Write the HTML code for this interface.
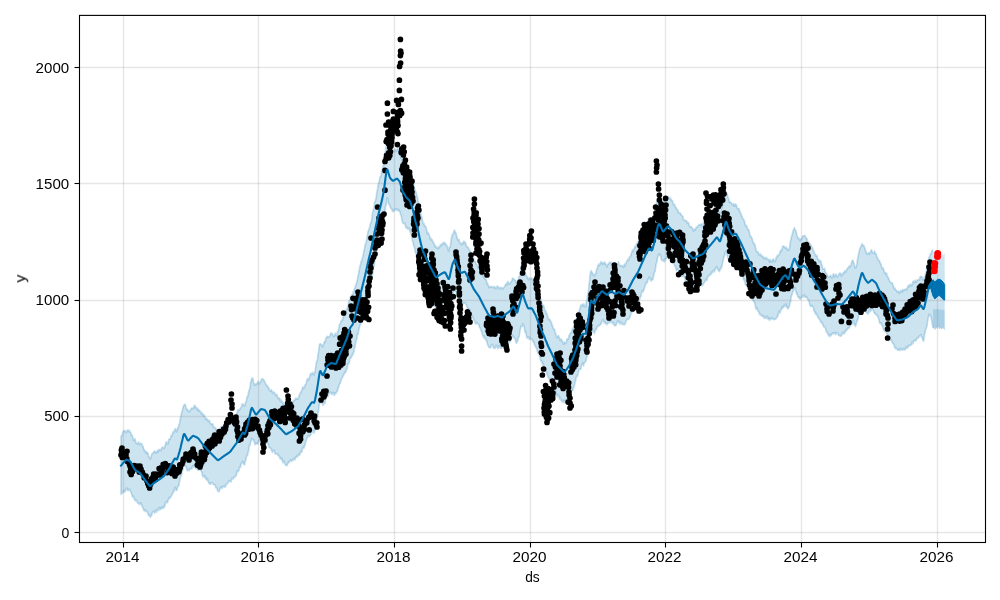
<!DOCTYPE html>
<html><head><meta charset="utf-8"><title>Forecast plot</title>
<style>html,body{margin:0;padding:0;background:#fff;}body{width:1000px;height:600px;overflow:hidden;font-family:"Liberation Sans",sans-serif;}svg{display:block;}</style></head>
<body>
<svg width="1000" height="600" viewBox="0 0 1000 600">
<rect width="1000" height="600" fill="#fff"/>
<clipPath id="c"><rect x="79.5" y="15.4" width="906.0" height="527.1"/></clipPath>
<g clip-path="url(#c)">
<path d="M121.0,436.0 L121.5,436.5 L122.0,435.7 L122.5,433.4 L123.0,431.9 L123.5,431.0 L124.0,431.5 L124.5,430.4 L125.0,431.3 L125.5,431.2 L126.0,432.5 L126.5,432.7 L127.0,430.6 L127.5,430.3 L128.0,429.9 L128.5,431.3 L129.0,431.7 L129.5,430.4 L130.0,432.2 L130.5,432.2 L131.0,433.3 L131.5,435.5 L132.0,435.1 L132.5,436.4 L133.0,438.1 L133.5,440.3 L134.0,439.8 L134.5,439.2 L135.0,438.8 L135.5,441.3 L136.0,442.9 L136.5,443.1 L137.0,443.0 L137.5,444.0 L138.0,443.4 L138.5,441.9 L139.0,443.3 L139.5,444.8 L140.0,444.2 L140.5,443.1 L141.0,443.6 L141.5,443.8 L142.0,444.5 L142.5,446.1 L143.0,446.1 L143.5,448.1 L144.0,450.3 L144.5,449.9 L145.0,450.3 L145.5,452.9 L146.0,451.7 L146.5,451.8 L147.0,453.3 L147.5,452.4 L148.0,453.6 L148.5,456.5 L149.0,456.6 L149.5,457.6 L150.0,458.8 L150.5,459.0 L151.0,457.1 L151.5,455.0 L152.0,453.7 L152.5,453.4 L153.0,453.5 L153.5,452.1 L154.0,451.6 L154.5,451.0 L155.0,452.5 L155.5,451.8 L156.0,451.7 L156.5,453.1 L157.0,452.2 L157.5,450.4 L158.0,450.2 L158.5,451.6 L159.0,449.3 L159.5,449.8 L160.0,449.9 L160.5,449.7 L161.0,450.5 L161.5,448.6 L162.0,447.3 L162.5,447.7 L163.0,447.0 L163.5,448.1 L164.0,448.4 L164.5,448.1 L165.0,445.5 L165.5,444.3 L166.0,442.3 L166.5,441.8 L167.0,443.6 L167.5,443.9 L168.0,443.8 L168.5,440.8 L169.0,439.0 L169.5,439.1 L170.0,439.3 L170.5,438.3 L171.0,435.4 L171.5,436.4 L172.0,435.8 L172.5,433.1 L173.0,431.9 L173.5,433.0 L174.0,431.1 L174.5,430.8 L175.0,428.6 L175.5,430.5 L176.0,429.2 L176.5,431.8 L177.0,430.3 L177.5,428.1 L178.0,428.7 L178.5,426.6 L179.0,424.4 L179.5,423.8 L180.0,420.5 L180.5,417.8 L181.0,415.5 L181.5,412.8 L182.0,411.2 L182.5,410.1 L183.0,407.8 L183.5,405.9 L184.0,405.0 L184.5,404.8 L185.0,404.2 L185.5,405.1 L186.0,407.9 L186.5,408.4 L187.0,409.9 L187.5,409.6 L188.0,410.0 L188.5,411.7 L189.0,411.2 L189.5,411.9 L190.0,410.9 L190.5,409.8 L191.0,408.8 L191.5,408.2 L192.0,408.3 L192.5,408.9 L193.0,407.9 L193.5,408.5 L194.0,406.5 L194.5,405.6 L195.0,405.3 L195.5,407.8 L196.0,406.9 L196.5,408.3 L197.0,409.8 L197.5,408.4 L198.0,408.6 L198.5,411.1 L199.0,409.8 L199.5,410.8 L200.0,410.6 L200.5,412.6 L201.0,413.3 L201.5,412.2 L202.0,414.1 L202.5,413.4 L203.0,415.9 L203.5,415.1 L204.0,414.8 L204.5,415.8 L205.0,417.0 L205.5,419.2 L206.0,418.2 L206.5,419.5 L207.0,418.7 L207.5,420.7 L208.0,419.8 L208.5,421.6 L209.0,420.8 L209.5,420.7 L210.0,422.3 L210.5,423.6 L211.0,423.5 L211.5,424.6 L212.0,423.9 L212.5,423.7 L213.0,424.8 L213.5,427.1 L214.0,427.5 L214.5,427.4 L215.0,427.3 L215.5,429.2 L216.0,428.5 L216.5,431.0 L217.0,432.0 L217.5,431.6 L218.0,431.1 L218.5,431.6 L219.0,430.4 L219.5,430.9 L220.0,429.9 L220.5,428.0 L221.0,427.0 L221.5,427.0 L222.0,426.2 L222.5,428.4 L223.0,427.1 L223.5,426.4 L224.0,425.4 L224.5,425.1 L225.0,427.3 L225.5,425.5 L226.0,424.8 L226.5,423.3 L227.0,424.0 L227.5,423.2 L228.0,422.0 L228.5,421.5 L229.0,421.0 L229.5,421.5 L230.0,422.3 L230.5,422.9 L231.0,422.6 L231.5,421.0 L232.0,421.9 L232.5,421.1 L233.0,418.0 L233.5,419.1 L234.0,418.7 L234.5,416.1 L235.0,415.8 L235.5,416.3 L236.0,415.4 L236.5,415.0 L237.0,412.9 L237.5,411.2 L238.0,409.9 L238.5,410.4 L239.0,410.3 L239.5,409.3 L240.0,409.4 L240.5,408.0 L241.0,407.4 L241.5,406.8 L242.0,403.9 L242.5,404.3 L243.0,404.6 L243.5,404.4 L244.0,405.0 L244.5,406.1 L245.0,405.5 L245.5,402.3 L246.0,401.9 L246.5,400.3 L247.0,396.9 L247.5,396.6 L248.0,395.4 L248.5,393.0 L249.0,390.3 L249.5,389.3 L250.0,387.8 L250.5,382.6 L251.0,381.6 L251.5,379.5 L252.0,378.0 L252.5,378.2 L253.0,378.7 L253.5,382.2 L254.0,383.8 L254.5,385.2 L255.0,384.1 L255.5,385.0 L256.0,383.8 L256.5,384.5 L257.0,383.2 L257.5,382.8 L258.0,381.3 L258.5,383.1 L259.0,383.9 L259.5,383.8 L260.0,381.7 L260.5,382.5 L261.0,380.6 L261.5,379.5 L262.0,378.6 L262.5,378.9 L263.0,379.0 L263.5,380.0 L264.0,380.0 L264.5,381.9 L265.0,382.1 L265.5,383.8 L266.0,384.4 L266.5,385.2 L267.0,386.1 L267.5,385.5 L268.0,387.8 L268.5,387.9 L269.0,387.8 L269.5,390.5 L270.0,391.0 L270.5,391.1 L271.0,390.0 L271.5,389.9 L272.0,391.0 L272.5,393.2 L273.0,392.8 L273.5,392.0 L274.0,392.4 L274.5,392.4 L275.0,393.8 L275.5,395.3 L276.0,395.0 L276.5,395.1 L277.0,394.3 L277.5,397.3 L278.0,397.4 L278.5,398.9 L279.0,397.9 L279.5,398.1 L280.0,400.4 L280.5,401.4 L281.0,399.3 L281.5,401.6 L282.0,401.9 L282.5,401.6 L283.0,403.3 L283.5,404.8 L284.0,402.9 L284.5,403.7 L285.0,405.8 L285.5,406.0 L286.0,405.5 L286.5,403.7 L287.0,403.3 L287.5,404.4 L288.0,402.9 L288.5,403.8 L289.0,402.3 L289.5,402.9 L290.0,402.5 L290.5,402.9 L291.0,401.9 L291.5,403.6 L292.0,403.8 L292.5,401.6 L293.0,402.8 L293.5,400.9 L294.0,400.5 L294.5,399.8 L295.0,400.1 L295.5,398.6 L296.0,398.1 L296.5,398.8 L297.0,399.3 L297.5,398.3 L298.0,399.1 L298.5,398.5 L299.0,395.7 L299.5,394.3 L300.0,393.9 L300.5,392.3 L301.0,392.7 L301.5,390.6 L302.0,389.4 L302.5,388.1 L303.0,386.7 L303.5,388.3 L304.0,387.9 L304.5,387.9 L305.0,384.8 L305.5,384.7 L306.0,383.9 L306.5,382.0 L307.0,379.9 L307.5,378.7 L308.0,380.1 L308.5,380.3 L309.0,377.9 L309.5,378.0 L310.0,375.0 L310.5,374.4 L311.0,373.1 L311.5,374.5 L312.0,373.3 L312.5,374.1 L313.0,372.2 L313.5,374.5 L314.0,374.9 L314.5,372.8 L315.0,372.6 L315.5,368.4 L316.0,365.3 L316.5,361.5 L317.0,361.2 L317.5,359.4 L318.0,354.2 L318.5,352.5 L319.0,348.0 L319.5,344.2 L320.0,343.9 L320.5,343.7 L321.0,344.8 L321.5,345.2 L322.0,344.9 L322.5,346.9 L323.0,345.6 L323.5,344.6 L324.0,342.4 L324.5,341.7 L325.0,342.6 L325.5,340.2 L326.0,337.9 L326.5,338.2 L327.0,336.4 L327.5,336.6 L328.0,337.1 L328.5,336.8 L329.0,337.1 L329.5,336.1 L330.0,336.0 L330.5,334.1 L331.0,332.8 L331.5,333.8 L332.0,333.7 L332.5,334.1 L333.0,335.4 L333.5,336.6 L334.0,335.5 L334.5,336.2 L335.0,333.9 L335.5,333.2 L336.0,335.4 L336.5,335.6 L337.0,334.6 L337.5,331.4 L338.0,331.6 L338.5,329.8 L339.0,327.0 L339.5,324.8 L340.0,323.6 L340.5,323.7 L341.0,321.0 L341.5,321.5 L342.0,319.8 L342.5,320.1 L343.0,317.1 L343.5,316.2 L344.0,316.1 L344.5,313.7 L345.0,312.9 L345.5,311.5 L346.0,310.2 L346.5,309.2 L347.0,309.6 L347.5,307.2 L348.0,306.4 L348.5,302.6 L349.0,301.5 L349.5,300.0 L350.0,298.9 L350.5,296.5 L351.0,297.3 L351.5,295.4 L352.0,295.2 L352.5,293.9 L353.0,293.9 L353.5,291.4 L354.0,291.3 L354.5,288.1 L355.0,288.1 L355.5,285.4 L356.0,284.6 L356.5,283.1 L357.0,281.1 L357.5,278.9 L358.0,275.5 L358.5,274.4 L359.0,270.7 L359.5,268.9 L360.0,265.7 L360.5,265.2 L361.0,261.5 L361.5,261.2 L362.0,260.2 L362.5,257.9 L363.0,255.8 L363.5,253.1 L364.0,250.8 L364.5,248.7 L365.0,245.2 L365.5,243.9 L366.0,243.0 L366.5,240.3 L367.0,238.0 L367.5,234.5 L368.0,231.5 L368.5,230.4 L369.0,229.2 L369.5,227.8 L370.0,225.4 L370.5,223.2 L371.0,222.5 L371.5,220.4 L372.0,217.7 L372.5,213.2 L373.0,210.8 L373.5,209.8 L374.0,207.6 L374.5,202.7 L375.0,201.6 L375.5,200.3 L376.0,198.3 L376.5,195.1 L377.0,191.4 L377.5,189.5 L378.0,185.8 L378.5,183.3 L379.0,182.8 L379.5,179.8 L380.0,177.1 L380.5,176.6 L381.0,176.1 L381.5,173.8 L382.0,169.8 L382.5,168.5 L383.0,167.0 L383.5,165.6 L384.0,161.0 L384.5,157.0 L385.0,153.8 L385.5,150.7 L386.0,146.8 L386.5,143.1 L387.0,140.4 L387.5,139.0 L388.0,142.0 L388.5,143.9 L389.0,144.4 L389.5,147.3 L390.0,146.9 L390.5,147.4 L391.0,148.1 L391.5,150.0 L392.0,151.2 L392.5,150.3 L393.0,150.3 L393.5,149.7 L394.0,151.7 L394.5,150.9 L395.0,149.0 L395.5,149.8 L396.0,150.3 L396.5,151.3 L397.0,149.6 L397.5,148.4 L398.0,149.6 L398.5,149.2 L399.0,149.3 L399.5,152.8 L400.0,152.6 L400.5,154.6 L401.0,157.9 L401.5,158.8 L402.0,159.0 L402.5,162.1 L403.0,161.2 L403.5,163.7 L404.0,165.4 L404.5,164.8 L405.0,165.1 L405.5,166.0 L406.0,168.1 L406.5,169.3 L407.0,169.5 L407.5,170.7 L408.0,169.8 L408.5,172.0 L409.0,173.0 L409.5,171.6 L410.0,173.2 L410.5,174.7 L411.0,176.8 L411.5,176.4 L412.0,178.4 L412.5,180.3 L413.0,181.6 L413.5,184.3 L414.0,186.1 L414.5,188.8 L415.0,189.9 L415.5,190.9 L416.0,192.3 L416.5,193.8 L417.0,196.1 L417.5,197.0 L418.0,200.9 L418.5,204.0 L419.0,204.7 L419.5,207.5 L420.0,211.5 L420.5,211.8 L421.0,215.9 L421.5,216.1 L422.0,217.3 L422.5,221.1 L423.0,222.8 L423.5,224.0 L424.0,223.4 L424.5,226.0 L425.0,226.3 L425.5,226.0 L426.0,227.4 L426.5,228.8 L427.0,232.1 L427.5,233.7 L428.0,232.2 L428.5,233.4 L429.0,234.2 L429.5,235.8 L430.0,238.1 L430.5,239.6 L431.0,238.0 L431.5,240.4 L432.0,239.4 L432.5,241.2 L433.0,241.5 L433.5,242.7 L434.0,243.4 L434.5,244.4 L435.0,246.8 L435.5,246.3 L436.0,246.2 L436.5,248.0 L437.0,248.2 L437.5,247.3 L438.0,248.4 L438.5,248.7 L439.0,246.3 L439.5,247.4 L440.0,245.9 L440.5,244.5 L441.0,244.8 L441.5,245.5 L442.0,244.3 L442.5,243.0 L443.0,244.0 L443.5,242.6 L444.0,243.9 L444.5,242.2 L445.0,244.2 L445.5,243.3 L446.0,245.4 L446.5,245.0 L447.0,245.7 L447.5,247.5 L448.0,248.2 L448.5,251.2 L449.0,249.1 L449.5,246.9 L450.0,247.2 L450.5,245.1 L451.0,241.1 L451.5,237.7 L452.0,235.9 L452.5,234.3 L453.0,234.1 L453.5,233.5 L454.0,231.0 L454.5,230.2 L455.0,231.9 L455.5,232.2 L456.0,233.1 L456.5,235.3 L457.0,237.3 L457.5,239.3 L458.0,240.1 L458.5,239.8 L459.0,239.3 L459.5,241.8 L460.0,242.9 L460.5,243.2 L461.0,244.1 L461.5,244.6 L462.0,242.9 L462.5,244.1 L463.0,243.5 L463.5,241.7 L464.0,241.1 L464.5,243.5 L465.0,241.9 L465.5,243.3 L466.0,244.5 L466.5,246.6 L467.0,246.7 L467.5,246.6 L468.0,247.8 L468.5,247.9 L469.0,249.3 L469.5,250.2 L470.0,250.3 L470.5,252.2 L471.0,253.4 L471.5,254.1 L472.0,257.4 L472.5,256.9 L473.0,257.9 L473.5,258.0 L474.0,260.8 L474.5,261.3 L475.0,261.0 L475.5,261.7 L476.0,264.0 L476.5,264.2 L477.0,265.0 L477.5,266.6 L478.0,267.9 L478.5,267.2 L479.0,267.5 L479.5,266.8 L480.0,268.0 L480.5,269.1 L481.0,270.6 L481.5,272.7 L482.0,275.0 L482.5,273.7 L483.0,276.5 L483.5,275.7 L484.0,277.6 L484.5,276.8 L485.0,279.1 L485.5,278.8 L486.0,279.6 L486.5,280.8 L487.0,283.8 L487.5,283.1 L488.0,284.8 L488.5,286.3 L489.0,287.6 L489.5,286.3 L490.0,286.8 L490.5,286.8 L491.0,287.2 L491.5,286.4 L492.0,287.0 L492.5,287.3 L493.0,287.6 L493.5,287.9 L494.0,286.3 L494.5,287.0 L495.0,287.9 L495.5,287.3 L496.0,288.9 L496.5,288.5 L497.0,286.1 L497.5,287.2 L498.0,286.6 L498.5,287.0 L499.0,288.7 L499.5,288.9 L500.0,287.8 L500.5,287.6 L501.0,288.1 L501.5,287.4 L502.0,287.7 L502.5,288.9 L503.0,289.2 L503.5,287.9 L504.0,287.1 L504.5,287.0 L505.0,285.6 L505.5,284.6 L506.0,285.1 L506.5,283.1 L507.0,284.9 L507.5,282.6 L508.0,281.3 L508.5,283.5 L509.0,283.5 L509.5,284.1 L510.0,283.1 L510.5,282.5 L511.0,281.8 L511.5,281.0 L512.0,280.6 L512.5,278.1 L513.0,278.6 L513.5,278.5 L514.0,279.5 L514.5,279.9 L515.0,279.9 L515.5,280.5 L516.0,282.5 L516.5,282.0 L517.0,281.4 L517.5,282.7 L518.0,282.2 L518.5,277.8 L519.0,276.7 L519.5,276.5 L520.0,273.5 L520.5,271.9 L521.0,268.7 L521.5,265.7 L522.0,263.9 L522.5,262.9 L523.0,263.2 L523.5,266.7 L524.0,269.3 L524.5,269.1 L525.0,272.0 L525.5,274.1 L526.0,275.3 L526.5,275.9 L527.0,276.2 L527.5,278.6 L528.0,277.5 L528.5,279.8 L529.0,278.9 L529.5,278.1 L530.0,278.8 L530.5,278.7 L531.0,278.9 L531.5,277.9 L532.0,278.6 L532.5,280.3 L533.0,280.9 L533.5,283.6 L534.0,284.0 L534.5,283.0 L535.0,285.3 L535.5,285.6 L536.0,288.5 L536.5,289.4 L537.0,289.9 L537.5,290.8 L538.0,292.7 L538.5,295.0 L539.0,294.1 L539.5,295.8 L540.0,298.6 L540.5,297.9 L541.0,300.8 L541.5,301.8 L542.0,303.9 L542.5,304.9 L543.0,304.8 L543.5,306.1 L544.0,306.1 L544.5,309.3 L545.0,310.3 L545.5,311.0 L546.0,311.3 L546.5,313.9 L547.0,313.4 L547.5,316.2 L548.0,317.4 L548.5,319.5 L549.0,319.6 L549.5,319.2 L550.0,319.6 L550.5,320.9 L551.0,322.2 L551.5,322.4 L552.0,326.0 L552.5,325.2 L553.0,327.8 L553.5,328.9 L554.0,329.7 L554.5,329.1 L555.0,332.2 L555.5,333.2 L556.0,335.0 L556.5,336.9 L557.0,337.8 L557.5,336.6 L558.0,336.0 L558.5,335.6 L559.0,337.4 L559.5,338.1 L560.0,340.2 L560.5,340.4 L561.0,339.1 L561.5,339.3 L562.0,340.9 L562.5,342.0 L563.0,342.1 L563.5,344.1 L564.0,342.7 L564.5,342.0 L565.0,343.5 L565.5,343.4 L566.0,342.9 L566.5,341.7 L567.0,338.8 L567.5,339.5 L568.0,339.2 L568.5,338.4 L569.0,335.9 L569.5,334.7 L570.0,334.4 L570.5,332.8 L571.0,333.1 L571.5,332.8 L572.0,329.8 L572.5,328.5 L573.0,329.4 L573.5,326.7 L574.0,324.4 L574.5,325.2 L575.0,323.5 L575.5,323.2 L576.0,321.7 L576.5,318.8 L577.0,318.4 L577.5,315.5 L578.0,313.8 L578.5,311.8 L579.0,312.4 L579.5,309.5 L580.0,308.2 L580.5,306.4 L581.0,305.0 L581.5,306.0 L582.0,305.4 L582.5,304.2 L583.0,304.0 L583.5,306.2 L584.0,304.0 L584.5,305.8 L585.0,305.9 L585.5,306.8 L586.0,305.7 L586.5,301.4 L587.0,299.8 L587.5,295.3 L588.0,293.8 L588.5,290.0 L589.0,284.7 L589.5,281.7 L590.0,275.5 L590.5,273.0 L591.0,270.6 L591.5,271.8 L592.0,273.5 L592.5,272.5 L593.0,274.3 L593.5,275.4 L594.0,276.0 L594.5,275.8 L595.0,273.8 L595.5,273.8 L596.0,273.1 L596.5,269.9 L597.0,268.5 L597.5,267.3 L598.0,265.1 L598.5,265.3 L599.0,264.0 L599.5,265.4 L600.0,264.0 L600.5,263.3 L601.0,261.5 L601.5,263.4 L602.0,262.7 L602.5,262.7 L603.0,264.5 L603.5,262.9 L604.0,262.6 L604.5,262.0 L605.0,264.2 L605.5,263.1 L606.0,264.7 L606.5,266.1 L607.0,267.2 L607.5,264.6 L608.0,264.6 L608.5,263.6 L609.0,263.3 L609.5,263.5 L610.0,261.8 L610.5,262.8 L611.0,263.5 L611.5,262.6 L612.0,264.0 L612.5,263.3 L613.0,264.5 L613.5,263.5 L614.0,263.8 L614.5,265.5 L615.0,266.2 L615.5,263.9 L616.0,265.7 L616.5,263.9 L617.0,264.3 L617.5,264.0 L618.0,263.4 L618.5,261.6 L619.0,264.0 L619.5,265.2 L620.0,265.5 L620.5,266.1 L621.0,265.7 L621.5,265.8 L622.0,265.5 L622.5,265.8 L623.0,265.8 L623.5,267.4 L624.0,265.8 L624.5,264.1 L625.0,265.7 L625.5,263.8 L626.0,263.5 L626.5,261.6 L627.0,261.0 L627.5,260.3 L628.0,258.9 L628.5,260.3 L629.0,259.4 L629.5,257.1 L630.0,256.5 L630.5,256.2 L631.0,254.4 L631.5,252.8 L632.0,252.1 L632.5,249.9 L633.0,251.4 L633.5,250.5 L634.0,248.8 L634.5,247.6 L635.0,246.2 L635.5,247.5 L636.0,245.0 L636.5,244.6 L637.0,242.9 L637.5,244.6 L638.0,242.1 L638.5,241.0 L639.0,240.8 L639.5,240.7 L640.0,239.8 L640.5,238.8 L641.0,237.9 L641.5,237.3 L642.0,236.2 L642.5,234.8 L643.0,232.6 L643.5,231.3 L644.0,230.7 L644.5,229.3 L645.0,227.5 L645.5,227.0 L646.0,225.1 L646.5,223.6 L647.0,223.8 L647.5,222.4 L648.0,220.1 L648.5,218.4 L649.0,219.0 L649.5,220.7 L650.0,221.7 L650.5,222.8 L651.0,221.8 L651.5,220.2 L652.0,220.9 L652.5,221.4 L653.0,219.0 L653.5,216.9 L654.0,215.5 L654.5,212.7 L655.0,210.2 L655.5,208.8 L656.0,204.8 L656.5,202.6 L657.0,200.9 L657.5,200.0 L658.0,197.2 L658.5,197.5 L659.0,196.1 L659.5,194.4 L660.0,197.0 L660.5,197.5 L661.0,199.7 L661.5,201.1 L662.0,202.7 L662.5,201.6 L663.0,202.3 L663.5,201.3 L664.0,201.8 L664.5,200.7 L665.0,200.8 L665.5,199.8 L666.0,198.7 L666.5,196.8 L667.0,198.5 L667.5,198.3 L668.0,197.7 L668.5,196.8 L669.0,197.8 L669.5,198.7 L670.0,197.8 L670.5,199.8 L671.0,198.8 L671.5,200.0 L672.0,201.3 L672.5,200.6 L673.0,203.3 L673.5,204.9 L674.0,204.3 L674.5,204.3 L675.0,206.5 L675.5,207.6 L676.0,207.1 L676.5,209.0 L677.0,209.6 L677.5,209.5 L678.0,212.0 L678.5,211.3 L679.0,213.0 L679.5,213.3 L680.0,213.4 L680.5,213.1 L681.0,215.0 L681.5,214.9 L682.0,215.9 L682.5,216.0 L683.0,216.9 L683.5,219.8 L684.0,220.1 L684.5,220.6 L685.0,220.8 L685.5,220.2 L686.0,220.9 L686.5,221.0 L687.0,221.4 L687.5,223.3 L688.0,222.8 L688.5,222.6 L689.0,225.3 L689.5,225.5 L690.0,227.2 L690.5,226.7 L691.0,226.9 L691.5,226.7 L692.0,227.9 L692.5,228.6 L693.0,229.8 L693.5,230.9 L694.0,229.3 L694.5,229.3 L695.0,230.0 L695.5,229.0 L696.0,227.6 L696.5,227.2 L697.0,227.5 L697.5,226.9 L698.0,225.7 L698.5,225.6 L699.0,224.7 L699.5,225.1 L700.0,224.9 L700.5,224.8 L701.0,224.0 L701.5,224.0 L702.0,226.1 L702.5,226.8 L703.0,224.3 L703.5,222.6 L704.0,223.5 L704.5,222.8 L705.0,223.1 L705.5,223.4 L706.0,222.5 L706.5,220.0 L707.0,220.6 L707.5,218.2 L708.0,217.2 L708.5,216.9 L709.0,215.6 L709.5,216.7 L710.0,217.5 L710.5,217.1 L711.0,215.7 L711.5,214.4 L712.0,215.2 L712.5,213.3 L713.0,214.1 L713.5,211.3 L714.0,210.0 L714.5,209.3 L715.0,210.5 L715.5,210.6 L716.0,210.4 L716.5,208.4 L717.0,209.9 L717.5,210.9 L718.0,211.4 L718.5,211.7 L719.0,210.4 L719.5,211.5 L720.0,213.3 L720.5,212.7 L721.0,211.0 L721.5,207.8 L722.0,207.8 L722.5,205.5 L723.0,201.8 L723.5,200.3 L724.0,198.2 L724.5,197.6 L725.0,194.6 L725.5,193.2 L726.0,194.1 L726.5,193.1 L727.0,193.5 L727.5,195.2 L728.0,197.5 L728.5,198.2 L729.0,200.5 L729.5,202.6 L730.0,201.7 L730.5,202.6 L731.0,202.4 L731.5,203.3 L732.0,204.6 L732.5,204.8 L733.0,204.7 L733.5,203.6 L734.0,206.1 L734.5,204.1 L735.0,206.1 L735.5,204.0 L736.0,204.4 L736.5,205.4 L737.0,207.8 L737.5,208.4 L738.0,209.3 L738.5,208.8 L739.0,208.4 L739.5,211.4 L740.0,211.1 L740.5,213.9 L741.0,213.4 L741.5,216.1 L742.0,216.2 L742.5,218.5 L743.0,218.6 L743.5,219.3 L744.0,219.7 L744.5,221.6 L745.0,224.0 L745.5,225.9 L746.0,226.0 L746.5,225.5 L747.0,227.3 L747.5,229.1 L748.0,229.7 L748.5,229.3 L749.0,231.0 L749.5,233.3 L750.0,235.4 L750.5,236.8 L751.0,236.4 L751.5,237.6 L752.0,238.3 L752.5,240.3 L753.0,242.7 L753.5,242.4 L754.0,243.8 L754.5,243.9 L755.0,244.9 L755.5,248.1 L756.0,249.7 L756.5,251.2 L757.0,251.9 L757.5,252.3 L758.0,251.7 L758.5,254.2 L759.0,254.8 L759.5,254.6 L760.0,253.7 L760.5,255.7 L761.0,254.7 L761.5,255.5 L762.0,256.1 L762.5,257.1 L763.0,256.2 L763.5,258.7 L764.0,257.3 L764.5,257.4 L765.0,258.4 L765.5,258.8 L766.0,258.2 L766.5,257.5 L767.0,258.9 L767.5,259.0 L768.0,259.2 L768.5,259.7 L769.0,260.7 L769.5,262.0 L770.0,259.6 L770.5,259.6 L771.0,261.6 L771.5,261.9 L772.0,262.1 L772.5,260.5 L773.0,259.0 L773.5,259.1 L774.0,260.6 L774.5,261.6 L775.0,261.4 L775.5,261.1 L776.0,258.1 L776.5,256.9 L777.0,257.1 L777.5,255.0 L778.0,255.7 L778.5,255.6 L779.0,254.7 L779.5,253.8 L780.0,251.4 L780.5,251.9 L781.0,250.0 L781.5,251.0 L782.0,248.5 L782.5,247.0 L783.0,246.3 L783.5,246.1 L784.0,246.1 L784.5,247.6 L785.0,247.5 L785.5,248.4 L786.0,247.1 L786.5,247.7 L787.0,249.4 L787.5,248.6 L788.0,250.3 L788.5,250.1 L789.0,250.1 L789.5,248.6 L790.0,243.8 L790.5,240.9 L791.0,239.5 L791.5,236.5 L792.0,235.2 L792.5,233.6 L793.0,230.8 L793.5,229.8 L794.0,229.2 L794.5,227.6 L795.0,229.7 L795.5,230.3 L796.0,231.1 L796.5,233.1 L797.0,236.1 L797.5,236.7 L798.0,238.4 L798.5,238.7 L799.0,238.1 L799.5,239.5 L800.0,240.7 L800.5,238.9 L801.0,239.3 L801.5,239.0 L802.0,238.4 L802.5,236.3 L803.0,236.0 L803.5,236.3 L804.0,235.7 L804.5,236.1 L805.0,235.6 L805.5,237.1 L806.0,238.5 L806.5,238.1 L807.0,238.7 L807.5,240.7 L808.0,242.7 L808.5,244.0 L809.0,242.3 L809.5,243.8 L810.0,244.1 L810.5,245.1 L811.0,244.7 L811.5,247.9 L812.0,247.6 L812.5,247.7 L813.0,250.0 L813.5,250.5 L814.0,251.8 L814.5,253.0 L815.0,254.3 L815.5,254.8 L816.0,256.2 L816.5,255.7 L817.0,255.4 L817.5,258.0 L818.0,259.8 L818.5,259.1 L819.0,260.4 L819.5,261.6 L820.0,260.5 L820.5,260.5 L821.0,261.9 L821.5,264.0 L822.0,264.9 L822.5,267.4 L823.0,269.2 L823.5,269.2 L824.0,268.7 L824.5,268.4 L825.0,270.8 L825.5,272.4 L826.0,272.7 L826.5,273.4 L827.0,274.3 L827.5,275.6 L828.0,276.4 L828.5,277.1 L829.0,277.4 L829.5,276.6 L830.0,276.5 L830.5,275.3 L831.0,275.9 L831.5,277.1 L832.0,278.2 L832.5,277.9 L833.0,275.1 L833.5,273.9 L834.0,275.0 L834.5,276.7 L835.0,274.7 L835.5,275.7 L836.0,274.1 L836.5,275.6 L837.0,276.9 L837.5,276.4 L838.0,276.7 L838.5,275.3 L839.0,273.9 L839.5,273.2 L840.0,274.0 L840.5,273.2 L841.0,274.1 L841.5,276.3 L842.0,274.7 L842.5,273.8 L843.0,272.9 L843.5,274.0 L844.0,272.6 L844.5,271.4 L845.0,270.4 L845.5,272.0 L846.0,272.0 L846.5,270.1 L847.0,269.6 L847.5,267.9 L848.0,268.3 L848.5,268.0 L849.0,266.3 L849.5,265.7 L850.0,266.8 L850.5,266.9 L851.0,264.7 L851.5,262.7 L852.0,261.1 L852.5,260.5 L853.0,260.2 L853.5,262.6 L854.0,263.3 L854.5,265.4 L855.0,267.8 L855.5,266.9 L856.0,267.5 L856.5,266.0 L857.0,263.2 L857.5,259.3 L858.0,257.3 L858.5,254.4 L859.0,252.1 L859.5,250.1 L860.0,248.2 L860.5,247.6 L861.0,245.7 L861.5,245.8 L862.0,243.5 L862.5,245.2 L863.0,245.0 L863.5,245.6 L864.0,245.7 L864.5,247.6 L865.0,248.8 L865.5,250.9 L866.0,251.6 L866.5,252.8 L867.0,254.3 L867.5,253.7 L868.0,253.5 L868.5,253.1 L869.0,252.7 L869.5,254.2 L870.0,253.3 L870.5,251.5 L871.0,250.9 L871.5,249.7 L872.0,251.5 L872.5,252.7 L873.0,252.9 L873.5,253.0 L874.0,252.2 L874.5,251.0 L875.0,253.6 L875.5,254.1 L876.0,253.6 L876.5,255.6 L877.0,257.2 L877.5,257.9 L878.0,259.3 L878.5,260.4 L879.0,260.2 L879.5,260.8 L880.0,262.4 L880.5,263.7 L881.0,263.8 L881.5,266.7 L882.0,267.1 L882.5,268.8 L883.0,267.9 L883.5,268.9 L884.0,271.1 L884.5,272.8 L885.0,272.3 L885.5,274.1 L886.0,273.1 L886.5,273.0 L887.0,275.8 L887.5,276.3 L888.0,276.9 L888.5,278.6 L889.0,279.2 L889.5,280.8 L890.0,281.8 L890.5,282.2 L891.0,282.3 L891.5,282.9 L892.0,283.0 L892.5,283.1 L893.0,285.7 L893.5,286.0 L894.0,288.2 L894.5,288.9 L895.0,288.1 L895.5,290.1 L896.0,289.9 L896.5,290.5 L897.0,291.8 L897.5,291.3 L898.0,292.3 L898.5,291.2 L899.0,292.6 L899.5,293.3 L900.0,291.5 L900.5,290.5 L901.0,291.5 L901.5,291.1 L902.0,292.1 L902.5,289.5 L903.0,289.6 L903.5,290.9 L904.0,290.1 L904.5,289.5 L905.0,289.3 L905.5,289.7 L906.0,288.8 L906.5,289.2 L907.0,289.6 L907.5,287.4 L908.0,286.1 L908.5,285.3 L909.0,286.9 L909.5,284.9 L910.0,286.0 L910.5,284.0 L911.0,284.0 L911.5,285.8 L912.0,285.8 L912.5,283.8 L913.0,281.5 L913.5,281.2 L914.0,281.1 L914.5,282.7 L915.0,282.1 L915.5,280.1 L916.0,281.8 L916.5,282.4 L917.0,280.3 L917.5,280.3 L918.0,279.7 L918.5,279.6 L919.0,279.8 L919.5,279.9 L920.0,276.7 L920.5,276.5 L921.0,276.7 L921.5,276.3 L922.0,276.9 L922.5,279.5 L923.0,279.9 L923.5,279.9 L924.0,277.6 L924.5,277.0 L925.0,276.3 L925.5,273.9 L926.0,272.7 L926.5,270.5 L927.0,267.8 L927.5,263.9 L928.0,262.8 L928.5,261.3 L929.0,257.0 L929.5,256.9 L930.0,255.4 L930.5,253.8 L931.0,254.2 L931.5,251.9 L932.0,250.5 L932.5,250.4 L933.0,251.3 L933.0,328.0 L932.5,325.3 L932.0,322.6 L931.5,319.9 L931.0,317.2 L930.5,315.3 L930.0,315.1 L929.5,315.7 L929.0,314.4 L928.5,316.6 L928.0,319.1 L927.5,322.2 L927.0,325.8 L926.5,327.4 L926.0,329.2 L925.5,330.1 L925.0,332.2 L924.5,335.0 L924.0,338.9 L923.5,341.1 L923.0,340.7 L922.5,338.6 L922.0,337.9 L921.5,336.6 L921.0,334.6 L920.5,335.0 L920.0,335.5 L919.5,336.6 L919.0,336.3 L918.5,337.6 L918.0,338.3 L917.5,338.1 L917.0,337.8 L916.5,339.4 L916.0,340.9 L915.5,339.7 L915.0,340.4 L914.5,340.9 L914.0,340.5 L913.5,341.6 L913.0,343.6 L912.5,342.3 L912.0,342.4 L911.5,344.9 L911.0,344.6 L910.5,345.2 L910.0,345.2 L909.5,346.0 L909.0,345.8 L908.5,345.5 L908.0,347.7 L907.5,346.6 L907.0,348.2 L906.5,347.4 L906.0,346.9 L905.5,349.5 L905.0,349.6 L904.5,349.0 L904.0,350.0 L903.5,348.7 L903.0,349.3 L902.5,350.0 L902.0,350.2 L901.5,349.3 L901.0,348.8 L900.5,348.7 L900.0,350.6 L899.5,350.3 L899.0,349.0 L898.5,350.2 L898.0,349.7 L897.5,350.3 L897.0,349.0 L896.5,348.6 L896.0,347.7 L895.5,348.7 L895.0,347.6 L894.5,347.3 L894.0,344.3 L893.5,344.2 L893.0,343.5 L892.5,342.7 L892.0,342.5 L891.5,340.2 L891.0,340.4 L890.5,339.4 L890.0,339.0 L889.5,338.2 L889.0,339.1 L888.5,337.4 L888.0,337.2 L887.5,333.8 L887.0,334.1 L886.5,332.6 L886.0,331.5 L885.5,330.9 L885.0,331.8 L884.5,329.3 L884.0,330.9 L883.5,329.1 L883.0,328.1 L882.5,325.6 L882.0,325.5 L881.5,324.4 L881.0,322.8 L880.5,323.5 L880.0,323.4 L879.5,322.4 L879.0,320.1 L878.5,318.6 L878.0,317.0 L877.5,316.6 L877.0,315.0 L876.5,314.3 L876.0,314.6 L875.5,314.6 L875.0,312.9 L874.5,313.2 L874.0,312.7 L873.5,310.5 L873.0,309.2 L872.5,308.6 L872.0,310.1 L871.5,308.4 L871.0,309.8 L870.5,311.5 L870.0,311.8 L869.5,309.6 L869.0,311.1 L868.5,312.9 L868.0,314.3 L867.5,312.4 L867.0,313.2 L866.5,312.7 L866.0,310.4 L865.5,309.4 L865.0,307.1 L864.5,307.7 L864.0,305.9 L863.5,303.8 L863.0,303.8 L862.5,304.5 L862.0,304.3 L861.5,303.1 L861.0,305.3 L860.5,306.7 L860.0,310.4 L859.5,311.8 L859.0,313.2 L858.5,316.0 L858.0,319.3 L857.5,320.8 L857.0,320.3 L856.5,323.2 L856.0,324.6 L855.5,326.6 L855.0,324.1 L854.5,325.6 L854.0,323.7 L853.5,320.4 L853.0,321.2 L852.5,323.3 L852.0,324.3 L851.5,324.2 L851.0,322.8 L850.5,325.9 L850.0,324.7 L849.5,327.5 L849.0,328.2 L848.5,328.3 L848.0,327.9 L847.5,329.3 L847.0,330.0 L846.5,329.3 L846.0,331.1 L845.5,330.5 L845.0,332.8 L844.5,332.6 L844.0,333.9 L843.5,332.7 L843.0,332.1 L842.5,333.5 L842.0,333.9 L841.5,335.6 L841.0,336.2 L840.5,335.3 L840.0,336.0 L839.5,335.3 L839.0,335.5 L838.5,335.3 L838.0,333.6 L837.5,333.3 L837.0,333.4 L836.5,332.6 L836.0,332.8 L835.5,334.9 L835.0,332.7 L834.5,333.3 L834.0,333.1 L833.5,333.9 L833.0,332.9 L832.5,333.2 L832.0,334.2 L831.5,335.0 L831.0,335.6 L830.5,334.4 L830.0,336.6 L829.5,334.9 L829.0,336.2 L828.5,334.2 L828.0,334.6 L827.5,332.6 L827.0,332.3 L826.5,332.3 L826.0,330.8 L825.5,328.9 L825.0,327.1 L824.5,326.7 L824.0,326.3 L823.5,326.8 L823.0,324.2 L822.5,324.4 L822.0,322.2 L821.5,322.5 L821.0,322.5 L820.5,321.7 L820.0,320.0 L819.5,319.1 L819.0,318.7 L818.5,318.4 L818.0,316.2 L817.5,316.6 L817.0,315.1 L816.5,313.8 L816.0,314.7 L815.5,312.1 L815.0,313.4 L814.5,310.6 L814.0,311.0 L813.5,308.0 L813.0,307.3 L812.5,306.5 L812.0,305.4 L811.5,305.9 L811.0,306.2 L810.5,306.4 L810.0,305.1 L809.5,303.9 L809.0,300.7 L808.5,300.8 L808.0,299.4 L807.5,299.0 L807.0,297.5 L806.5,296.6 L806.0,297.2 L805.5,297.3 L805.0,297.2 L804.5,294.5 L804.0,295.0 L803.5,296.0 L803.0,297.5 L802.5,295.8 L802.0,296.4 L801.5,296.9 L801.0,298.1 L800.5,299.1 L800.0,298.9 L799.5,298.6 L799.0,296.7 L798.5,297.5 L798.0,296.9 L797.5,295.4 L797.0,292.8 L796.5,294.1 L796.0,291.3 L795.5,289.7 L795.0,287.9 L794.5,287.8 L794.0,289.9 L793.5,288.7 L793.0,291.8 L792.5,292.7 L792.0,294.7 L791.5,295.7 L791.0,297.7 L790.5,302.2 L790.0,302.9 L789.5,305.8 L789.0,307.0 L788.5,307.8 L788.0,308.8 L787.5,308.6 L787.0,306.0 L786.5,307.0 L786.0,304.0 L785.5,304.2 L785.0,306.4 L784.5,305.6 L784.0,305.4 L783.5,307.4 L783.0,307.5 L782.5,308.1 L782.0,306.9 L781.5,309.4 L781.0,309.8 L780.5,310.6 L780.0,313.1 L779.5,312.5 L779.0,311.3 L778.5,312.9 L778.0,316.1 L777.5,315.5 L777.0,317.6 L776.5,318.1 L776.0,318.7 L775.5,319.3 L775.0,318.9 L774.5,319.4 L774.0,319.1 L773.5,319.1 L773.0,319.5 L772.5,318.3 L772.0,317.4 L771.5,318.1 L771.0,319.2 L770.5,318.6 L770.0,320.3 L769.5,319.2 L769.0,317.9 L768.5,319.6 L768.0,318.9 L767.5,316.4 L767.0,317.0 L766.5,318.4 L766.0,318.3 L765.5,317.7 L765.0,316.7 L764.5,316.8 L764.0,318.4 L763.5,316.6 L763.0,315.4 L762.5,316.0 L762.0,316.2 L761.5,316.0 L761.0,315.5 L760.5,314.4 L760.0,313.7 L759.5,314.6 L759.0,311.9 L758.5,311.7 L758.0,310.9 L757.5,309.7 L757.0,307.9 L756.5,309.2 L756.0,309.0 L755.5,306.9 L755.0,304.0 L754.5,302.1 L754.0,301.9 L753.5,300.9 L753.0,299.5 L752.5,300.0 L752.0,297.6 L751.5,296.5 L751.0,295.9 L750.5,294.0 L750.0,293.2 L749.5,289.5 L749.0,289.2 L748.5,288.5 L748.0,289.4 L747.5,285.7 L747.0,284.8 L746.5,285.0 L746.0,285.0 L745.5,284.9 L745.0,282.7 L744.5,280.8 L744.0,278.7 L743.5,279.7 L743.0,277.4 L742.5,275.7 L742.0,275.0 L741.5,275.9 L741.0,274.9 L740.5,273.7 L740.0,271.3 L739.5,269.5 L739.0,269.5 L738.5,266.9 L738.0,267.0 L737.5,267.6 L737.0,265.0 L736.5,262.4 L736.0,263.0 L735.5,264.0 L735.0,264.5 L734.5,264.8 L734.0,264.1 L733.5,262.2 L733.0,263.2 L732.5,264.2 L732.0,263.4 L731.5,264.3 L731.0,262.1 L730.5,261.4 L730.0,261.5 L729.5,262.2 L729.0,260.2 L728.5,259.7 L728.0,258.4 L727.5,256.7 L727.0,254.4 L726.5,253.1 L726.0,251.0 L725.5,251.9 L725.0,253.4 L724.5,256.0 L724.0,256.4 L723.5,258.7 L723.0,261.2 L722.5,263.1 L722.0,265.9 L721.5,267.2 L721.0,268.8 L720.5,268.3 L720.0,270.1 L719.5,271.6 L719.0,271.2 L718.5,269.9 L718.0,269.9 L717.5,268.2 L717.0,266.8 L716.5,266.6 L716.0,269.1 L715.5,268.2 L715.0,268.8 L714.5,271.8 L714.0,271.3 L713.5,270.4 L713.0,271.7 L712.5,271.1 L712.0,273.4 L711.5,272.2 L711.0,274.6 L710.5,273.9 L710.0,275.1 L709.5,274.6 L709.0,275.7 L708.5,276.3 L708.0,276.5 L707.5,277.5 L707.0,280.3 L706.5,280.6 L706.0,279.0 L705.5,280.2 L705.0,280.9 L704.5,282.6 L704.0,282.6 L703.5,284.0 L703.0,283.8 L702.5,285.8 L702.0,285.2 L701.5,284.3 L701.0,284.8 L700.5,283.5 L700.0,283.8 L699.5,285.7 L699.0,286.2 L698.5,286.6 L698.0,286.5 L697.5,284.7 L697.0,286.2 L696.5,287.6 L696.0,287.6 L695.5,286.6 L695.0,285.6 L694.5,286.4 L694.0,287.1 L693.5,288.0 L693.0,287.0 L692.5,286.8 L692.0,287.6 L691.5,289.2 L691.0,288.0 L690.5,286.0 L690.0,284.2 L689.5,285.0 L689.0,282.4 L688.5,282.7 L688.0,283.0 L687.5,281.0 L687.0,279.9 L686.5,280.4 L686.0,280.2 L685.5,280.7 L685.0,277.9 L684.5,278.0 L684.0,276.5 L683.5,276.3 L683.0,275.5 L682.5,275.5 L682.0,276.6 L681.5,275.4 L681.0,272.9 L680.5,273.4 L680.0,274.4 L679.5,273.1 L679.0,271.1 L678.5,272.2 L678.0,270.8 L677.5,268.6 L677.0,270.3 L676.5,270.6 L676.0,269.0 L675.5,266.5 L675.0,265.9 L674.5,265.8 L674.0,262.8 L673.5,262.0 L673.0,260.9 L672.5,259.9 L672.0,261.3 L671.5,259.7 L671.0,257.1 L670.5,256.7 L670.0,257.1 L669.5,258.0 L669.0,258.9 L668.5,256.9 L668.0,256.1 L667.5,255.6 L667.0,257.4 L666.5,257.5 L666.0,259.3 L665.5,259.6 L665.0,258.8 L664.5,261.8 L664.0,260.6 L663.5,260.2 L663.0,261.2 L662.5,260.3 L662.0,260.1 L661.5,260.1 L661.0,257.3 L660.5,255.0 L660.0,255.7 L659.5,254.0 L659.0,255.1 L658.5,254.3 L658.0,256.4 L657.5,258.1 L657.0,261.4 L656.5,262.7 L656.0,265.0 L655.5,268.3 L655.0,271.5 L654.5,272.2 L654.0,273.7 L653.5,276.5 L653.0,279.3 L652.5,279.9 L652.0,279.7 L651.5,279.4 L651.0,281.1 L650.5,278.8 L650.0,279.6 L649.5,277.3 L649.0,277.1 L648.5,279.0 L648.0,279.4 L647.5,281.2 L647.0,282.9 L646.5,282.3 L646.0,283.9 L645.5,284.4 L645.0,286.2 L644.5,287.6 L644.0,289.9 L643.5,289.9 L643.0,292.0 L642.5,291.2 L642.0,290.9 L641.5,293.3 L641.0,296.2 L640.5,296.8 L640.0,298.6 L639.5,299.3 L639.0,301.1 L638.5,301.3 L638.0,301.6 L637.5,303.3 L637.0,302.9 L636.5,304.9 L636.0,304.6 L635.5,305.5 L635.0,306.0 L634.5,309.2 L634.0,309.8 L633.5,308.7 L633.0,309.0 L632.5,310.6 L632.0,312.1 L631.5,312.7 L631.0,313.2 L630.5,315.2 L630.0,316.6 L629.5,318.0 L629.0,318.6 L628.5,319.2 L628.0,319.4 L627.5,319.2 L627.0,320.1 L626.5,320.1 L626.0,321.3 L625.5,323.1 L625.0,324.0 L624.5,324.7 L624.0,324.8 L623.5,323.8 L623.0,324.0 L622.5,323.6 L622.0,324.7 L621.5,322.2 L621.0,322.0 L620.5,322.0 L620.0,324.2 L619.5,322.9 L619.0,322.4 L618.5,320.7 L618.0,321.8 L617.5,321.2 L617.0,322.8 L616.5,323.9 L616.0,325.4 L615.5,324.8 L615.0,325.9 L614.5,325.7 L614.0,324.7 L613.5,322.4 L613.0,322.7 L612.5,323.7 L612.0,321.9 L611.5,321.6 L611.0,322.3 L610.5,320.5 L610.0,322.4 L609.5,322.9 L609.0,321.1 L608.5,322.0 L608.0,323.4 L607.5,323.3 L607.0,324.8 L606.5,323.2 L606.0,324.1 L605.5,323.4 L605.0,321.8 L604.5,321.7 L604.0,322.8 L603.5,320.1 L603.0,320.2 L602.5,320.0 L602.0,321.8 L601.5,322.5 L601.0,324.2 L600.5,324.4 L600.0,324.9 L599.5,325.7 L599.0,325.5 L598.5,325.4 L598.0,326.2 L597.5,326.9 L597.0,327.1 L596.5,329.6 L596.0,328.9 L595.5,330.3 L595.0,330.6 L594.5,333.6 L594.0,332.0 L593.5,331.4 L593.0,331.8 L592.5,330.7 L592.0,331.7 L591.5,330.9 L591.0,329.1 L590.5,331.4 L590.0,333.9 L589.5,339.4 L589.0,344.6 L588.5,346.5 L588.0,350.5 L587.5,354.2 L587.0,356.8 L586.5,358.3 L586.0,361.1 L585.5,361.4 L585.0,362.4 L584.5,362.3 L584.0,364.0 L583.5,365.8 L583.0,365.0 L582.5,362.9 L582.0,364.0 L581.5,365.6 L581.0,368.6 L580.5,369.3 L580.0,369.4 L579.5,369.1 L579.0,370.1 L578.5,371.8 L578.0,374.1 L577.5,376.4 L577.0,376.2 L576.5,376.3 L576.0,378.5 L575.5,381.1 L575.0,382.5 L574.5,385.1 L574.0,387.0 L573.5,387.4 L573.0,390.0 L572.5,390.7 L572.0,390.5 L571.5,388.8 L571.0,389.4 L570.5,391.0 L570.0,392.3 L569.5,393.6 L569.0,395.7 L568.5,397.5 L568.0,397.3 L567.5,399.4 L567.0,398.4 L566.5,401.2 L566.0,400.4 L565.5,399.8 L565.0,402.5 L564.5,401.0 L564.0,400.9 L563.5,402.8 L563.0,400.1 L562.5,401.0 L562.0,401.9 L561.5,400.3 L561.0,400.3 L560.5,397.8 L560.0,397.3 L559.5,399.1 L559.0,397.3 L558.5,394.3 L558.0,394.6 L557.5,394.8 L557.0,396.7 L556.5,394.6 L556.0,392.2 L555.5,391.0 L555.0,390.9 L554.5,390.2 L554.0,386.3 L553.5,386.2 L553.0,385.0 L552.5,385.1 L552.0,383.0 L551.5,381.6 L551.0,382.2 L550.5,381.4 L550.0,380.3 L549.5,378.2 L549.0,378.6 L548.5,377.6 L548.0,377.1 L547.5,374.3 L547.0,374.6 L546.5,372.3 L546.0,371.5 L545.5,368.9 L545.0,368.9 L544.5,366.9 L544.0,367.2 L543.5,365.6 L543.0,363.2 L542.5,364.5 L542.0,362.6 L541.5,360.5 L541.0,361.3 L540.5,359.8 L540.0,358.2 L539.5,355.6 L539.0,353.5 L538.5,353.0 L538.0,353.4 L537.5,351.4 L537.0,350.1 L536.5,347.5 L536.0,347.8 L535.5,346.2 L535.0,345.9 L534.5,344.7 L534.0,342.1 L533.5,342.7 L533.0,341.4 L532.5,339.5 L532.0,339.8 L531.5,339.7 L531.0,338.9 L530.5,338.2 L530.0,337.5 L529.5,339.7 L529.0,338.6 L528.5,337.1 L528.0,338.2 L527.5,336.5 L527.0,338.2 L526.5,336.3 L526.0,333.8 L525.5,331.4 L525.0,332.2 L524.5,329.5 L524.0,326.0 L523.5,324.8 L523.0,323.8 L522.5,326.1 L522.0,326.5 L521.5,326.4 L521.0,326.2 L520.5,328.8 L520.0,330.9 L519.5,334.4 L519.0,337.1 L518.5,337.3 L518.0,339.5 L517.5,341.5 L517.0,341.6 L516.5,343.3 L516.0,342.6 L515.5,339.8 L515.0,338.7 L514.5,337.6 L514.0,337.9 L513.5,336.3 L513.0,337.2 L512.5,335.3 L512.0,336.7 L511.5,338.5 L511.0,338.9 L510.5,341.0 L510.0,341.7 L509.5,342.2 L509.0,342.7 L508.5,341.9 L508.0,341.3 L507.5,342.5 L507.0,344.0 L506.5,344.9 L506.0,345.1 L505.5,344.8 L505.0,345.0 L504.5,346.9 L504.0,346.9 L503.5,345.2 L503.0,346.1 L502.5,346.6 L502.0,347.7 L501.5,347.7 L501.0,348.3 L500.5,347.5 L500.0,348.0 L499.5,346.5 L499.0,345.3 L498.5,347.2 L498.0,348.5 L497.5,347.7 L497.0,346.6 L496.5,346.3 L496.0,345.2 L495.5,347.1 L495.0,348.3 L494.5,347.8 L494.0,348.4 L493.5,347.7 L493.0,345.8 L492.5,344.5 L492.0,344.4 L491.5,345.1 L491.0,346.3 L490.5,348.0 L490.0,347.4 L489.5,347.3 L489.0,347.4 L488.5,346.8 L488.0,345.4 L487.5,344.4 L487.0,342.5 L486.5,340.0 L486.0,340.5 L485.5,337.9 L485.0,338.0 L484.5,338.6 L484.0,335.7 L483.5,337.4 L483.0,336.2 L482.5,335.1 L482.0,333.5 L481.5,331.1 L481.0,330.8 L480.5,329.0 L480.0,327.6 L479.5,327.5 L479.0,324.9 L478.5,324.4 L478.0,323.8 L477.5,323.3 L477.0,322.4 L476.5,323.0 L476.0,324.0 L475.5,322.9 L475.0,322.7 L474.5,320.8 L474.0,320.2 L473.5,319.2 L473.0,317.1 L472.5,317.7 L472.0,315.8 L471.5,315.1 L471.0,312.9 L470.5,312.9 L470.0,311.0 L469.5,310.0 L469.0,309.0 L468.5,310.8 L468.0,309.1 L467.5,307.9 L467.0,307.3 L466.5,305.0 L466.0,304.5 L465.5,303.6 L465.0,302.5 L464.5,302.5 L464.0,303.3 L463.5,303.0 L463.0,304.0 L462.5,302.6 L462.0,303.7 L461.5,304.1 L461.0,302.2 L460.5,301.8 L460.0,300.8 L459.5,301.2 L459.0,299.7 L458.5,299.4 L458.0,298.1 L457.5,297.6 L457.0,296.2 L456.5,294.6 L456.0,291.5 L455.5,291.4 L455.0,290.0 L454.5,290.9 L454.0,291.2 L453.5,291.8 L453.0,292.9 L452.5,294.3 L452.0,294.1 L451.5,297.5 L451.0,301.2 L450.5,303.2 L450.0,306.4 L449.5,308.0 L449.0,310.4 L448.5,309.0 L448.0,306.2 L447.5,305.4 L447.0,305.0 L446.5,304.1 L446.0,304.7 L445.5,301.9 L445.0,301.6 L444.5,302.3 L444.0,302.9 L443.5,303.1 L443.0,304.3 L442.5,304.3 L442.0,303.3 L441.5,304.7 L441.0,305.0 L440.5,304.6 L440.0,305.7 L439.5,304.3 L439.0,303.6 L438.5,303.5 L438.0,304.6 L437.5,306.2 L437.0,307.1 L436.5,308.7 L436.0,308.3 L435.5,307.1 L435.0,305.7 L434.5,304.7 L434.0,305.9 L433.5,304.2 L433.0,302.3 L432.5,302.0 L432.0,300.2 L431.5,299.8 L431.0,296.1 L430.5,295.2 L430.0,294.4 L429.5,294.5 L429.0,295.1 L428.5,293.9 L428.0,291.8 L427.5,291.3 L427.0,289.8 L426.5,288.5 L426.0,288.1 L425.5,285.6 L425.0,284.7 L424.5,282.9 L424.0,282.0 L423.5,282.1 L423.0,282.4 L422.5,280.1 L422.0,276.5 L421.5,276.1 L421.0,276.5 L420.5,274.1 L420.0,271.8 L419.5,268.8 L419.0,265.6 L418.5,263.1 L418.0,259.9 L417.5,256.4 L417.0,255.9 L416.5,256.1 L416.0,252.4 L415.5,253.3 L415.0,250.2 L414.5,247.6 L414.0,246.7 L413.5,244.7 L413.0,242.5 L412.5,240.6 L412.0,238.1 L411.5,236.6 L411.0,233.3 L410.5,232.2 L410.0,232.0 L409.5,228.7 L409.0,228.0 L408.5,228.7 L408.0,229.4 L407.5,228.4 L407.0,227.7 L406.5,227.2 L406.0,228.0 L405.5,226.0 L405.0,223.1 L404.5,223.1 L404.0,223.6 L403.5,223.3 L403.0,223.4 L402.5,222.0 L402.0,220.5 L401.5,216.9 L401.0,215.1 L400.5,214.4 L400.0,212.4 L399.5,210.4 L399.0,211.3 L398.5,210.9 L398.0,209.1 L397.5,209.9 L397.0,210.4 L396.5,209.4 L396.0,208.7 L395.5,209.0 L395.0,210.0 L394.5,209.7 L394.0,211.4 L393.5,210.9 L393.0,210.1 L392.5,211.7 L392.0,209.4 L391.5,208.4 L391.0,208.8 L390.5,207.4 L390.0,206.3 L389.5,204.5 L389.0,204.1 L388.5,203.9 L388.0,200.3 L387.5,197.9 L387.0,198.4 L386.5,202.3 L386.0,205.6 L385.5,206.6 L385.0,210.2 L384.5,215.3 L384.0,220.4 L383.5,222.5 L383.0,224.5 L382.5,228.2 L382.0,232.1 L381.5,233.4 L381.0,234.2 L380.5,235.9 L380.0,238.9 L379.5,241.7 L379.0,243.8 L378.5,245.1 L378.0,245.0 L377.5,247.9 L377.0,250.5 L376.5,253.9 L376.0,253.7 L375.5,256.5 L375.0,259.0 L374.5,262.7 L374.0,266.5 L373.5,267.5 L373.0,272.6 L372.5,274.8 L372.0,276.5 L371.5,278.4 L371.0,278.1 L370.5,280.9 L370.0,282.5 L369.5,285.9 L369.0,285.8 L368.5,288.4 L368.0,291.9 L367.5,293.7 L367.0,295.3 L366.5,298.4 L366.0,302.1 L365.5,303.0 L365.0,306.3 L364.5,308.0 L364.0,310.5 L363.5,311.8 L363.0,313.0 L362.5,315.3 L362.0,316.1 L361.5,318.7 L361.0,322.6 L360.5,324.8 L360.0,324.8 L359.5,327.3 L359.0,329.3 L358.5,331.2 L358.0,334.5 L357.5,334.5 L357.0,336.9 L356.5,340.1 L356.0,341.2 L355.5,343.1 L355.0,347.4 L354.5,347.5 L354.0,351.8 L353.5,352.5 L353.0,354.8 L352.5,354.2 L352.0,355.8 L351.5,357.1 L351.0,358.1 L350.5,357.4 L350.0,358.1 L349.5,361.6 L349.0,362.8 L348.5,363.9 L348.0,363.5 L347.5,366.1 L347.0,369.5 L346.5,369.2 L346.0,371.1 L345.5,372.7 L345.0,371.9 L344.5,373.8 L344.0,373.3 L343.5,375.6 L343.0,375.6 L342.5,377.8 L342.0,377.8 L341.5,379.1 L341.0,380.7 L340.5,381.8 L340.0,383.8 L339.5,384.0 L339.0,386.0 L338.5,387.7 L338.0,388.0 L337.5,391.0 L337.0,391.1 L336.5,392.2 L336.0,393.4 L335.5,392.9 L335.0,393.8 L334.5,395.4 L334.0,394.2 L333.5,392.3 L333.0,393.8 L332.5,393.1 L332.0,394.7 L331.5,392.8 L331.0,393.8 L330.5,391.9 L330.0,392.3 L329.5,393.2 L329.0,393.5 L328.5,394.2 L328.0,396.6 L327.5,396.0 L327.0,395.9 L326.5,397.0 L326.0,398.3 L325.5,399.4 L325.0,403.3 L324.5,403.7 L324.0,403.0 L323.5,403.3 L323.0,405.4 L322.5,403.3 L322.0,403.5 L321.5,402.9 L321.0,403.1 L320.5,401.3 L320.0,400.3 L319.5,403.2 L319.0,406.4 L318.5,411.2 L318.0,412.7 L317.5,415.4 L317.0,420.5 L316.5,423.2 L316.0,424.6 L315.5,428.3 L315.0,430.2 L314.5,431.3 L314.0,433.2 L313.5,430.8 L313.0,430.3 L312.5,430.8 L312.0,432.7 L311.5,431.2 L311.0,433.7 L310.5,435.6 L310.0,434.9 L309.5,435.6 L309.0,436.8 L308.5,435.4 L308.0,436.1 L307.5,437.5 L307.0,437.9 L306.5,440.1 L306.0,441.2 L305.5,442.2 L305.0,445.7 L304.5,445.4 L304.0,448.1 L303.5,448.0 L303.0,447.3 L302.5,448.2 L302.0,451.7 L301.5,451.0 L301.0,452.9 L300.5,452.0 L300.0,452.9 L299.5,455.7 L299.0,455.1 L298.5,454.2 L298.0,455.2 L297.5,455.9 L297.0,457.4 L296.5,456.2 L296.0,457.2 L295.5,457.2 L295.0,459.8 L294.5,458.2 L294.0,459.4 L293.5,458.4 L293.0,460.5 L292.5,459.7 L292.0,460.9 L291.5,461.3 L291.0,460.5 L290.5,459.7 L290.0,461.1 L289.5,462.1 L289.0,461.4 L288.5,463.3 L288.0,462.5 L287.5,463.8 L287.0,465.8 L286.5,465.4 L286.0,464.9 L285.5,465.1 L285.0,464.1 L284.5,462.9 L284.0,461.0 L283.5,461.6 L283.0,462.7 L282.5,461.3 L282.0,458.4 L281.5,459.6 L281.0,459.2 L280.5,457.3 L280.0,458.8 L279.5,456.7 L279.0,455.6 L278.5,455.4 L278.0,455.7 L277.5,453.8 L277.0,454.0 L276.5,454.0 L276.0,454.1 L275.5,453.5 L275.0,453.7 L274.5,451.0 L274.0,450.2 L273.5,450.3 L273.0,450.9 L272.5,452.5 L272.0,450.0 L271.5,450.9 L271.0,448.3 L270.5,448.6 L270.0,447.8 L269.5,447.4 L269.0,447.4 L268.5,444.9 L268.0,443.5 L267.5,443.1 L267.0,443.8 L266.5,442.1 L266.0,440.8 L265.5,442.0 L265.0,442.4 L264.5,441.4 L264.0,440.8 L263.5,438.5 L263.0,439.5 L262.5,441.0 L262.0,439.6 L261.5,437.5 L261.0,439.0 L260.5,439.6 L260.0,439.6 L259.5,440.3 L259.0,441.8 L258.5,441.2 L258.0,443.8 L257.5,443.9 L257.0,442.9 L256.5,443.5 L256.0,444.1 L255.5,443.2 L255.0,444.8 L254.5,442.8 L254.0,440.9 L253.5,439.4 L253.0,440.1 L252.5,439.6 L252.0,439.4 L251.5,438.3 L251.0,441.5 L250.5,442.4 L250.0,445.3 L249.5,445.2 L249.0,447.8 L248.5,451.2 L248.0,453.0 L247.5,455.5 L247.0,455.4 L246.5,456.6 L246.0,459.2 L245.5,460.7 L245.0,462.4 L244.5,464.8 L244.0,464.5 L243.5,462.9 L243.0,463.5 L242.5,461.2 L242.0,462.3 L241.5,463.2 L241.0,464.2 L240.5,466.7 L240.0,467.7 L239.5,467.0 L239.0,470.2 L238.5,470.9 L238.0,471.7 L237.5,470.8 L237.0,471.5 L236.5,474.7 L236.0,475.9 L235.5,476.2 L235.0,476.6 L234.5,476.6 L234.0,478.0 L233.5,478.1 L233.0,479.0 L232.5,478.5 L232.0,478.1 L231.5,480.0 L231.0,482.0 L230.5,481.5 L230.0,481.2 L229.5,480.6 L229.0,480.7 L228.5,482.3 L228.0,482.5 L227.5,483.6 L227.0,483.9 L226.5,484.1 L226.0,485.1 L225.5,486.9 L225.0,486.1 L224.5,487.1 L224.0,485.7 L223.5,486.0 L223.0,486.3 L222.5,488.0 L222.0,488.2 L221.5,486.8 L221.0,488.5 L220.5,487.3 L220.0,489.0 L219.5,490.6 L219.0,491.6 L218.5,491.8 L218.0,490.5 L217.5,490.6 L217.0,488.5 L216.5,487.3 L216.0,487.8 L215.5,486.8 L215.0,484.7 L214.5,484.5 L214.0,484.7 L213.5,484.5 L213.0,483.9 L212.5,483.1 L212.0,482.7 L211.5,482.8 L211.0,482.9 L210.5,484.5 L210.0,482.8 L209.5,484.0 L209.0,483.2 L208.5,482.4 L208.0,481.5 L207.5,479.1 L207.0,478.3 L206.5,479.9 L206.0,479.4 L205.5,477.2 L205.0,478.1 L204.5,475.7 L204.0,477.0 L203.5,475.6 L203.0,476.9 L202.5,475.5 L202.0,472.9 L201.5,471.6 L201.0,470.9 L200.5,469.4 L200.0,469.9 L199.5,469.7 L199.0,469.8 L198.5,470.2 L198.0,469.1 L197.5,469.9 L197.0,468.8 L196.5,466.7 L196.0,468.4 L195.5,468.2 L195.0,466.7 L194.5,465.2 L194.0,465.6 L193.5,465.3 L193.0,467.4 L192.5,466.2 L192.0,468.7 L191.5,468.9 L191.0,468.2 L190.5,469.0 L190.0,468.9 L189.5,469.5 L189.0,470.7 L188.5,470.3 L188.0,470.0 L187.5,470.7 L187.0,470.0 L186.5,468.2 L186.0,467.2 L185.5,466.0 L185.0,465.3 L184.5,462.4 L184.0,462.9 L183.5,466.2 L183.0,469.4 L182.5,470.9 L182.0,471.9 L181.5,474.9 L181.0,475.5 L180.5,477.8 L180.0,479.1 L179.5,481.5 L179.0,485.2 L178.5,486.4 L178.0,486.6 L177.5,487.0 L177.0,489.9 L176.5,490.6 L176.0,490.3 L175.5,488.9 L175.0,487.1 L174.5,488.6 L174.0,491.5 L173.5,491.1 L173.0,493.2 L172.5,493.8 L172.0,494.1 L171.5,495.9 L171.0,496.4 L170.5,497.4 L170.0,497.4 L169.5,498.8 L169.0,497.6 L168.5,498.9 L168.0,500.7 L167.5,502.7 L167.0,501.6 L166.5,502.6 L166.0,501.9 L165.5,502.6 L165.0,505.4 L164.5,506.9 L164.0,507.6 L163.5,507.9 L163.0,506.4 L162.5,508.5 L162.0,508.4 L161.5,507.9 L161.0,509.2 L160.5,509.4 L160.0,507.0 L159.5,508.5 L159.0,510.4 L158.5,508.2 L158.0,509.0 L157.5,509.5 L157.0,511.4 L156.5,512.2 L156.0,510.0 L155.5,511.1 L155.0,511.4 L154.5,513.3 L154.0,511.6 L153.5,511.2 L153.0,511.6 L152.5,512.6 L152.0,513.5 L151.5,515.7 L151.0,515.7 L150.5,517.2 L150.0,516.4 L149.5,514.5 L149.0,515.8 L148.5,515.1 L148.0,513.7 L147.5,512.4 L147.0,511.5 L146.5,511.4 L146.0,510.1 L145.5,510.2 L145.0,511.5 L144.5,509.9 L144.0,510.5 L143.5,509.3 L143.0,507.5 L142.5,507.5 L142.0,505.1 L141.5,505.5 L141.0,503.2 L140.5,503.9 L140.0,503.8 L139.5,503.0 L139.0,504.6 L138.5,503.3 L138.0,503.0 L137.5,503.0 L137.0,501.1 L136.5,501.0 L136.0,500.2 L135.5,500.8 L135.0,500.4 L134.5,499.2 L134.0,498.5 L133.5,496.0 L133.0,496.3 L132.5,497.0 L132.0,495.0 L131.5,494.0 L131.0,492.0 L130.5,491.7 L130.0,490.2 L129.5,489.1 L129.0,489.0 L128.5,490.2 L128.0,490.7 L127.5,490.3 L127.0,488.0 L126.5,488.4 L126.0,488.4 L125.5,490.3 L125.0,491.9 L124.5,490.5 L124.0,492.3 L123.5,490.8 L123.0,492.6 L122.5,493.2 L122.0,493.1 L121.5,493.3 L121.0,494.4Z" fill="#0072B2" fill-opacity="0.2"/>
<path d="M933.0,328.0 L932.5,325.3 L932.0,322.6 L931.5,319.9 L931.0,317.2 L930.5,315.3 L930.0,315.1 L929.5,315.7 L929.0,314.4 L928.5,316.6 L928.0,319.1 L927.5,322.2 L927.0,325.8 L926.5,327.4 L926.0,329.2 L925.5,330.1 L925.0,332.2 L924.5,335.0 L924.0,338.9 L923.5,341.1 L923.0,340.7 L922.5,338.6 L922.0,337.9 L921.5,336.6 L921.0,334.6 L920.5,335.0 L920.0,335.5 L919.5,336.6 L919.0,336.3 L918.5,337.6 L918.0,338.3 L917.5,338.1 L917.0,337.8 L916.5,339.4 L916.0,340.9 L915.5,339.7 L915.0,340.4 L914.5,340.9 L914.0,340.5 L913.5,341.6 L913.0,343.6 L912.5,342.3 L912.0,342.4 L911.5,344.9 L911.0,344.6 L910.5,345.2 L910.0,345.2 L909.5,346.0 L909.0,345.8 L908.5,345.5 L908.0,347.7 L907.5,346.6 L907.0,348.2 L906.5,347.4 L906.0,346.9 L905.5,349.5 L905.0,349.6 L904.5,349.0 L904.0,350.0 L903.5,348.7 L903.0,349.3 L902.5,350.0 L902.0,350.2 L901.5,349.3 L901.0,348.8 L900.5,348.7 L900.0,350.6 L899.5,350.3 L899.0,349.0 L898.5,350.2 L898.0,349.7 L897.5,350.3 L897.0,349.0 L896.5,348.6 L896.0,347.7 L895.5,348.7 L895.0,347.6 L894.5,347.3 L894.0,344.3 L893.5,344.2 L893.0,343.5 L892.5,342.7 L892.0,342.5 L891.5,340.2 L891.0,340.4 L890.5,339.4 L890.0,339.0 L889.5,338.2 L889.0,339.1 L888.5,337.4 L888.0,337.2 L887.5,333.8 L887.0,334.1 L886.5,332.6 L886.0,331.5 L885.5,330.9 L885.0,331.8 L884.5,329.3 L884.0,330.9 L883.5,329.1 L883.0,328.1 L882.5,325.6 L882.0,325.5 L881.5,324.4 L881.0,322.8 L880.5,323.5 L880.0,323.4 L879.5,322.4 L879.0,320.1 L878.5,318.6 L878.0,317.0 L877.5,316.6 L877.0,315.0 L876.5,314.3 L876.0,314.6 L875.5,314.6 L875.0,312.9 L874.5,313.2 L874.0,312.7 L873.5,310.5 L873.0,309.2 L872.5,308.6 L872.0,310.1 L871.5,308.4 L871.0,309.8 L870.5,311.5 L870.0,311.8 L869.5,309.6 L869.0,311.1 L868.5,312.9 L868.0,314.3 L867.5,312.4 L867.0,313.2 L866.5,312.7 L866.0,310.4 L865.5,309.4 L865.0,307.1 L864.5,307.7 L864.0,305.9 L863.5,303.8 L863.0,303.8 L862.5,304.5 L862.0,304.3 L861.5,303.1 L861.0,305.3 L860.5,306.7 L860.0,310.4 L859.5,311.8 L859.0,313.2 L858.5,316.0 L858.0,319.3 L857.5,320.8 L857.0,320.3 L856.5,323.2 L856.0,324.6 L855.5,326.6 L855.0,324.1 L854.5,325.6 L854.0,323.7 L853.5,320.4 L853.0,321.2 L852.5,323.3 L852.0,324.3 L851.5,324.2 L851.0,322.8 L850.5,325.9 L850.0,324.7 L849.5,327.5 L849.0,328.2 L848.5,328.3 L848.0,327.9 L847.5,329.3 L847.0,330.0 L846.5,329.3 L846.0,331.1 L845.5,330.5 L845.0,332.8 L844.5,332.6 L844.0,333.9 L843.5,332.7 L843.0,332.1 L842.5,333.5 L842.0,333.9 L841.5,335.6 L841.0,336.2 L840.5,335.3 L840.0,336.0 L839.5,335.3 L839.0,335.5 L838.5,335.3 L838.0,333.6 L837.5,333.3 L837.0,333.4 L836.5,332.6 L836.0,332.8 L835.5,334.9 L835.0,332.7 L834.5,333.3 L834.0,333.1 L833.5,333.9 L833.0,332.9 L832.5,333.2 L832.0,334.2 L831.5,335.0 L831.0,335.6 L830.5,334.4 L830.0,336.6 L829.5,334.9 L829.0,336.2 L828.5,334.2 L828.0,334.6 L827.5,332.6 L827.0,332.3 L826.5,332.3 L826.0,330.8 L825.5,328.9 L825.0,327.1 L824.5,326.7 L824.0,326.3 L823.5,326.8 L823.0,324.2 L822.5,324.4 L822.0,322.2 L821.5,322.5 L821.0,322.5 L820.5,321.7 L820.0,320.0 L819.5,319.1 L819.0,318.7 L818.5,318.4 L818.0,316.2 L817.5,316.6 L817.0,315.1 L816.5,313.8 L816.0,314.7 L815.5,312.1 L815.0,313.4 L814.5,310.6 L814.0,311.0 L813.5,308.0 L813.0,307.3 L812.5,306.5 L812.0,305.4 L811.5,305.9 L811.0,306.2 L810.5,306.4 L810.0,305.1 L809.5,303.9 L809.0,300.7 L808.5,300.8 L808.0,299.4 L807.5,299.0 L807.0,297.5 L806.5,296.6 L806.0,297.2 L805.5,297.3 L805.0,297.2 L804.5,294.5 L804.0,295.0 L803.5,296.0 L803.0,297.5 L802.5,295.8 L802.0,296.4 L801.5,296.9 L801.0,298.1 L800.5,299.1 L800.0,298.9 L799.5,298.6 L799.0,296.7 L798.5,297.5 L798.0,296.9 L797.5,295.4 L797.0,292.8 L796.5,294.1 L796.0,291.3 L795.5,289.7 L795.0,287.9 L794.5,287.8 L794.0,289.9 L793.5,288.7 L793.0,291.8 L792.5,292.7 L792.0,294.7 L791.5,295.7 L791.0,297.7 L790.5,302.2 L790.0,302.9 L789.5,305.8 L789.0,307.0 L788.5,307.8 L788.0,308.8 L787.5,308.6 L787.0,306.0 L786.5,307.0 L786.0,304.0 L785.5,304.2 L785.0,306.4 L784.5,305.6 L784.0,305.4 L783.5,307.4 L783.0,307.5 L782.5,308.1 L782.0,306.9 L781.5,309.4 L781.0,309.8 L780.5,310.6 L780.0,313.1 L779.5,312.5 L779.0,311.3 L778.5,312.9 L778.0,316.1 L777.5,315.5 L777.0,317.6 L776.5,318.1 L776.0,318.7 L775.5,319.3 L775.0,318.9 L774.5,319.4 L774.0,319.1 L773.5,319.1 L773.0,319.5 L772.5,318.3 L772.0,317.4 L771.5,318.1 L771.0,319.2 L770.5,318.6 L770.0,320.3 L769.5,319.2 L769.0,317.9 L768.5,319.6 L768.0,318.9 L767.5,316.4 L767.0,317.0 L766.5,318.4 L766.0,318.3 L765.5,317.7 L765.0,316.7 L764.5,316.8 L764.0,318.4 L763.5,316.6 L763.0,315.4 L762.5,316.0 L762.0,316.2 L761.5,316.0 L761.0,315.5 L760.5,314.4 L760.0,313.7 L759.5,314.6 L759.0,311.9 L758.5,311.7 L758.0,310.9 L757.5,309.7 L757.0,307.9 L756.5,309.2 L756.0,309.0 L755.5,306.9 L755.0,304.0 L754.5,302.1 L754.0,301.9 L753.5,300.9 L753.0,299.5 L752.5,300.0 L752.0,297.6 L751.5,296.5 L751.0,295.9 L750.5,294.0 L750.0,293.2 L749.5,289.5 L749.0,289.2 L748.5,288.5 L748.0,289.4 L747.5,285.7 L747.0,284.8 L746.5,285.0 L746.0,285.0 L745.5,284.9 L745.0,282.7 L744.5,280.8 L744.0,278.7 L743.5,279.7 L743.0,277.4 L742.5,275.7 L742.0,275.0 L741.5,275.9 L741.0,274.9 L740.5,273.7 L740.0,271.3 L739.5,269.5 L739.0,269.5 L738.5,266.9 L738.0,267.0 L737.5,267.6 L737.0,265.0 L736.5,262.4 L736.0,263.0 L735.5,264.0 L735.0,264.5 L734.5,264.8 L734.0,264.1 L733.5,262.2 L733.0,263.2 L732.5,264.2 L732.0,263.4 L731.5,264.3 L731.0,262.1 L730.5,261.4 L730.0,261.5 L729.5,262.2 L729.0,260.2 L728.5,259.7 L728.0,258.4 L727.5,256.7 L727.0,254.4 L726.5,253.1 L726.0,251.0 L725.5,251.9 L725.0,253.4 L724.5,256.0 L724.0,256.4 L723.5,258.7 L723.0,261.2 L722.5,263.1 L722.0,265.9 L721.5,267.2 L721.0,268.8 L720.5,268.3 L720.0,270.1 L719.5,271.6 L719.0,271.2 L718.5,269.9 L718.0,269.9 L717.5,268.2 L717.0,266.8 L716.5,266.6 L716.0,269.1 L715.5,268.2 L715.0,268.8 L714.5,271.8 L714.0,271.3 L713.5,270.4 L713.0,271.7 L712.5,271.1 L712.0,273.4 L711.5,272.2 L711.0,274.6 L710.5,273.9 L710.0,275.1 L709.5,274.6 L709.0,275.7 L708.5,276.3 L708.0,276.5 L707.5,277.5 L707.0,280.3 L706.5,280.6 L706.0,279.0 L705.5,280.2 L705.0,280.9 L704.5,282.6 L704.0,282.6 L703.5,284.0 L703.0,283.8 L702.5,285.8 L702.0,285.2 L701.5,284.3 L701.0,284.8 L700.5,283.5 L700.0,283.8 L699.5,285.7 L699.0,286.2 L698.5,286.6 L698.0,286.5 L697.5,284.7 L697.0,286.2 L696.5,287.6 L696.0,287.6 L695.5,286.6 L695.0,285.6 L694.5,286.4 L694.0,287.1 L693.5,288.0 L693.0,287.0 L692.5,286.8 L692.0,287.6 L691.5,289.2 L691.0,288.0 L690.5,286.0 L690.0,284.2 L689.5,285.0 L689.0,282.4 L688.5,282.7 L688.0,283.0 L687.5,281.0 L687.0,279.9 L686.5,280.4 L686.0,280.2 L685.5,280.7 L685.0,277.9 L684.5,278.0 L684.0,276.5 L683.5,276.3 L683.0,275.5 L682.5,275.5 L682.0,276.6 L681.5,275.4 L681.0,272.9 L680.5,273.4 L680.0,274.4 L679.5,273.1 L679.0,271.1 L678.5,272.2 L678.0,270.8 L677.5,268.6 L677.0,270.3 L676.5,270.6 L676.0,269.0 L675.5,266.5 L675.0,265.9 L674.5,265.8 L674.0,262.8 L673.5,262.0 L673.0,260.9 L672.5,259.9 L672.0,261.3 L671.5,259.7 L671.0,257.1 L670.5,256.7 L670.0,257.1 L669.5,258.0 L669.0,258.9 L668.5,256.9 L668.0,256.1 L667.5,255.6 L667.0,257.4 L666.5,257.5 L666.0,259.3 L665.5,259.6 L665.0,258.8 L664.5,261.8 L664.0,260.6 L663.5,260.2 L663.0,261.2 L662.5,260.3 L662.0,260.1 L661.5,260.1 L661.0,257.3 L660.5,255.0 L660.0,255.7 L659.5,254.0 L659.0,255.1 L658.5,254.3 L658.0,256.4 L657.5,258.1 L657.0,261.4 L656.5,262.7 L656.0,265.0 L655.5,268.3 L655.0,271.5 L654.5,272.2 L654.0,273.7 L653.5,276.5 L653.0,279.3 L652.5,279.9 L652.0,279.7 L651.5,279.4 L651.0,281.1 L650.5,278.8 L650.0,279.6 L649.5,277.3 L649.0,277.1 L648.5,279.0 L648.0,279.4 L647.5,281.2 L647.0,282.9 L646.5,282.3 L646.0,283.9 L645.5,284.4 L645.0,286.2 L644.5,287.6 L644.0,289.9 L643.5,289.9 L643.0,292.0 L642.5,291.2 L642.0,290.9 L641.5,293.3 L641.0,296.2 L640.5,296.8 L640.0,298.6 L639.5,299.3 L639.0,301.1 L638.5,301.3 L638.0,301.6 L637.5,303.3 L637.0,302.9 L636.5,304.9 L636.0,304.6 L635.5,305.5 L635.0,306.0 L634.5,309.2 L634.0,309.8 L633.5,308.7 L633.0,309.0 L632.5,310.6 L632.0,312.1 L631.5,312.7 L631.0,313.2 L630.5,315.2 L630.0,316.6 L629.5,318.0 L629.0,318.6 L628.5,319.2 L628.0,319.4 L627.5,319.2 L627.0,320.1 L626.5,320.1 L626.0,321.3 L625.5,323.1 L625.0,324.0 L624.5,324.7 L624.0,324.8 L623.5,323.8 L623.0,324.0 L622.5,323.6 L622.0,324.7 L621.5,322.2 L621.0,322.0 L620.5,322.0 L620.0,324.2 L619.5,322.9 L619.0,322.4 L618.5,320.7 L618.0,321.8 L617.5,321.2 L617.0,322.8 L616.5,323.9 L616.0,325.4 L615.5,324.8 L615.0,325.9 L614.5,325.7 L614.0,324.7 L613.5,322.4 L613.0,322.7 L612.5,323.7 L612.0,321.9 L611.5,321.6 L611.0,322.3 L610.5,320.5 L610.0,322.4 L609.5,322.9 L609.0,321.1 L608.5,322.0 L608.0,323.4 L607.5,323.3 L607.0,324.8 L606.5,323.2 L606.0,324.1 L605.5,323.4 L605.0,321.8 L604.5,321.7 L604.0,322.8 L603.5,320.1 L603.0,320.2 L602.5,320.0 L602.0,321.8 L601.5,322.5 L601.0,324.2 L600.5,324.4 L600.0,324.9 L599.5,325.7 L599.0,325.5 L598.5,325.4 L598.0,326.2 L597.5,326.9 L597.0,327.1 L596.5,329.6 L596.0,328.9 L595.5,330.3 L595.0,330.6 L594.5,333.6 L594.0,332.0 L593.5,331.4 L593.0,331.8 L592.5,330.7 L592.0,331.7 L591.5,330.9 L591.0,329.1 L590.5,331.4 L590.0,333.9 L589.5,339.4 L589.0,344.6 L588.5,346.5 L588.0,350.5 L587.5,354.2 L587.0,356.8 L586.5,358.3 L586.0,361.1 L585.5,361.4 L585.0,362.4 L584.5,362.3 L584.0,364.0 L583.5,365.8 L583.0,365.0 L582.5,362.9 L582.0,364.0 L581.5,365.6 L581.0,368.6 L580.5,369.3 L580.0,369.4 L579.5,369.1 L579.0,370.1 L578.5,371.8 L578.0,374.1 L577.5,376.4 L577.0,376.2 L576.5,376.3 L576.0,378.5 L575.5,381.1 L575.0,382.5 L574.5,385.1 L574.0,387.0 L573.5,387.4 L573.0,390.0 L572.5,390.7 L572.0,390.5 L571.5,388.8 L571.0,389.4 L570.5,391.0 L570.0,392.3 L569.5,393.6 L569.0,395.7 L568.5,397.5 L568.0,397.3 L567.5,399.4 L567.0,398.4 L566.5,401.2 L566.0,400.4 L565.5,399.8 L565.0,402.5 L564.5,401.0 L564.0,400.9 L563.5,402.8 L563.0,400.1 L562.5,401.0 L562.0,401.9 L561.5,400.3 L561.0,400.3 L560.5,397.8 L560.0,397.3 L559.5,399.1 L559.0,397.3 L558.5,394.3 L558.0,394.6 L557.5,394.8 L557.0,396.7 L556.5,394.6 L556.0,392.2 L555.5,391.0 L555.0,390.9 L554.5,390.2 L554.0,386.3 L553.5,386.2 L553.0,385.0 L552.5,385.1 L552.0,383.0 L551.5,381.6 L551.0,382.2 L550.5,381.4 L550.0,380.3 L549.5,378.2 L549.0,378.6 L548.5,377.6 L548.0,377.1 L547.5,374.3 L547.0,374.6 L546.5,372.3 L546.0,371.5 L545.5,368.9 L545.0,368.9 L544.5,366.9 L544.0,367.2 L543.5,365.6 L543.0,363.2 L542.5,364.5 L542.0,362.6 L541.5,360.5 L541.0,361.3 L540.5,359.8 L540.0,358.2 L539.5,355.6 L539.0,353.5 L538.5,353.0 L538.0,353.4 L537.5,351.4 L537.0,350.1 L536.5,347.5 L536.0,347.8 L535.5,346.2 L535.0,345.9 L534.5,344.7 L534.0,342.1 L533.5,342.7 L533.0,341.4 L532.5,339.5 L532.0,339.8 L531.5,339.7 L531.0,338.9 L530.5,338.2 L530.0,337.5 L529.5,339.7 L529.0,338.6 L528.5,337.1 L528.0,338.2 L527.5,336.5 L527.0,338.2 L526.5,336.3 L526.0,333.8 L525.5,331.4 L525.0,332.2 L524.5,329.5 L524.0,326.0 L523.5,324.8 L523.0,323.8 L522.5,326.1 L522.0,326.5 L521.5,326.4 L521.0,326.2 L520.5,328.8 L520.0,330.9 L519.5,334.4 L519.0,337.1 L518.5,337.3 L518.0,339.5 L517.5,341.5 L517.0,341.6 L516.5,343.3 L516.0,342.6 L515.5,339.8 L515.0,338.7 L514.5,337.6 L514.0,337.9 L513.5,336.3 L513.0,337.2 L512.5,335.3 L512.0,336.7 L511.5,338.5 L511.0,338.9 L510.5,341.0 L510.0,341.7 L509.5,342.2 L509.0,342.7 L508.5,341.9 L508.0,341.3 L507.5,342.5 L507.0,344.0 L506.5,344.9 L506.0,345.1 L505.5,344.8 L505.0,345.0 L504.5,346.9 L504.0,346.9 L503.5,345.2 L503.0,346.1 L502.5,346.6 L502.0,347.7 L501.5,347.7 L501.0,348.3 L500.5,347.5 L500.0,348.0 L499.5,346.5 L499.0,345.3 L498.5,347.2 L498.0,348.5 L497.5,347.7 L497.0,346.6 L496.5,346.3 L496.0,345.2 L495.5,347.1 L495.0,348.3 L494.5,347.8 L494.0,348.4 L493.5,347.7 L493.0,345.8 L492.5,344.5 L492.0,344.4 L491.5,345.1 L491.0,346.3 L490.5,348.0 L490.0,347.4 L489.5,347.3 L489.0,347.4 L488.5,346.8 L488.0,345.4 L487.5,344.4 L487.0,342.5 L486.5,340.0 L486.0,340.5 L485.5,337.9 L485.0,338.0 L484.5,338.6 L484.0,335.7 L483.5,337.4 L483.0,336.2 L482.5,335.1 L482.0,333.5 L481.5,331.1 L481.0,330.8 L480.5,329.0 L480.0,327.6 L479.5,327.5 L479.0,324.9 L478.5,324.4 L478.0,323.8 L477.5,323.3 L477.0,322.4 L476.5,323.0 L476.0,324.0 L475.5,322.9 L475.0,322.7 L474.5,320.8 L474.0,320.2 L473.5,319.2 L473.0,317.1 L472.5,317.7 L472.0,315.8 L471.5,315.1 L471.0,312.9 L470.5,312.9 L470.0,311.0 L469.5,310.0 L469.0,309.0 L468.5,310.8 L468.0,309.1 L467.5,307.9 L467.0,307.3 L466.5,305.0 L466.0,304.5 L465.5,303.6 L465.0,302.5 L464.5,302.5 L464.0,303.3 L463.5,303.0 L463.0,304.0 L462.5,302.6 L462.0,303.7 L461.5,304.1 L461.0,302.2 L460.5,301.8 L460.0,300.8 L459.5,301.2 L459.0,299.7 L458.5,299.4 L458.0,298.1 L457.5,297.6 L457.0,296.2 L456.5,294.6 L456.0,291.5 L455.5,291.4 L455.0,290.0 L454.5,290.9 L454.0,291.2 L453.5,291.8 L453.0,292.9 L452.5,294.3 L452.0,294.1 L451.5,297.5 L451.0,301.2 L450.5,303.2 L450.0,306.4 L449.5,308.0 L449.0,310.4 L448.5,309.0 L448.0,306.2 L447.5,305.4 L447.0,305.0 L446.5,304.1 L446.0,304.7 L445.5,301.9 L445.0,301.6 L444.5,302.3 L444.0,302.9 L443.5,303.1 L443.0,304.3 L442.5,304.3 L442.0,303.3 L441.5,304.7 L441.0,305.0 L440.5,304.6 L440.0,305.7 L439.5,304.3 L439.0,303.6 L438.5,303.5 L438.0,304.6 L437.5,306.2 L437.0,307.1 L436.5,308.7 L436.0,308.3 L435.5,307.1 L435.0,305.7 L434.5,304.7 L434.0,305.9 L433.5,304.2 L433.0,302.3 L432.5,302.0 L432.0,300.2 L431.5,299.8 L431.0,296.1 L430.5,295.2 L430.0,294.4 L429.5,294.5 L429.0,295.1 L428.5,293.9 L428.0,291.8 L427.5,291.3 L427.0,289.8 L426.5,288.5 L426.0,288.1 L425.5,285.6 L425.0,284.7 L424.5,282.9 L424.0,282.0 L423.5,282.1 L423.0,282.4 L422.5,280.1 L422.0,276.5 L421.5,276.1 L421.0,276.5 L420.5,274.1 L420.0,271.8 L419.5,268.8 L419.0,265.6 L418.5,263.1 L418.0,259.9 L417.5,256.4 L417.0,255.9 L416.5,256.1 L416.0,252.4 L415.5,253.3 L415.0,250.2 L414.5,247.6 L414.0,246.7 L413.5,244.7 L413.0,242.5 L412.5,240.6 L412.0,238.1 L411.5,236.6 L411.0,233.3 L410.5,232.2 L410.0,232.0 L409.5,228.7 L409.0,228.0 L408.5,228.7 L408.0,229.4 L407.5,228.4 L407.0,227.7 L406.5,227.2 L406.0,228.0 L405.5,226.0 L405.0,223.1 L404.5,223.1 L404.0,223.6 L403.5,223.3 L403.0,223.4 L402.5,222.0 L402.0,220.5 L401.5,216.9 L401.0,215.1 L400.5,214.4 L400.0,212.4 L399.5,210.4 L399.0,211.3 L398.5,210.9 L398.0,209.1 L397.5,209.9 L397.0,210.4 L396.5,209.4 L396.0,208.7 L395.5,209.0 L395.0,210.0 L394.5,209.7 L394.0,211.4 L393.5,210.9 L393.0,210.1 L392.5,211.7 L392.0,209.4 L391.5,208.4 L391.0,208.8 L390.5,207.4 L390.0,206.3 L389.5,204.5 L389.0,204.1 L388.5,203.9 L388.0,200.3 L387.5,197.9 L387.0,198.4 L386.5,202.3 L386.0,205.6 L385.5,206.6 L385.0,210.2 L384.5,215.3 L384.0,220.4 L383.5,222.5 L383.0,224.5 L382.5,228.2 L382.0,232.1 L381.5,233.4 L381.0,234.2 L380.5,235.9 L380.0,238.9 L379.5,241.7 L379.0,243.8 L378.5,245.1 L378.0,245.0 L377.5,247.9 L377.0,250.5 L376.5,253.9 L376.0,253.7 L375.5,256.5 L375.0,259.0 L374.5,262.7 L374.0,266.5 L373.5,267.5 L373.0,272.6 L372.5,274.8 L372.0,276.5 L371.5,278.4 L371.0,278.1 L370.5,280.9 L370.0,282.5 L369.5,285.9 L369.0,285.8 L368.5,288.4 L368.0,291.9 L367.5,293.7 L367.0,295.3 L366.5,298.4 L366.0,302.1 L365.5,303.0 L365.0,306.3 L364.5,308.0 L364.0,310.5 L363.5,311.8 L363.0,313.0 L362.5,315.3 L362.0,316.1 L361.5,318.7 L361.0,322.6 L360.5,324.8 L360.0,324.8 L359.5,327.3 L359.0,329.3 L358.5,331.2 L358.0,334.5 L357.5,334.5 L357.0,336.9 L356.5,340.1 L356.0,341.2 L355.5,343.1 L355.0,347.4 L354.5,347.5 L354.0,351.8 L353.5,352.5 L353.0,354.8 L352.5,354.2 L352.0,355.8 L351.5,357.1 L351.0,358.1 L350.5,357.4 L350.0,358.1 L349.5,361.6 L349.0,362.8 L348.5,363.9 L348.0,363.5 L347.5,366.1 L347.0,369.5 L346.5,369.2 L346.0,371.1 L345.5,372.7 L345.0,371.9 L344.5,373.8 L344.0,373.3 L343.5,375.6 L343.0,375.6 L342.5,377.8 L342.0,377.8 L341.5,379.1 L341.0,380.7 L340.5,381.8 L340.0,383.8 L339.5,384.0 L339.0,386.0 L338.5,387.7 L338.0,388.0 L337.5,391.0 L337.0,391.1 L336.5,392.2 L336.0,393.4 L335.5,392.9 L335.0,393.8 L334.5,395.4 L334.0,394.2 L333.5,392.3 L333.0,393.8 L332.5,393.1 L332.0,394.7 L331.5,392.8 L331.0,393.8 L330.5,391.9 L330.0,392.3 L329.5,393.2 L329.0,393.5 L328.5,394.2 L328.0,396.6 L327.5,396.0 L327.0,395.9 L326.5,397.0 L326.0,398.3 L325.5,399.4 L325.0,403.3 L324.5,403.7 L324.0,403.0 L323.5,403.3 L323.0,405.4 L322.5,403.3 L322.0,403.5 L321.5,402.9 L321.0,403.1 L320.5,401.3 L320.0,400.3 L319.5,403.2 L319.0,406.4 L318.5,411.2 L318.0,412.7 L317.5,415.4 L317.0,420.5 L316.5,423.2 L316.0,424.6 L315.5,428.3 L315.0,430.2 L314.5,431.3 L314.0,433.2 L313.5,430.8 L313.0,430.3 L312.5,430.8 L312.0,432.7 L311.5,431.2 L311.0,433.7 L310.5,435.6 L310.0,434.9 L309.5,435.6 L309.0,436.8 L308.5,435.4 L308.0,436.1 L307.5,437.5 L307.0,437.9 L306.5,440.1 L306.0,441.2 L305.5,442.2 L305.0,445.7 L304.5,445.4 L304.0,448.1 L303.5,448.0 L303.0,447.3 L302.5,448.2 L302.0,451.7 L301.5,451.0 L301.0,452.9 L300.5,452.0 L300.0,452.9 L299.5,455.7 L299.0,455.1 L298.5,454.2 L298.0,455.2 L297.5,455.9 L297.0,457.4 L296.5,456.2 L296.0,457.2 L295.5,457.2 L295.0,459.8 L294.5,458.2 L294.0,459.4 L293.5,458.4 L293.0,460.5 L292.5,459.7 L292.0,460.9 L291.5,461.3 L291.0,460.5 L290.5,459.7 L290.0,461.1 L289.5,462.1 L289.0,461.4 L288.5,463.3 L288.0,462.5 L287.5,463.8 L287.0,465.8 L286.5,465.4 L286.0,464.9 L285.5,465.1 L285.0,464.1 L284.5,462.9 L284.0,461.0 L283.5,461.6 L283.0,462.7 L282.5,461.3 L282.0,458.4 L281.5,459.6 L281.0,459.2 L280.5,457.3 L280.0,458.8 L279.5,456.7 L279.0,455.6 L278.5,455.4 L278.0,455.7 L277.5,453.8 L277.0,454.0 L276.5,454.0 L276.0,454.1 L275.5,453.5 L275.0,453.7 L274.5,451.0 L274.0,450.2 L273.5,450.3 L273.0,450.9 L272.5,452.5 L272.0,450.0 L271.5,450.9 L271.0,448.3 L270.5,448.6 L270.0,447.8 L269.5,447.4 L269.0,447.4 L268.5,444.9 L268.0,443.5 L267.5,443.1 L267.0,443.8 L266.5,442.1 L266.0,440.8 L265.5,442.0 L265.0,442.4 L264.5,441.4 L264.0,440.8 L263.5,438.5 L263.0,439.5 L262.5,441.0 L262.0,439.6 L261.5,437.5 L261.0,439.0 L260.5,439.6 L260.0,439.6 L259.5,440.3 L259.0,441.8 L258.5,441.2 L258.0,443.8 L257.5,443.9 L257.0,442.9 L256.5,443.5 L256.0,444.1 L255.5,443.2 L255.0,444.8 L254.5,442.8 L254.0,440.9 L253.5,439.4 L253.0,440.1 L252.5,439.6 L252.0,439.4 L251.5,438.3 L251.0,441.5 L250.5,442.4 L250.0,445.3 L249.5,445.2 L249.0,447.8 L248.5,451.2 L248.0,453.0 L247.5,455.5 L247.0,455.4 L246.5,456.6 L246.0,459.2 L245.5,460.7 L245.0,462.4 L244.5,464.8 L244.0,464.5 L243.5,462.9 L243.0,463.5 L242.5,461.2 L242.0,462.3 L241.5,463.2 L241.0,464.2 L240.5,466.7 L240.0,467.7 L239.5,467.0 L239.0,470.2 L238.5,470.9 L238.0,471.7 L237.5,470.8 L237.0,471.5 L236.5,474.7 L236.0,475.9 L235.5,476.2 L235.0,476.6 L234.5,476.6 L234.0,478.0 L233.5,478.1 L233.0,479.0 L232.5,478.5 L232.0,478.1 L231.5,480.0 L231.0,482.0 L230.5,481.5 L230.0,481.2 L229.5,480.6 L229.0,480.7 L228.5,482.3 L228.0,482.5 L227.5,483.6 L227.0,483.9 L226.5,484.1 L226.0,485.1 L225.5,486.9 L225.0,486.1 L224.5,487.1 L224.0,485.7 L223.5,486.0 L223.0,486.3 L222.5,488.0 L222.0,488.2 L221.5,486.8 L221.0,488.5 L220.5,487.3 L220.0,489.0 L219.5,490.6 L219.0,491.6 L218.5,491.8 L218.0,490.5 L217.5,490.6 L217.0,488.5 L216.5,487.3 L216.0,487.8 L215.5,486.8 L215.0,484.7 L214.5,484.5 L214.0,484.7 L213.5,484.5 L213.0,483.9 L212.5,483.1 L212.0,482.7 L211.5,482.8 L211.0,482.9 L210.5,484.5 L210.0,482.8 L209.5,484.0 L209.0,483.2 L208.5,482.4 L208.0,481.5 L207.5,479.1 L207.0,478.3 L206.5,479.9 L206.0,479.4 L205.5,477.2 L205.0,478.1 L204.5,475.7 L204.0,477.0 L203.5,475.6 L203.0,476.9 L202.5,475.5 L202.0,472.9 L201.5,471.6 L201.0,470.9 L200.5,469.4 L200.0,469.9 L199.5,469.7 L199.0,469.8 L198.5,470.2 L198.0,469.1 L197.5,469.9 L197.0,468.8 L196.5,466.7 L196.0,468.4 L195.5,468.2 L195.0,466.7 L194.5,465.2 L194.0,465.6 L193.5,465.3 L193.0,467.4 L192.5,466.2 L192.0,468.7 L191.5,468.9 L191.0,468.2 L190.5,469.0 L190.0,468.9 L189.5,469.5 L189.0,470.7 L188.5,470.3 L188.0,470.0 L187.5,470.7 L187.0,470.0 L186.5,468.2 L186.0,467.2 L185.5,466.0 L185.0,465.3 L184.5,462.4 L184.0,462.9 L183.5,466.2 L183.0,469.4 L182.5,470.9 L182.0,471.9 L181.5,474.9 L181.0,475.5 L180.5,477.8 L180.0,479.1 L179.5,481.5 L179.0,485.2 L178.5,486.4 L178.0,486.6 L177.5,487.0 L177.0,489.9 L176.5,490.6 L176.0,490.3 L175.5,488.9 L175.0,487.1 L174.5,488.6 L174.0,491.5 L173.5,491.1 L173.0,493.2 L172.5,493.8 L172.0,494.1 L171.5,495.9 L171.0,496.4 L170.5,497.4 L170.0,497.4 L169.5,498.8 L169.0,497.6 L168.5,498.9 L168.0,500.7 L167.5,502.7 L167.0,501.6 L166.5,502.6 L166.0,501.9 L165.5,502.6 L165.0,505.4 L164.5,506.9 L164.0,507.6 L163.5,507.9 L163.0,506.4 L162.5,508.5 L162.0,508.4 L161.5,507.9 L161.0,509.2 L160.5,509.4 L160.0,507.0 L159.5,508.5 L159.0,510.4 L158.5,508.2 L158.0,509.0 L157.5,509.5 L157.0,511.4 L156.5,512.2 L156.0,510.0 L155.5,511.1 L155.0,511.4 L154.5,513.3 L154.0,511.6 L153.5,511.2 L153.0,511.6 L152.5,512.6 L152.0,513.5 L151.5,515.7 L151.0,515.7 L150.5,517.2 L150.0,516.4 L149.5,514.5 L149.0,515.8 L148.5,515.1 L148.0,513.7 L147.5,512.4 L147.0,511.5 L146.5,511.4 L146.0,510.1 L145.5,510.2 L145.0,511.5 L144.5,509.9 L144.0,510.5 L143.5,509.3 L143.0,507.5 L142.5,507.5 L142.0,505.1 L141.5,505.5 L141.0,503.2 L140.5,503.9 L140.0,503.8 L139.5,503.0 L139.0,504.6 L138.5,503.3 L138.0,503.0 L137.5,503.0 L137.0,501.1 L136.5,501.0 L136.0,500.2 L135.5,500.8 L135.0,500.4 L134.5,499.2 L134.0,498.5 L133.5,496.0 L133.0,496.3 L132.5,497.0 L132.0,495.0 L131.5,494.0 L131.0,492.0 L130.5,491.7 L130.0,490.2 L129.5,489.1 L129.0,489.0 L128.5,490.2 L128.0,490.7 L127.5,490.3 L127.0,488.0 L126.5,488.4 L126.0,488.4 L125.5,490.3 L125.0,491.9 L124.5,490.5 L124.0,492.3 L123.5,490.8 L123.0,492.6 L122.5,493.2 L122.0,493.1 L121.5,493.3 L121.0,494.4 L121.0,436.0 L121.5,436.5 L122.0,435.7 L122.5,433.4 L123.0,431.9 L123.5,431.0 L124.0,431.5 L124.5,430.4 L125.0,431.3 L125.5,431.2 L126.0,432.5 L126.5,432.7 L127.0,430.6 L127.5,430.3 L128.0,429.9 L128.5,431.3 L129.0,431.7 L129.5,430.4 L130.0,432.2 L130.5,432.2 L131.0,433.3 L131.5,435.5 L132.0,435.1 L132.5,436.4 L133.0,438.1 L133.5,440.3 L134.0,439.8 L134.5,439.2 L135.0,438.8 L135.5,441.3 L136.0,442.9 L136.5,443.1 L137.0,443.0 L137.5,444.0 L138.0,443.4 L138.5,441.9 L139.0,443.3 L139.5,444.8 L140.0,444.2 L140.5,443.1 L141.0,443.6 L141.5,443.8 L142.0,444.5 L142.5,446.1 L143.0,446.1 L143.5,448.1 L144.0,450.3 L144.5,449.9 L145.0,450.3 L145.5,452.9 L146.0,451.7 L146.5,451.8 L147.0,453.3 L147.5,452.4 L148.0,453.6 L148.5,456.5 L149.0,456.6 L149.5,457.6 L150.0,458.8 L150.5,459.0 L151.0,457.1 L151.5,455.0 L152.0,453.7 L152.5,453.4 L153.0,453.5 L153.5,452.1 L154.0,451.6 L154.5,451.0 L155.0,452.5 L155.5,451.8 L156.0,451.7 L156.5,453.1 L157.0,452.2 L157.5,450.4 L158.0,450.2 L158.5,451.6 L159.0,449.3 L159.5,449.8 L160.0,449.9 L160.5,449.7 L161.0,450.5 L161.5,448.6 L162.0,447.3 L162.5,447.7 L163.0,447.0 L163.5,448.1 L164.0,448.4 L164.5,448.1 L165.0,445.5 L165.5,444.3 L166.0,442.3 L166.5,441.8 L167.0,443.6 L167.5,443.9 L168.0,443.8 L168.5,440.8 L169.0,439.0 L169.5,439.1 L170.0,439.3 L170.5,438.3 L171.0,435.4 L171.5,436.4 L172.0,435.8 L172.5,433.1 L173.0,431.9 L173.5,433.0 L174.0,431.1 L174.5,430.8 L175.0,428.6 L175.5,430.5 L176.0,429.2 L176.5,431.8 L177.0,430.3 L177.5,428.1 L178.0,428.7 L178.5,426.6 L179.0,424.4 L179.5,423.8 L180.0,420.5 L180.5,417.8 L181.0,415.5 L181.5,412.8 L182.0,411.2 L182.5,410.1 L183.0,407.8 L183.5,405.9 L184.0,405.0 L184.5,404.8 L185.0,404.2 L185.5,405.1 L186.0,407.9 L186.5,408.4 L187.0,409.9 L187.5,409.6 L188.0,410.0 L188.5,411.7 L189.0,411.2 L189.5,411.9 L190.0,410.9 L190.5,409.8 L191.0,408.8 L191.5,408.2 L192.0,408.3 L192.5,408.9 L193.0,407.9 L193.5,408.5 L194.0,406.5 L194.5,405.6 L195.0,405.3 L195.5,407.8 L196.0,406.9 L196.5,408.3 L197.0,409.8 L197.5,408.4 L198.0,408.6 L198.5,411.1 L199.0,409.8 L199.5,410.8 L200.0,410.6 L200.5,412.6 L201.0,413.3 L201.5,412.2 L202.0,414.1 L202.5,413.4 L203.0,415.9 L203.5,415.1 L204.0,414.8 L204.5,415.8 L205.0,417.0 L205.5,419.2 L206.0,418.2 L206.5,419.5 L207.0,418.7 L207.5,420.7 L208.0,419.8 L208.5,421.6 L209.0,420.8 L209.5,420.7 L210.0,422.3 L210.5,423.6 L211.0,423.5 L211.5,424.6 L212.0,423.9 L212.5,423.7 L213.0,424.8 L213.5,427.1 L214.0,427.5 L214.5,427.4 L215.0,427.3 L215.5,429.2 L216.0,428.5 L216.5,431.0 L217.0,432.0 L217.5,431.6 L218.0,431.1 L218.5,431.6 L219.0,430.4 L219.5,430.9 L220.0,429.9 L220.5,428.0 L221.0,427.0 L221.5,427.0 L222.0,426.2 L222.5,428.4 L223.0,427.1 L223.5,426.4 L224.0,425.4 L224.5,425.1 L225.0,427.3 L225.5,425.5 L226.0,424.8 L226.5,423.3 L227.0,424.0 L227.5,423.2 L228.0,422.0 L228.5,421.5 L229.0,421.0 L229.5,421.5 L230.0,422.3 L230.5,422.9 L231.0,422.6 L231.5,421.0 L232.0,421.9 L232.5,421.1 L233.0,418.0 L233.5,419.1 L234.0,418.7 L234.5,416.1 L235.0,415.8 L235.5,416.3 L236.0,415.4 L236.5,415.0 L237.0,412.9 L237.5,411.2 L238.0,409.9 L238.5,410.4 L239.0,410.3 L239.5,409.3 L240.0,409.4 L240.5,408.0 L241.0,407.4 L241.5,406.8 L242.0,403.9 L242.5,404.3 L243.0,404.6 L243.5,404.4 L244.0,405.0 L244.5,406.1 L245.0,405.5 L245.5,402.3 L246.0,401.9 L246.5,400.3 L247.0,396.9 L247.5,396.6 L248.0,395.4 L248.5,393.0 L249.0,390.3 L249.5,389.3 L250.0,387.8 L250.5,382.6 L251.0,381.6 L251.5,379.5 L252.0,378.0 L252.5,378.2 L253.0,378.7 L253.5,382.2 L254.0,383.8 L254.5,385.2 L255.0,384.1 L255.5,385.0 L256.0,383.8 L256.5,384.5 L257.0,383.2 L257.5,382.8 L258.0,381.3 L258.5,383.1 L259.0,383.9 L259.5,383.8 L260.0,381.7 L260.5,382.5 L261.0,380.6 L261.5,379.5 L262.0,378.6 L262.5,378.9 L263.0,379.0 L263.5,380.0 L264.0,380.0 L264.5,381.9 L265.0,382.1 L265.5,383.8 L266.0,384.4 L266.5,385.2 L267.0,386.1 L267.5,385.5 L268.0,387.8 L268.5,387.9 L269.0,387.8 L269.5,390.5 L270.0,391.0 L270.5,391.1 L271.0,390.0 L271.5,389.9 L272.0,391.0 L272.5,393.2 L273.0,392.8 L273.5,392.0 L274.0,392.4 L274.5,392.4 L275.0,393.8 L275.5,395.3 L276.0,395.0 L276.5,395.1 L277.0,394.3 L277.5,397.3 L278.0,397.4 L278.5,398.9 L279.0,397.9 L279.5,398.1 L280.0,400.4 L280.5,401.4 L281.0,399.3 L281.5,401.6 L282.0,401.9 L282.5,401.6 L283.0,403.3 L283.5,404.8 L284.0,402.9 L284.5,403.7 L285.0,405.8 L285.5,406.0 L286.0,405.5 L286.5,403.7 L287.0,403.3 L287.5,404.4 L288.0,402.9 L288.5,403.8 L289.0,402.3 L289.5,402.9 L290.0,402.5 L290.5,402.9 L291.0,401.9 L291.5,403.6 L292.0,403.8 L292.5,401.6 L293.0,402.8 L293.5,400.9 L294.0,400.5 L294.5,399.8 L295.0,400.1 L295.5,398.6 L296.0,398.1 L296.5,398.8 L297.0,399.3 L297.5,398.3 L298.0,399.1 L298.5,398.5 L299.0,395.7 L299.5,394.3 L300.0,393.9 L300.5,392.3 L301.0,392.7 L301.5,390.6 L302.0,389.4 L302.5,388.1 L303.0,386.7 L303.5,388.3 L304.0,387.9 L304.5,387.9 L305.0,384.8 L305.5,384.7 L306.0,383.9 L306.5,382.0 L307.0,379.9 L307.5,378.7 L308.0,380.1 L308.5,380.3 L309.0,377.9 L309.5,378.0 L310.0,375.0 L310.5,374.4 L311.0,373.1 L311.5,374.5 L312.0,373.3 L312.5,374.1 L313.0,372.2 L313.5,374.5 L314.0,374.9 L314.5,372.8 L315.0,372.6 L315.5,368.4 L316.0,365.3 L316.5,361.5 L317.0,361.2 L317.5,359.4 L318.0,354.2 L318.5,352.5 L319.0,348.0 L319.5,344.2 L320.0,343.9 L320.5,343.7 L321.0,344.8 L321.5,345.2 L322.0,344.9 L322.5,346.9 L323.0,345.6 L323.5,344.6 L324.0,342.4 L324.5,341.7 L325.0,342.6 L325.5,340.2 L326.0,337.9 L326.5,338.2 L327.0,336.4 L327.5,336.6 L328.0,337.1 L328.5,336.8 L329.0,337.1 L329.5,336.1 L330.0,336.0 L330.5,334.1 L331.0,332.8 L331.5,333.8 L332.0,333.7 L332.5,334.1 L333.0,335.4 L333.5,336.6 L334.0,335.5 L334.5,336.2 L335.0,333.9 L335.5,333.2 L336.0,335.4 L336.5,335.6 L337.0,334.6 L337.5,331.4 L338.0,331.6 L338.5,329.8 L339.0,327.0 L339.5,324.8 L340.0,323.6 L340.5,323.7 L341.0,321.0 L341.5,321.5 L342.0,319.8 L342.5,320.1 L343.0,317.1 L343.5,316.2 L344.0,316.1 L344.5,313.7 L345.0,312.9 L345.5,311.5 L346.0,310.2 L346.5,309.2 L347.0,309.6 L347.5,307.2 L348.0,306.4 L348.5,302.6 L349.0,301.5 L349.5,300.0 L350.0,298.9 L350.5,296.5 L351.0,297.3 L351.5,295.4 L352.0,295.2 L352.5,293.9 L353.0,293.9 L353.5,291.4 L354.0,291.3 L354.5,288.1 L355.0,288.1 L355.5,285.4 L356.0,284.6 L356.5,283.1 L357.0,281.1 L357.5,278.9 L358.0,275.5 L358.5,274.4 L359.0,270.7 L359.5,268.9 L360.0,265.7 L360.5,265.2 L361.0,261.5 L361.5,261.2 L362.0,260.2 L362.5,257.9 L363.0,255.8 L363.5,253.1 L364.0,250.8 L364.5,248.7 L365.0,245.2 L365.5,243.9 L366.0,243.0 L366.5,240.3 L367.0,238.0 L367.5,234.5 L368.0,231.5 L368.5,230.4 L369.0,229.2 L369.5,227.8 L370.0,225.4 L370.5,223.2 L371.0,222.5 L371.5,220.4 L372.0,217.7 L372.5,213.2 L373.0,210.8 L373.5,209.8 L374.0,207.6 L374.5,202.7 L375.0,201.6 L375.5,200.3 L376.0,198.3 L376.5,195.1 L377.0,191.4 L377.5,189.5 L378.0,185.8 L378.5,183.3 L379.0,182.8 L379.5,179.8 L380.0,177.1 L380.5,176.6 L381.0,176.1 L381.5,173.8 L382.0,169.8 L382.5,168.5 L383.0,167.0 L383.5,165.6 L384.0,161.0 L384.5,157.0 L385.0,153.8 L385.5,150.7 L386.0,146.8 L386.5,143.1 L387.0,140.4 L387.5,139.0 L388.0,142.0 L388.5,143.9 L389.0,144.4 L389.5,147.3 L390.0,146.9 L390.5,147.4 L391.0,148.1 L391.5,150.0 L392.0,151.2 L392.5,150.3 L393.0,150.3 L393.5,149.7 L394.0,151.7 L394.5,150.9 L395.0,149.0 L395.5,149.8 L396.0,150.3 L396.5,151.3 L397.0,149.6 L397.5,148.4 L398.0,149.6 L398.5,149.2 L399.0,149.3 L399.5,152.8 L400.0,152.6 L400.5,154.6 L401.0,157.9 L401.5,158.8 L402.0,159.0 L402.5,162.1 L403.0,161.2 L403.5,163.7 L404.0,165.4 L404.5,164.8 L405.0,165.1 L405.5,166.0 L406.0,168.1 L406.5,169.3 L407.0,169.5 L407.5,170.7 L408.0,169.8 L408.5,172.0 L409.0,173.0 L409.5,171.6 L410.0,173.2 L410.5,174.7 L411.0,176.8 L411.5,176.4 L412.0,178.4 L412.5,180.3 L413.0,181.6 L413.5,184.3 L414.0,186.1 L414.5,188.8 L415.0,189.9 L415.5,190.9 L416.0,192.3 L416.5,193.8 L417.0,196.1 L417.5,197.0 L418.0,200.9 L418.5,204.0 L419.0,204.7 L419.5,207.5 L420.0,211.5 L420.5,211.8 L421.0,215.9 L421.5,216.1 L422.0,217.3 L422.5,221.1 L423.0,222.8 L423.5,224.0 L424.0,223.4 L424.5,226.0 L425.0,226.3 L425.5,226.0 L426.0,227.4 L426.5,228.8 L427.0,232.1 L427.5,233.7 L428.0,232.2 L428.5,233.4 L429.0,234.2 L429.5,235.8 L430.0,238.1 L430.5,239.6 L431.0,238.0 L431.5,240.4 L432.0,239.4 L432.5,241.2 L433.0,241.5 L433.5,242.7 L434.0,243.4 L434.5,244.4 L435.0,246.8 L435.5,246.3 L436.0,246.2 L436.5,248.0 L437.0,248.2 L437.5,247.3 L438.0,248.4 L438.5,248.7 L439.0,246.3 L439.5,247.4 L440.0,245.9 L440.5,244.5 L441.0,244.8 L441.5,245.5 L442.0,244.3 L442.5,243.0 L443.0,244.0 L443.5,242.6 L444.0,243.9 L444.5,242.2 L445.0,244.2 L445.5,243.3 L446.0,245.4 L446.5,245.0 L447.0,245.7 L447.5,247.5 L448.0,248.2 L448.5,251.2 L449.0,249.1 L449.5,246.9 L450.0,247.2 L450.5,245.1 L451.0,241.1 L451.5,237.7 L452.0,235.9 L452.5,234.3 L453.0,234.1 L453.5,233.5 L454.0,231.0 L454.5,230.2 L455.0,231.9 L455.5,232.2 L456.0,233.1 L456.5,235.3 L457.0,237.3 L457.5,239.3 L458.0,240.1 L458.5,239.8 L459.0,239.3 L459.5,241.8 L460.0,242.9 L460.5,243.2 L461.0,244.1 L461.5,244.6 L462.0,242.9 L462.5,244.1 L463.0,243.5 L463.5,241.7 L464.0,241.1 L464.5,243.5 L465.0,241.9 L465.5,243.3 L466.0,244.5 L466.5,246.6 L467.0,246.7 L467.5,246.6 L468.0,247.8 L468.5,247.9 L469.0,249.3 L469.5,250.2 L470.0,250.3 L470.5,252.2 L471.0,253.4 L471.5,254.1 L472.0,257.4 L472.5,256.9 L473.0,257.9 L473.5,258.0 L474.0,260.8 L474.5,261.3 L475.0,261.0 L475.5,261.7 L476.0,264.0 L476.5,264.2 L477.0,265.0 L477.5,266.6 L478.0,267.9 L478.5,267.2 L479.0,267.5 L479.5,266.8 L480.0,268.0 L480.5,269.1 L481.0,270.6 L481.5,272.7 L482.0,275.0 L482.5,273.7 L483.0,276.5 L483.5,275.7 L484.0,277.6 L484.5,276.8 L485.0,279.1 L485.5,278.8 L486.0,279.6 L486.5,280.8 L487.0,283.8 L487.5,283.1 L488.0,284.8 L488.5,286.3 L489.0,287.6 L489.5,286.3 L490.0,286.8 L490.5,286.8 L491.0,287.2 L491.5,286.4 L492.0,287.0 L492.5,287.3 L493.0,287.6 L493.5,287.9 L494.0,286.3 L494.5,287.0 L495.0,287.9 L495.5,287.3 L496.0,288.9 L496.5,288.5 L497.0,286.1 L497.5,287.2 L498.0,286.6 L498.5,287.0 L499.0,288.7 L499.5,288.9 L500.0,287.8 L500.5,287.6 L501.0,288.1 L501.5,287.4 L502.0,287.7 L502.5,288.9 L503.0,289.2 L503.5,287.9 L504.0,287.1 L504.5,287.0 L505.0,285.6 L505.5,284.6 L506.0,285.1 L506.5,283.1 L507.0,284.9 L507.5,282.6 L508.0,281.3 L508.5,283.5 L509.0,283.5 L509.5,284.1 L510.0,283.1 L510.5,282.5 L511.0,281.8 L511.5,281.0 L512.0,280.6 L512.5,278.1 L513.0,278.6 L513.5,278.5 L514.0,279.5 L514.5,279.9 L515.0,279.9 L515.5,280.5 L516.0,282.5 L516.5,282.0 L517.0,281.4 L517.5,282.7 L518.0,282.2 L518.5,277.8 L519.0,276.7 L519.5,276.5 L520.0,273.5 L520.5,271.9 L521.0,268.7 L521.5,265.7 L522.0,263.9 L522.5,262.9 L523.0,263.2 L523.5,266.7 L524.0,269.3 L524.5,269.1 L525.0,272.0 L525.5,274.1 L526.0,275.3 L526.5,275.9 L527.0,276.2 L527.5,278.6 L528.0,277.5 L528.5,279.8 L529.0,278.9 L529.5,278.1 L530.0,278.8 L530.5,278.7 L531.0,278.9 L531.5,277.9 L532.0,278.6 L532.5,280.3 L533.0,280.9 L533.5,283.6 L534.0,284.0 L534.5,283.0 L535.0,285.3 L535.5,285.6 L536.0,288.5 L536.5,289.4 L537.0,289.9 L537.5,290.8 L538.0,292.7 L538.5,295.0 L539.0,294.1 L539.5,295.8 L540.0,298.6 L540.5,297.9 L541.0,300.8 L541.5,301.8 L542.0,303.9 L542.5,304.9 L543.0,304.8 L543.5,306.1 L544.0,306.1 L544.5,309.3 L545.0,310.3 L545.5,311.0 L546.0,311.3 L546.5,313.9 L547.0,313.4 L547.5,316.2 L548.0,317.4 L548.5,319.5 L549.0,319.6 L549.5,319.2 L550.0,319.6 L550.5,320.9 L551.0,322.2 L551.5,322.4 L552.0,326.0 L552.5,325.2 L553.0,327.8 L553.5,328.9 L554.0,329.7 L554.5,329.1 L555.0,332.2 L555.5,333.2 L556.0,335.0 L556.5,336.9 L557.0,337.8 L557.5,336.6 L558.0,336.0 L558.5,335.6 L559.0,337.4 L559.5,338.1 L560.0,340.2 L560.5,340.4 L561.0,339.1 L561.5,339.3 L562.0,340.9 L562.5,342.0 L563.0,342.1 L563.5,344.1 L564.0,342.7 L564.5,342.0 L565.0,343.5 L565.5,343.4 L566.0,342.9 L566.5,341.7 L567.0,338.8 L567.5,339.5 L568.0,339.2 L568.5,338.4 L569.0,335.9 L569.5,334.7 L570.0,334.4 L570.5,332.8 L571.0,333.1 L571.5,332.8 L572.0,329.8 L572.5,328.5 L573.0,329.4 L573.5,326.7 L574.0,324.4 L574.5,325.2 L575.0,323.5 L575.5,323.2 L576.0,321.7 L576.5,318.8 L577.0,318.4 L577.5,315.5 L578.0,313.8 L578.5,311.8 L579.0,312.4 L579.5,309.5 L580.0,308.2 L580.5,306.4 L581.0,305.0 L581.5,306.0 L582.0,305.4 L582.5,304.2 L583.0,304.0 L583.5,306.2 L584.0,304.0 L584.5,305.8 L585.0,305.9 L585.5,306.8 L586.0,305.7 L586.5,301.4 L587.0,299.8 L587.5,295.3 L588.0,293.8 L588.5,290.0 L589.0,284.7 L589.5,281.7 L590.0,275.5 L590.5,273.0 L591.0,270.6 L591.5,271.8 L592.0,273.5 L592.5,272.5 L593.0,274.3 L593.5,275.4 L594.0,276.0 L594.5,275.8 L595.0,273.8 L595.5,273.8 L596.0,273.1 L596.5,269.9 L597.0,268.5 L597.5,267.3 L598.0,265.1 L598.5,265.3 L599.0,264.0 L599.5,265.4 L600.0,264.0 L600.5,263.3 L601.0,261.5 L601.5,263.4 L602.0,262.7 L602.5,262.7 L603.0,264.5 L603.5,262.9 L604.0,262.6 L604.5,262.0 L605.0,264.2 L605.5,263.1 L606.0,264.7 L606.5,266.1 L607.0,267.2 L607.5,264.6 L608.0,264.6 L608.5,263.6 L609.0,263.3 L609.5,263.5 L610.0,261.8 L610.5,262.8 L611.0,263.5 L611.5,262.6 L612.0,264.0 L612.5,263.3 L613.0,264.5 L613.5,263.5 L614.0,263.8 L614.5,265.5 L615.0,266.2 L615.5,263.9 L616.0,265.7 L616.5,263.9 L617.0,264.3 L617.5,264.0 L618.0,263.4 L618.5,261.6 L619.0,264.0 L619.5,265.2 L620.0,265.5 L620.5,266.1 L621.0,265.7 L621.5,265.8 L622.0,265.5 L622.5,265.8 L623.0,265.8 L623.5,267.4 L624.0,265.8 L624.5,264.1 L625.0,265.7 L625.5,263.8 L626.0,263.5 L626.5,261.6 L627.0,261.0 L627.5,260.3 L628.0,258.9 L628.5,260.3 L629.0,259.4 L629.5,257.1 L630.0,256.5 L630.5,256.2 L631.0,254.4 L631.5,252.8 L632.0,252.1 L632.5,249.9 L633.0,251.4 L633.5,250.5 L634.0,248.8 L634.5,247.6 L635.0,246.2 L635.5,247.5 L636.0,245.0 L636.5,244.6 L637.0,242.9 L637.5,244.6 L638.0,242.1 L638.5,241.0 L639.0,240.8 L639.5,240.7 L640.0,239.8 L640.5,238.8 L641.0,237.9 L641.5,237.3 L642.0,236.2 L642.5,234.8 L643.0,232.6 L643.5,231.3 L644.0,230.7 L644.5,229.3 L645.0,227.5 L645.5,227.0 L646.0,225.1 L646.5,223.6 L647.0,223.8 L647.5,222.4 L648.0,220.1 L648.5,218.4 L649.0,219.0 L649.5,220.7 L650.0,221.7 L650.5,222.8 L651.0,221.8 L651.5,220.2 L652.0,220.9 L652.5,221.4 L653.0,219.0 L653.5,216.9 L654.0,215.5 L654.5,212.7 L655.0,210.2 L655.5,208.8 L656.0,204.8 L656.5,202.6 L657.0,200.9 L657.5,200.0 L658.0,197.2 L658.5,197.5 L659.0,196.1 L659.5,194.4 L660.0,197.0 L660.5,197.5 L661.0,199.7 L661.5,201.1 L662.0,202.7 L662.5,201.6 L663.0,202.3 L663.5,201.3 L664.0,201.8 L664.5,200.7 L665.0,200.8 L665.5,199.8 L666.0,198.7 L666.5,196.8 L667.0,198.5 L667.5,198.3 L668.0,197.7 L668.5,196.8 L669.0,197.8 L669.5,198.7 L670.0,197.8 L670.5,199.8 L671.0,198.8 L671.5,200.0 L672.0,201.3 L672.5,200.6 L673.0,203.3 L673.5,204.9 L674.0,204.3 L674.5,204.3 L675.0,206.5 L675.5,207.6 L676.0,207.1 L676.5,209.0 L677.0,209.6 L677.5,209.5 L678.0,212.0 L678.5,211.3 L679.0,213.0 L679.5,213.3 L680.0,213.4 L680.5,213.1 L681.0,215.0 L681.5,214.9 L682.0,215.9 L682.5,216.0 L683.0,216.9 L683.5,219.8 L684.0,220.1 L684.5,220.6 L685.0,220.8 L685.5,220.2 L686.0,220.9 L686.5,221.0 L687.0,221.4 L687.5,223.3 L688.0,222.8 L688.5,222.6 L689.0,225.3 L689.5,225.5 L690.0,227.2 L690.5,226.7 L691.0,226.9 L691.5,226.7 L692.0,227.9 L692.5,228.6 L693.0,229.8 L693.5,230.9 L694.0,229.3 L694.5,229.3 L695.0,230.0 L695.5,229.0 L696.0,227.6 L696.5,227.2 L697.0,227.5 L697.5,226.9 L698.0,225.7 L698.5,225.6 L699.0,224.7 L699.5,225.1 L700.0,224.9 L700.5,224.8 L701.0,224.0 L701.5,224.0 L702.0,226.1 L702.5,226.8 L703.0,224.3 L703.5,222.6 L704.0,223.5 L704.5,222.8 L705.0,223.1 L705.5,223.4 L706.0,222.5 L706.5,220.0 L707.0,220.6 L707.5,218.2 L708.0,217.2 L708.5,216.9 L709.0,215.6 L709.5,216.7 L710.0,217.5 L710.5,217.1 L711.0,215.7 L711.5,214.4 L712.0,215.2 L712.5,213.3 L713.0,214.1 L713.5,211.3 L714.0,210.0 L714.5,209.3 L715.0,210.5 L715.5,210.6 L716.0,210.4 L716.5,208.4 L717.0,209.9 L717.5,210.9 L718.0,211.4 L718.5,211.7 L719.0,210.4 L719.5,211.5 L720.0,213.3 L720.5,212.7 L721.0,211.0 L721.5,207.8 L722.0,207.8 L722.5,205.5 L723.0,201.8 L723.5,200.3 L724.0,198.2 L724.5,197.6 L725.0,194.6 L725.5,193.2 L726.0,194.1 L726.5,193.1 L727.0,193.5 L727.5,195.2 L728.0,197.5 L728.5,198.2 L729.0,200.5 L729.5,202.6 L730.0,201.7 L730.5,202.6 L731.0,202.4 L731.5,203.3 L732.0,204.6 L732.5,204.8 L733.0,204.7 L733.5,203.6 L734.0,206.1 L734.5,204.1 L735.0,206.1 L735.5,204.0 L736.0,204.4 L736.5,205.4 L737.0,207.8 L737.5,208.4 L738.0,209.3 L738.5,208.8 L739.0,208.4 L739.5,211.4 L740.0,211.1 L740.5,213.9 L741.0,213.4 L741.5,216.1 L742.0,216.2 L742.5,218.5 L743.0,218.6 L743.5,219.3 L744.0,219.7 L744.5,221.6 L745.0,224.0 L745.5,225.9 L746.0,226.0 L746.5,225.5 L747.0,227.3 L747.5,229.1 L748.0,229.7 L748.5,229.3 L749.0,231.0 L749.5,233.3 L750.0,235.4 L750.5,236.8 L751.0,236.4 L751.5,237.6 L752.0,238.3 L752.5,240.3 L753.0,242.7 L753.5,242.4 L754.0,243.8 L754.5,243.9 L755.0,244.9 L755.5,248.1 L756.0,249.7 L756.5,251.2 L757.0,251.9 L757.5,252.3 L758.0,251.7 L758.5,254.2 L759.0,254.8 L759.5,254.6 L760.0,253.7 L760.5,255.7 L761.0,254.7 L761.5,255.5 L762.0,256.1 L762.5,257.1 L763.0,256.2 L763.5,258.7 L764.0,257.3 L764.5,257.4 L765.0,258.4 L765.5,258.8 L766.0,258.2 L766.5,257.5 L767.0,258.9 L767.5,259.0 L768.0,259.2 L768.5,259.7 L769.0,260.7 L769.5,262.0 L770.0,259.6 L770.5,259.6 L771.0,261.6 L771.5,261.9 L772.0,262.1 L772.5,260.5 L773.0,259.0 L773.5,259.1 L774.0,260.6 L774.5,261.6 L775.0,261.4 L775.5,261.1 L776.0,258.1 L776.5,256.9 L777.0,257.1 L777.5,255.0 L778.0,255.7 L778.5,255.6 L779.0,254.7 L779.5,253.8 L780.0,251.4 L780.5,251.9 L781.0,250.0 L781.5,251.0 L782.0,248.5 L782.5,247.0 L783.0,246.3 L783.5,246.1 L784.0,246.1 L784.5,247.6 L785.0,247.5 L785.5,248.4 L786.0,247.1 L786.5,247.7 L787.0,249.4 L787.5,248.6 L788.0,250.3 L788.5,250.1 L789.0,250.1 L789.5,248.6 L790.0,243.8 L790.5,240.9 L791.0,239.5 L791.5,236.5 L792.0,235.2 L792.5,233.6 L793.0,230.8 L793.5,229.8 L794.0,229.2 L794.5,227.6 L795.0,229.7 L795.5,230.3 L796.0,231.1 L796.5,233.1 L797.0,236.1 L797.5,236.7 L798.0,238.4 L798.5,238.7 L799.0,238.1 L799.5,239.5 L800.0,240.7 L800.5,238.9 L801.0,239.3 L801.5,239.0 L802.0,238.4 L802.5,236.3 L803.0,236.0 L803.5,236.3 L804.0,235.7 L804.5,236.1 L805.0,235.6 L805.5,237.1 L806.0,238.5 L806.5,238.1 L807.0,238.7 L807.5,240.7 L808.0,242.7 L808.5,244.0 L809.0,242.3 L809.5,243.8 L810.0,244.1 L810.5,245.1 L811.0,244.7 L811.5,247.9 L812.0,247.6 L812.5,247.7 L813.0,250.0 L813.5,250.5 L814.0,251.8 L814.5,253.0 L815.0,254.3 L815.5,254.8 L816.0,256.2 L816.5,255.7 L817.0,255.4 L817.5,258.0 L818.0,259.8 L818.5,259.1 L819.0,260.4 L819.5,261.6 L820.0,260.5 L820.5,260.5 L821.0,261.9 L821.5,264.0 L822.0,264.9 L822.5,267.4 L823.0,269.2 L823.5,269.2 L824.0,268.7 L824.5,268.4 L825.0,270.8 L825.5,272.4 L826.0,272.7 L826.5,273.4 L827.0,274.3 L827.5,275.6 L828.0,276.4 L828.5,277.1 L829.0,277.4 L829.5,276.6 L830.0,276.5 L830.5,275.3 L831.0,275.9 L831.5,277.1 L832.0,278.2 L832.5,277.9 L833.0,275.1 L833.5,273.9 L834.0,275.0 L834.5,276.7 L835.0,274.7 L835.5,275.7 L836.0,274.1 L836.5,275.6 L837.0,276.9 L837.5,276.4 L838.0,276.7 L838.5,275.3 L839.0,273.9 L839.5,273.2 L840.0,274.0 L840.5,273.2 L841.0,274.1 L841.5,276.3 L842.0,274.7 L842.5,273.8 L843.0,272.9 L843.5,274.0 L844.0,272.6 L844.5,271.4 L845.0,270.4 L845.5,272.0 L846.0,272.0 L846.5,270.1 L847.0,269.6 L847.5,267.9 L848.0,268.3 L848.5,268.0 L849.0,266.3 L849.5,265.7 L850.0,266.8 L850.5,266.9 L851.0,264.7 L851.5,262.7 L852.0,261.1 L852.5,260.5 L853.0,260.2 L853.5,262.6 L854.0,263.3 L854.5,265.4 L855.0,267.8 L855.5,266.9 L856.0,267.5 L856.5,266.0 L857.0,263.2 L857.5,259.3 L858.0,257.3 L858.5,254.4 L859.0,252.1 L859.5,250.1 L860.0,248.2 L860.5,247.6 L861.0,245.7 L861.5,245.8 L862.0,243.5 L862.5,245.2 L863.0,245.0 L863.5,245.6 L864.0,245.7 L864.5,247.6 L865.0,248.8 L865.5,250.9 L866.0,251.6 L866.5,252.8 L867.0,254.3 L867.5,253.7 L868.0,253.5 L868.5,253.1 L869.0,252.7 L869.5,254.2 L870.0,253.3 L870.5,251.5 L871.0,250.9 L871.5,249.7 L872.0,251.5 L872.5,252.7 L873.0,252.9 L873.5,253.0 L874.0,252.2 L874.5,251.0 L875.0,253.6 L875.5,254.1 L876.0,253.6 L876.5,255.6 L877.0,257.2 L877.5,257.9 L878.0,259.3 L878.5,260.4 L879.0,260.2 L879.5,260.8 L880.0,262.4 L880.5,263.7 L881.0,263.8 L881.5,266.7 L882.0,267.1 L882.5,268.8 L883.0,267.9 L883.5,268.9 L884.0,271.1 L884.5,272.8 L885.0,272.3 L885.5,274.1 L886.0,273.1 L886.5,273.0 L887.0,275.8 L887.5,276.3 L888.0,276.9 L888.5,278.6 L889.0,279.2 L889.5,280.8 L890.0,281.8 L890.5,282.2 L891.0,282.3 L891.5,282.9 L892.0,283.0 L892.5,283.1 L893.0,285.7 L893.5,286.0 L894.0,288.2 L894.5,288.9 L895.0,288.1 L895.5,290.1 L896.0,289.9 L896.5,290.5 L897.0,291.8 L897.5,291.3 L898.0,292.3 L898.5,291.2 L899.0,292.6 L899.5,293.3 L900.0,291.5 L900.5,290.5 L901.0,291.5 L901.5,291.1 L902.0,292.1 L902.5,289.5 L903.0,289.6 L903.5,290.9 L904.0,290.1 L904.5,289.5 L905.0,289.3 L905.5,289.7 L906.0,288.8 L906.5,289.2 L907.0,289.6 L907.5,287.4 L908.0,286.1 L908.5,285.3 L909.0,286.9 L909.5,284.9 L910.0,286.0 L910.5,284.0 L911.0,284.0 L911.5,285.8 L912.0,285.8 L912.5,283.8 L913.0,281.5 L913.5,281.2 L914.0,281.1 L914.5,282.7 L915.0,282.1 L915.5,280.1 L916.0,281.8 L916.5,282.4 L917.0,280.3 L917.5,280.3 L918.0,279.7 L918.5,279.6 L919.0,279.8 L919.5,279.9 L920.0,276.7 L920.5,276.5 L921.0,276.7 L921.5,276.3 L922.0,276.9 L922.5,279.5 L923.0,279.9 L923.5,279.9 L924.0,277.6 L924.5,277.0 L925.0,276.3 L925.5,273.9 L926.0,272.7 L926.5,270.5 L927.0,267.8 L927.5,263.9 L928.0,262.8 L928.5,261.3 L929.0,257.0 L929.5,256.9 L930.0,255.4 L930.5,253.8 L931.0,254.2 L931.5,251.9 L932.0,250.5 L932.5,250.4 L933.0,251.3" fill="none" stroke="#0072B2" stroke-opacity="0.22" stroke-width="1.7" stroke-linejoin="round"/>
<path d="M933.0,268.2 L934.1,270.2 L935.2,268.6 L936.3,270.5 L937.4,269.2 L938.5,270.2 L939.6,268.8 L940.7,271.4 L941.8,269.3 L942.9,271.0 L944.0,270.5 L944.7,270.0 L944.7,310.5 L944.0,309.9 L942.9,309.1 L941.8,310.5 L940.7,308.7 L939.6,310.5 L938.5,308.6 L937.4,309.5 L936.3,308.4 L935.2,309.7 L934.1,308.5 L933.0,309.5Z" fill="#0072B2" fill-opacity="0.2"/>
<path d="M933.0,250.8 L934.1,252.9 L935.2,250.9 L936.3,252.9 L937.4,252.2 L938.5,254.0 L939.6,252.6 L940.7,255.1 L941.8,253.2 L942.9,255.8 L944.0,253.5 L944.7,253.8 L944.7,270.0 L944.0,270.5 L942.9,271.0 L941.8,269.3 L940.7,271.4 L939.6,268.8 L938.5,270.2 L937.4,269.2 L936.3,270.5 L935.2,268.6 L934.1,270.2 L933.0,268.2Z" fill="#0072B2" fill-opacity="0.19"/>
<path d="M933.0,309.5 L934.1,308.5 L935.2,309.7 L936.3,308.4 L937.4,309.5 L938.5,308.6 L939.6,310.5 L940.7,308.7 L941.8,310.5 L942.9,309.1 L944.0,309.9 L944.7,310.5 L944.7,329.8 L944.0,329.5 L942.9,327.4 L941.8,329.7 L940.7,327.8 L939.6,329.4 L938.5,326.8 L937.4,329.2 L936.3,327.6 L935.2,330.2 L934.1,327.1 L933.0,330.0Z" fill="#0072B2" fill-opacity="0.34"/>
<line x1="123.50" x2="123.50" y1="15.4" y2="542.5" stroke="#808080" stroke-opacity="0.2" stroke-width="1.4"/>
<line x1="258.50" x2="258.50" y1="15.4" y2="542.5" stroke="#808080" stroke-opacity="0.2" stroke-width="1.4"/>
<line x1="394.50" x2="394.50" y1="15.4" y2="542.5" stroke="#808080" stroke-opacity="0.2" stroke-width="1.4"/>
<line x1="530.50" x2="530.50" y1="15.4" y2="542.5" stroke="#808080" stroke-opacity="0.2" stroke-width="1.4"/>
<line x1="665.50" x2="665.50" y1="15.4" y2="542.5" stroke="#808080" stroke-opacity="0.2" stroke-width="1.4"/>
<line x1="801.50" x2="801.50" y1="15.4" y2="542.5" stroke="#808080" stroke-opacity="0.2" stroke-width="1.4"/>
<line x1="937.50" x2="937.50" y1="15.4" y2="542.5" stroke="#808080" stroke-opacity="0.2" stroke-width="1.4"/>
<line x1="79.5" x2="985.5" y1="532.50" y2="532.50" stroke="#808080" stroke-opacity="0.2" stroke-width="1.4"/>
<line x1="79.5" x2="985.5" y1="416.50" y2="416.50" stroke="#808080" stroke-opacity="0.2" stroke-width="1.4"/>
<line x1="79.5" x2="985.5" y1="300.50" y2="300.50" stroke="#808080" stroke-opacity="0.2" stroke-width="1.4"/>
<line x1="79.5" x2="985.5" y1="183.50" y2="183.50" stroke="#808080" stroke-opacity="0.2" stroke-width="1.4"/>
<line x1="79.5" x2="985.5" y1="67.50" y2="67.50" stroke="#808080" stroke-opacity="0.2" stroke-width="1.4"/>
<path d="M122.0,448.0h0M121.0,455.0h0M126.0,455.0h0M130.0,466.0h0M130.0,472.0h0M136.0,466.0h0M141.0,469.0h0M146.0,476.0h0M149.6,488.0h0M153.0,477.0h0M158.0,474.0h0M164.0,467.0h0M169.0,469.0h0M177.0,473.0h0M182.0,464.0h0M186.0,454.0h0M189.0,460.0h0M193.0,449.0h0M196.0,458.0h0M200.0,467.0h0M205.0,456.0h0M210.0,444.0h0M216.0,439.0h0M222.0,434.0h0M226.0,426.0h0M230.0,419.0h0M236.0,420.0h0M237.0,430.0h0M241.0,439.0h0M244.0,432.0h0M249.0,424.0h0M254.0,421.0h0M258.0,426.0h0M263.0,440.0h0M121.4,450.1h0M121.7,452.1h0M122.3,457.4h0M124.2,456.5h0M124.1,452.5h0M127.0,451.3h0M126.8,458.5h0M127.2,461.3h0M129.3,463.9h0M130.7,470.1h0M131.2,474.5h0M132.2,469.1h0M132.5,471.5h0M134.1,468.7h0M134.2,465.6h0M137.5,468.5h0M138.1,466.1h0M139.3,472.0h0M140.0,466.2h0M142.3,472.1h0M143.4,474.5h0M144.2,477.8h0M147.0,481.0h0M147.8,483.4h0M148.8,486.1h0M150.5,484.4h0M151.7,481.7h0M151.5,478.9h0M153.7,474.2h0M155.3,479.5h0M155.6,474.1h0M156.0,476.2h0M159.1,468.6h0M160.1,475.0h0M160.8,467.8h0M161.4,472.9h0M162.4,468.9h0M163.2,464.3h0M165.3,463.6h0M165.7,466.1h0M167.6,467.3h0M167.2,472.6h0M169.2,465.8h0M169.3,472.1h0M171.8,468.3h0M171.2,470.7h0M171.9,473.4h0M173.2,467.2h0M173.8,471.2h0M174.4,469.3h0M174.9,473.5h0M175.0,476.0h0M175.8,471.2h0M177.4,469.5h0M178.9,471.8h0M179.4,469.8h0M180.2,467.8h0M179.8,464.8h0M183.0,461.2h0M183.3,459.1h0M185.6,457.1h0M187.9,457.3h0M190.4,456.8h0M191.0,452.5h0M193.3,450.9h0M194.7,454.1h0M194.5,456.7h0M198.0,460.8h0M197.3,465.1h0M200.6,464.9h0M201.8,462.3h0M204.4,459.4h0M206.7,452.5h0M207.2,447.9h0M208.7,445.9h0M209.7,447.7h0M211.1,441.5h0M212.6,439.3h0M212.1,446.0h0M213.2,443.1h0M214.2,436.9h0M215.4,441.1h0M214.7,435.1h0M217.0,435.9h0M219.2,441.0h0M219.2,431.6h0M220.5,437.2h0M220.1,434.7h0M221.2,431.6h0M223.6,429.2h0M224.2,431.9h0M226.7,422.9h0M228.7,421.9h0M231.2,417.3h0M232.1,419.3h0M234.1,420.6h0M233.8,418.1h0M234.3,422.5h0M235.3,424.0h0M236.6,421.9h0M237.5,427.1h0M237.7,432.2h0M238.6,434.9h0M241.0,436.9h0M242.6,433.7h0M244.7,435.0h0M245.6,433.4h0M245.9,430.9h0M245.6,427.0h0M247.5,427.0h0M247.5,422.4h0M249.3,420.4h0M249.9,425.7h0M251.2,422.8h0M252.4,419.6h0M253.6,425.0h0M255.2,419.3h0M255.5,423.5h0M256.8,420.6h0M259.4,430.0h0M260.0,432.6h0M261.0,435.0h0M262.5,437.9h0M263.0,452.0h0M267.0,432.0h0M272.0,415.0h0M278.0,413.0h0M283.0,419.0h0M288.0,406.0h0M292.0,412.0h0M295.0,422.0h0M299.0,426.0h0M264.7,436.7h0M267.4,430.1h0M268.0,425.7h0M268.9,427.6h0M269.1,423.0h0M270.4,424.8h0M270.0,420.9h0M271.2,419.3h0M271.9,411.9h0M274.3,413.9h0M274.4,418.6h0M275.9,412.5h0M277.9,417.2h0M280.2,411.2h0M280.8,415.2h0M281.7,417.3h0M284.3,414.7h0M286.3,411.7h0M286.5,407.4h0M287.8,403.2h0M289.3,407.7h0M290.1,409.7h0M293.7,413.7h0M293.3,416.0h0M293.2,420.2h0M294.7,423.8h0M296.1,425.1h0M297.9,423.8h0M298.9,420.8h0M232.0,404.0h0M231.0,400.0h0M200.0,458.0h0M205.0,452.0h0M201.3,453.9h0M200.5,460.5h0M201.5,452.0h0M203.0,458.0h0M204.5,454.2h0M205.4,446.2h0M206.7,450.7h0M207.4,443.3h0M208.4,449.2h0M209.1,441.4h0M215.0,443.8h0M225.5,429.3h0M228.1,419.7h0M230.4,414.5h0M236.0,417.2h0M231.4,394.0h0M232.0,408.0h0M246.0,424.0h0M258.0,428.0h0M263.0,444.0h0M237.9,436.6h0M239.0,440.1h0M239.1,438.3h0M244.6,428.8h0M249.2,429.1h0M252.5,428.6h0M263.8,447.5h0M265.0,440.0h0M265.9,435.0h0M267.8,433.7h0M273.0,417.0h0M274.7,411.1h0M276.2,414.4h0M278.5,414.8h0M279.8,421.4h0M281.2,413.4h0M284.4,411.9h0M285.5,409.2h0M286.4,390.0h0M288.0,396.0h0M290.0,404.0h0M301.0,432.0h0M299.4,441.0h0M288.3,399.5h0M295.1,419.3h0M297.0,418.2h0M300.0,427.8h0M300.4,429.7h0M300.6,435.5h0M300.6,439.1h0M304.0,428.0h0M307.0,420.0h0M311.0,413.0h0M314.0,418.0h0M317.0,427.0h0M302.8,431.7h0M303.8,430.0h0M304.6,424.7h0M306.8,422.8h0M308.8,417.4h0M312.0,416.4h0M314.6,416.1h0M314.2,421.0h0M316.8,422.8h0M316.3,425.0h0M321.0,400.0h0M322.0,394.0h0M326.0,391.0h0M324.0,396.8h0M323.8,391.4h0M325.0,394.5h0M327.0,376.0h0M328.0,360.0h0M332.0,358.0h0M336.0,368.0h0M341.0,365.0h0M346.0,354.0h0M344.0,348.0h0M348.0,344.0h0M343.0,341.0h0M329.6,359.1h0M329.7,363.0h0M331.1,355.6h0M333.3,362.4h0M334.2,364.9h0M337.8,364.8h0M338.7,367.2h0M339.7,362.5h0M343.0,360.7h0M342.9,363.2h0M343.8,357.8h0M344.4,356.0h0M345.8,351.8h0M345.7,349.7h0M344.1,344.4h0M346.4,341.5h0M346.8,347.5h0M345.7,343.5h0M346.1,338.3h0M335.0,358.0h0M343.0,354.0h0M328.7,355.6h0M334.7,355.8h0M335.6,361.7h0M337.6,353.0h0M338.0,358.5h0M338.5,355.9h0M340.5,360.0h0M340.8,355.4h0M341.6,350.4h0M344.0,333.0h0M350.0,336.0h0M343.3,338.6h0M343.1,336.0h0M345.3,335.0h0M348.2,339.0h0M348.7,341.8h0M343.6,313.0h0M351.0,306.0h0M352.0,316.0h0M354.0,320.0h0M351.5,309.6h0M352.7,317.8h0M358.0,292.0h0M359.0,300.0h0M362.0,306.0h0M364.0,312.0h0M367.0,318.0h0M358.6,295.7h0M360.1,302.1h0M359.9,305.5h0M362.6,308.0h0M363.3,310.0h0M364.4,314.2h0M366.1,316.2h0M367.0,302.0h0M368.0,293.0h0M369.0,286.0h0M370.0,278.0h0M370.0,272.0h0M372.0,260.0h0M375.0,254.0h0M375.0,248.0h0M376.0,242.0h0M381.0,241.0h0M368.1,295.4h0M367.9,291.1h0M368.0,287.7h0M369.2,281.2h0M370.9,267.9h0M370.2,266.2h0M371.1,262.0h0M373.6,257.0h0M376.0,245.3h0M377.0,240.0h0M378.3,245.3h0M420.0,250.0h0M419.0,260.0h0M422.0,270.0h0M423.0,278.0h0M424.0,288.0h0M428.0,296.0h0M429.0,303.6h0M420.0,253.7h0M418.8,262.0h0M421.2,265.7h0M421.5,273.4h0M423.5,281.4h0M423.7,284.8h0M425.1,290.2h0M425.6,292.2h0M425.3,294.6h0M429.2,294.5h0M428.2,297.8h0M428.8,301.7h0M432.0,254.0h0M433.0,262.0h0M434.0,270.0h0M436.0,280.0h0M438.0,288.0h0M437.0,299.0h0M440.0,306.0h0M438.0,315.0h0M442.0,320.0h0M431.8,258.2h0M433.2,259.9h0M433.3,264.4h0M432.8,268.1h0M435.3,272.9h0M434.9,277.0h0M437.0,283.8h0M436.6,286.0h0M437.8,290.3h0M438.2,295.4h0M436.8,300.9h0M437.2,303.7h0M439.8,302.2h0M439.6,311.3h0M438.4,318.8h0M438.9,316.8h0M441.0,316.1h0M441.2,321.6h0M441.1,318.1h0M445.0,287.0h0M446.0,296.0h0M448.0,304.0h0M451.0,309.0h0M450.0,320.0h0M450.4,329.0h0M445.5,289.8h0M445.7,292.4h0M446.4,298.2h0M447.1,299.9h0M448.9,308.8h0M451.8,306.1h0M449.4,317.0h0M449.2,326.2h0M453.0,288.0h0M456.0,252.0h0M457.0,260.0h0M458.0,270.0h0M459.0,280.0h0M459.0,288.0h0M459.4,295.0h0M459.4,301.0h0M460.0,313.0h0M461.0,324.0h0M461.0,332.0h0M461.6,339.0h0M461.6,346.0h0M461.6,351.0h0M456.1,254.8h0M456.7,256.7h0M457.3,263.0h0M458.3,266.6h0M458.3,272.7h0M458.3,275.8h0M459.6,307.2h0M460.4,309.3h0M461.2,317.9h0M460.8,320.1h0M460.8,335.8h0M466.0,320.0h0M469.0,314.0h0M461.3,327.6h0M462.9,321.4h0M463.5,324.8h0M466.4,317.2h0M468.6,318.1h0M471.0,255.0h0M471.0,260.0h0M471.0,270.0h0M472.0,278.0h0M470.1,265.5h0M472.4,272.0h0M476.0,242.0h0M477.0,249.0h0M475.9,243.9h0M481.0,243.0h0M482.0,260.0h0M482.0,272.0h0M481.4,264.3h0M481.9,269.1h0M487.0,254.0h0M487.0,266.0h0M487.0,275.0h0M486.2,257.3h0M486.7,261.6h0M487.4,269.7h0M493.0,309.0h0M488.0,318.0h0M490.0,326.0h0M491.0,334.0h0M489.8,318.8h0M489.2,322.4h0M490.7,328.8h0M491.0,332.0h0M495.0,324.0h0M499.0,320.0h0M495.0,321.3h0M495.5,327.0h0M496.4,320.0h0M497.2,323.8h0M400.4,39.4h0M400.6,51.0h0M401.0,53.0h0M400.4,55.6h0M400.6,63.0h0M399.6,66.4h0M399.4,80.2h0M399.4,90.4h0M401.4,99.4h0M396.6,100.4h0M398.4,104.4h0M387.4,103.2h0M393.4,111.4h0M398.4,112.0h0M401.6,113.2h0M399.8,115.5h0M400.4,110.6h0M387.4,114.0h0M393.4,119.0h0M397.4,120.0h0M394.7,123.3h0M395.2,119.3h0M397.6,115.6h0M388.6,122.0h0M386.0,125.0h0M388.8,125.0h0M393.0,124.0h0M398.0,125.4h0M393.8,121.3h0M393.7,128.4h0M394.8,125.8h0M396.5,127.3h0M391.0,129.0h0M391.9,127.2h0M393.3,130.5h0M388.0,134.0h0M398.0,133.6h0M392.0,137.6h0M387.0,139.6h0M391.6,121.8h0M397.6,121.8h0M388.0,132.0h0M395.2,130.8h0M397.2,131.6h0M386.2,141.6h0M391.6,142.2h0M397.4,144.6h0M389.8,147.6h0M390.4,151.8h0M389.8,155.4h0M386.2,158.4h0M385.0,161.4h0M388.7,157.8h0M403.6,147.0h0M404.2,151.8h0M401.2,152.4h0M401.8,148.8h0M405.4,160.2h0M404.4,163.8h0M385.0,170.4h0M401.8,169.8h0M406.6,169.8h0M409.6,172.2h0M409.6,175.2h0M405.4,178.8h0M402.5,167.9h0M403.3,172.8h0M406.3,171.9h0M406.6,167.2h0M407.6,174.2h0M407.5,179.9h0M412.0,181.2h0M404.8,182.4h0M410.8,185.4h0M407.2,188.4h0M410.8,190.2h0M408.6,186.5h0M408.6,183.6h0M407.7,192.3h0M409.6,192.1h0M385.0,190.2h0M474.4,199.0h0M474.4,204.0h0M473.6,209.0h0M476.0,215.0h0M473.0,218.0h0M478.0,224.0h0M474.4,226.0h0M477.0,230.0h0M473.0,233.0h0M479.0,234.0h0M476.6,239.6h0M474.2,212.3h0M473.8,221.8h0M474.1,215.3h0M476.3,223.1h0M476.4,226.7h0M477.4,221.2h0M478.2,219.4h0M474.2,229.6h0M476.9,234.7h0M475.2,231.9h0M474.5,234.7h0M472.8,237.0h0M475.0,237.5h0M477.7,237.1h0M477.8,241.4h0M477.7,243.4h0M478.8,240.0h0M478.9,249.7h0M477.4,246.5h0M531.4,231.0h0M531.0,238.0h0M528.0,244.0h0M529.7,241.8h0M533.0,244.0h0M526.0,248.0h0M403.4,154.9h0M403.0,165.7h0M408.0,176.3h0M405.7,176.6h0M410.0,177.1h0M409.9,179.0h0M403.0,190.0h0M412.0,196.0h0M406.0,198.0h0M413.0,201.0h0M407.0,205.0h0M405.4,187.1h0M404.9,192.6h0M403.7,187.8h0M405.2,195.0h0M409.1,194.6h0M409.3,197.0h0M411.6,193.8h0M410.5,199.8h0M408.3,201.6h0M407.2,196.3h0M406.2,199.8h0M408.0,198.9h0M409.0,203.5h0M410.4,202.3h0M412.6,197.7h0M410.9,204.2h0M409.6,206.5h0M418.4,206.0h0M417.0,212.0h0M414.0,218.0h0M418.0,218.0h0M413.6,224.0h0M417.0,224.0h0M414.4,230.0h0M414.4,235.0h0M417.6,208.1h0M416.0,214.4h0M413.9,220.9h0M416.9,220.6h0M417.4,215.6h0M414.4,225.6h0M415.7,227.3h0M391.0,146.0h0M389.1,136.9h0M390.8,136.3h0M392.0,134.6h0M391.6,139.8h0M389.4,140.9h0M388.4,143.4h0M388.7,152.9h0M386.6,155.4h0M377.6,207.0h0M384.0,214.0h0M379.0,218.0h0M383.0,223.0h0M379.0,226.0h0M382.0,230.0h0M377.0,234.0h0M382.3,215.8h0M381.6,219.2h0M380.5,216.6h0M380.7,224.5h0M382.4,221.3h0M382.7,225.0h0M381.2,226.3h0M379.9,222.0h0M381.6,233.2h0M380.0,230.5h0M378.7,228.6h0M371.0,238.0h0M382.0,239.0h0M381.1,243.1h0M379.1,242.6h0M479.6,251.6h0M476.2,212.8h0M474.6,219.8h0M474.9,217.0h0M472.9,227.4h0M477.1,232.1h0M479.0,228.6h0M479.5,244.1h0M476.0,253.1h0M477.1,251.0h0M479.2,255.0h0M478.7,253.1h0M481.0,257.0h0M481.5,266.9h0M470.4,274.0h0M470.0,280.0h0M529.7,239.4h0M533.6,249.0h0M524.0,253.0h0M523.6,258.0h0M524.0,263.0h0M523.4,268.0h0M522.6,273.0h0M526.6,249.8h0M523.8,250.5h0M524.1,265.4h0M528.0,253.0h0M528.0,257.0h0M532.0,259.0h0M536.0,261.0h0M537.0,268.0h0M537.6,272.0h0M537.0,278.0h0M536.0,284.0h0M538.0,286.0h0M538.0,294.4h0M528.1,260.6h0M530.9,261.7h0M531.0,257.2h0M530.9,255.2h0M533.2,260.6h0M533.4,257.0h0M534.9,259.4h0M536.7,263.8h0M537.7,275.2h0M536.7,282.1h0M536.1,280.0h0M537.8,291.1h0M520.0,282.0h0M521.0,288.0h0M522.0,292.0h0M520.2,286.1h0M512.0,296.0h0M518.0,296.0h0M514.1,298.1h0M514.9,295.8h0M516.2,298.4h0M516.1,291.7h0M516.4,294.3h0M412.0,192.0h0M409.4,181.7h0M411.6,188.0h0M418.9,210.0h0M424.0,274.0h0M418.7,256.3h0M419.5,264.4h0M420.9,262.5h0M423.0,268.0h0M428.1,291.3h0M430.0,274.0h0M440.0,294.0h0M431.3,270.7h0M431.1,276.7h0M429.6,272.1h0M431.8,279.4h0M432.4,272.9h0M433.1,275.8h0M438.2,292.7h0M448.0,294.0h0M447.6,286.7h0M458.6,282.0h0M459.4,292.6h0M423.0,276.0h0M419.7,268.0h0M420.2,271.5h0M424.8,283.0h0M428.8,299.8h0M430.0,280.0h0M435.0,288.0h0M439.0,308.0h0M431.6,284.6h0M431.6,282.3h0M432.9,288.4h0M433.9,290.1h0M435.6,293.4h0M437.5,297.1h0M437.0,311.0h0M439.1,320.6h0M444.0,295.0h0M446.1,301.6h0M448.6,305.9h0M450.5,313.8h0M450.6,322.7h0M460.1,305.4h0M464.0,330.0h0M465.0,323.0h0M470.0,322.0h0M462.1,330.1h0M471.6,276.0h0M480.1,260.9h0M485.5,264.8h0M488.0,327.0h0M486.7,323.2h0M488.2,331.1h0M496.0,330.0h0M499.0,322.0h0M500.0,331.0h0M499.2,327.1h0M499.9,328.8h0M503.0,316.0h0M504.0,325.0h0M503.0,334.0h0M502.0,341.0h0M505.0,338.0h0M506.0,345.0h0M507.0,350.0h0M502.3,320.0h0M503.8,322.7h0M503.9,328.6h0M503.1,332.0h0M501.8,338.9h0M502.6,336.3h0M503.3,344.0h0M503.9,340.2h0M505.3,342.2h0M506.4,347.4h0M509.0,338.0h0M510.0,328.0h0M509.0,333.0h0M509.5,330.1h0M514.0,304.0h0M513.0,314.0h0M512.0,298.1h0M512.8,300.8h0M513.2,310.2h0M518.4,287.1h0M519.5,283.9h0M524.3,260.3h0M525.9,258.5h0M539.0,303.0h0M540.4,314.0h0M540.4,320.4h0M540.4,330.0h0M541.0,336.0h0M541.0,343.0h0M542.4,354.0h0M536.5,288.5h0M538.1,297.4h0M539.7,307.2h0M539.7,310.7h0M539.9,326.2h0M540.2,332.6h0M541.5,346.2h0M541.4,352.5h0M543.6,369.0h0M557.0,354.0h0M559.0,360.0h0M554.0,364.0h0M560.0,366.0h0M558.4,356.1h0M559.4,363.2h0M556.9,357.3h0M556.2,363.4h0M555.9,358.9h0M555.4,367.0h0M556.9,361.7h0M557.1,369.4h0M574.0,367.0h0M576.0,358.0h0M575.0,350.0h0M577.0,344.0h0M577.0,334.0h0M580.0,330.0h0M583.0,325.0h0M579.0,320.0h0M578.6,315.0h0M575.7,364.8h0M575.4,362.0h0M575.9,353.6h0M575.9,346.9h0M577.7,337.8h0M578.4,328.7h0M578.4,335.4h0M578.3,331.5h0M580.2,328.1h0M582.8,327.3h0M582.3,321.8h0M581.4,323.7h0M580.2,318.1h0M587.0,352.0h0M587.0,346.0h0M588.0,338.0h0M588.0,330.0h0M590.0,320.0h0M592.0,304.0h0M591.0,298.0h0M595.0,293.0h0M594.0,287.0h0M595.0,282.0h0M586.8,342.9h0M589.6,325.5h0M589.3,323.6h0M590.8,317.7h0M591.7,313.4h0M591.5,310.2h0M591.6,307.5h0M590.9,299.8h0M591.1,294.7h0M592.3,292.7h0M592.8,295.7h0M595.2,289.8h0M598.0,304.0h0M541.2,316.5h0M542.4,375.0h0M545.6,385.6h0M543.4,391.6h0M544.4,396.0h0M548.0,392.0h0M545.0,402.0h0M549.0,398.0h0M544.0,408.0h0M549.0,406.0h0M544.4,414.0h0M548.6,418.0h0M547.0,422.4h0M545.4,399.8h0M546.3,395.7h0M546.0,389.7h0M546.8,398.3h0M546.8,404.0h0M547.2,400.4h0M544.5,404.4h0M545.4,406.4h0M545.6,409.7h0M547.2,411.0h0M548.3,402.8h0M547.7,408.0h0M546.4,417.3h0M547.0,414.6h0M547.5,419.4h0M552.4,381.0h0M554.0,387.0h0M553.0,393.0h0M551.0,400.0h0M553.8,384.0h0M552.7,395.3h0M555.0,373.0h0M557.0,377.0h0M560.0,369.0h0M562.0,376.0h0M565.0,380.0h0M562.0,386.0h0M568.0,385.0h0M569.0,392.0h0M570.0,398.0h0M570.0,403.0h0M570.0,408.0h0M559.2,358.2h0M560.2,372.0h0M561.1,374.4h0M561.0,379.3h0M563.8,374.5h0M564.3,377.9h0M564.5,383.0h0M563.1,388.4h0M563.5,384.6h0M565.7,385.5h0M566.7,381.0h0M568.5,387.2h0M569.1,395.0h0M571.0,372.0h0M572.0,357.0h0M572.4,369.6h0M572.0,367.0h0M572.0,364.0h0M572.1,361.9h0M572.8,355.0h0M573.9,359.8h0M574.7,355.4h0M576.7,355.5h0M586.0,340.0h0M589.0,340.0h0M586.5,350.1h0M588.1,344.3h0M589.3,333.6h0M589.6,328.5h0M579.3,322.2h0M598.0,309.0h0M598.8,306.9h0M603.0,287.0h0M603.0,298.0h0M606.0,304.0h0M608.0,310.0h0M609.0,318.0h0M602.4,293.2h0M606.0,300.6h0M606.5,307.3h0M610.2,312.4h0M608.8,314.4h0M611.0,302.0h0M613.0,279.0h0M614.4,265.0h0M615.0,270.0h0M616.4,276.0h0M618.0,281.0h0M613.2,273.1h0M614.6,267.7h0M614.9,272.3h0M613.0,285.0h0M618.0,285.0h0M619.0,296.0h0M622.0,304.0h0M623.0,314.0h0M613.1,282.7h0M614.7,287.2h0M614.8,285.2h0M616.8,287.2h0M618.2,291.1h0M621.1,299.0h0M621.5,301.4h0M622.1,308.0h0M622.9,310.1h0M627.0,298.0h0M629.0,306.0h0M627.3,301.0h0M632.0,292.0h0M634.0,298.0h0M637.0,306.0h0M639.0,311.0h0M632.9,293.8h0M633.8,295.6h0M634.8,301.0h0M638.1,307.6h0M639.4,276.0h0M639.0,253.0h0M640.0,259.0h0M640.0,254.5h0M641.0,247.0h0M641.0,236.0h0M643.0,230.0h0M646.0,225.0h0M649.0,231.0h0M648.0,240.0h0M641.2,242.3h0M641.3,232.9h0M644.9,227.6h0M647.7,228.4h0M648.5,233.7h0M648.3,235.7h0M651.0,220.0h0M654.0,225.0h0M652.5,222.3h0M656.0,213.0h0M661.0,217.0h0M665.0,215.0h0M664.0,224.0h0M662.0,236.0h0M663.0,241.0h0M657.4,215.6h0M658.2,211.2h0M660.6,215.0h0M660.7,219.3h0M662.8,218.7h0M662.1,212.8h0M663.3,215.9h0M665.2,218.0h0M664.3,220.9h0M663.3,227.4h0M663.1,231.8h0M662.6,238.2h0M668.0,236.0h0M669.0,246.0h0M670.0,256.0h0M667.5,241.5h0M668.4,248.4h0M669.3,253.6h0M673.0,242.0h0M677.0,235.0h0M678.0,245.0h0M672.1,239.6h0M674.0,239.1h0M675.8,238.3h0M677.3,239.8h0M682.6,235.0h0M683.0,242.0h0M682.0,250.0h0M680.0,258.0h0M684.0,263.0h0M687.0,270.0h0M690.0,276.0h0M690.0,283.0h0M690.4,291.4h0M682.1,248.1h0M681.5,252.9h0M681.4,255.5h0M680.2,260.4h0M681.6,261.6h0M682.5,260.0h0M684.3,265.3h0M685.2,267.3h0M688.6,270.8h0M688.4,272.7h0M690.5,285.8h0M678.6,274.6h0M693.0,254.0h0M692.0,263.0h0M695.0,270.0h0M697.0,278.0h0M697.0,290.0h0M692.9,257.2h0M692.9,259.2h0M692.8,265.6h0M693.7,263.9h0M694.2,267.7h0M696.4,273.8h0M696.8,276.0h0M696.7,281.7h0M696.9,286.6h0M699.0,264.0h0M700.0,258.0h0M701.0,252.0h0M703.0,246.0h0M705.0,241.0h0M705.0,232.0h0M708.0,219.0h0M711.0,229.0h0M713.0,220.0h0M714.0,212.0h0M717.0,218.0h0M699.2,262.1h0M701.0,254.8h0M700.3,250.0h0M702.1,247.7h0M703.9,244.2h0M704.9,235.7h0M705.8,227.9h0M707.1,223.2h0M706.6,221.1h0M709.4,224.6h0M710.9,226.6h0M711.7,224.0h0M713.1,222.0h0M714.9,218.3h0M715.0,214.8h0M724.0,217.0h0M727.0,214.0h0M728.0,222.0h0M729.0,230.0h0M730.0,239.0h0M731.0,248.0h0M732.0,257.0h0M735.0,252.0h0M737.0,242.0h0M739.0,250.0h0M741.0,260.0h0M742.0,268.0h0M742.0,274.0h0M724.4,219.0h0M725.1,215.5h0M726.1,217.3h0M727.6,220.2h0M729.7,226.3h0M729.7,232.8h0M729.4,235.9h0M730.2,242.4h0M729.4,245.0h0M731.4,249.9h0M733.0,255.2h0M735.4,250.1h0M735.9,246.3h0M737.6,245.2h0M737.8,247.7h0M739.9,253.7h0M740.5,256.5h0M741.2,264.0h0M746.0,262.0h0M747.0,270.0h0M749.0,278.0h0M751.0,286.0h0M752.0,296.0h0M754.0,290.0h0M757.0,276.0h0M758.0,285.0h0M759.0,296.0h0M762.0,290.0h0M764.0,278.0h0M767.0,275.0h0M769.0,280.0h0M746.5,265.6h0M748.0,273.2h0M748.6,275.2h0M749.1,280.5h0M749.4,285.1h0M751.2,290.8h0M751.4,292.8h0M754.3,293.4h0M755.1,288.5h0M754.5,285.0h0M755.2,282.5h0M756.3,280.2h0M758.3,288.3h0M758.5,291.3h0M759.9,293.2h0M760.5,291.5h0M762.3,285.9h0M763.4,283.2h0M763.7,281.1h0M764.2,275.7h0M766.2,279.1h0M766.8,272.1h0M656.4,161.0h0M657.0,165.0h0M656.6,168.0h0M656.4,172.0h0M658.4,184.0h0M658.6,189.0h0M659.4,195.0h0M659.4,200.0h0M665.6,198.4h0M666.0,205.0h0M665.6,210.0h0M655.6,207.0h0M657.8,208.3h0M658.8,217.0h0M658.9,213.9h0M650.0,227.0h0M643.0,232.0h0M641.0,238.0h0M649.0,243.0h0M647.7,226.1h0M643.9,236.6h0M644.9,233.7h0M646.2,231.5h0M646.2,238.2h0M645.4,239.9h0M643.1,234.8h0M645.6,243.0h0M647.4,244.8h0M646.5,248.5h0M644.4,248.3h0M643.5,250.8h0M642.2,245.2h0M642.2,249.4h0M640.3,251.4h0M639.5,256.6h0M668.0,232.0h0M669.1,239.6h0M677.0,233.0h0M676.0,244.0h0M683.0,240.0h0M679.0,256.0h0M682.5,237.4h0M682.1,244.5h0M680.5,251.2h0M679.1,252.5h0M723.4,187.6h0M721.0,189.6h0M723.1,189.8h0M723.3,184.1h0M721.1,193.1h0M706.0,193.0h0M713.4,195.0h0M718.0,198.0h0M722.0,196.0h0M715.6,197.8h0M715.7,200.0h0M717.2,196.2h0M719.4,195.7h0M706.6,201.0h0M714.0,202.0h0M720.0,204.0h0M715.7,204.0h0M715.8,202.2h0M717.7,202.3h0M707.0,209.0h0M716.0,210.0h0M709.0,214.0h0M706.0,218.0h0M709.2,211.9h0M708.9,216.0h0M707.1,215.4h0M711.0,222.0h0M716.0,222.0h0M713.0,215.5h0M712.1,217.6h0M713.7,226.3h0M715.0,224.7h0M713.2,229.1h0M710.5,231.9h0M709.0,226.8h0M708.4,229.2h0M707.1,231.7h0M706.4,234.6h0M724.5,213.1h0M704.0,251.0h0M704.1,249.0h0M703.7,256.2h0M727.0,230.0h0M726.9,232.8h0M731.6,243.8h0M737.1,251.9h0M736.0,255.0h0M736.6,258.2h0M736.0,260.9h0M737.7,259.9h0M742.0,272.0h0M741.6,269.8h0M746.0,268.0h0M750.6,288.0h0M753.0,286.0h0M757.5,277.8h0M769.0,282.0h0M772.0,271.0h0M773.0,278.0h0M765.2,274.0h0M767.6,277.4h0M769.8,278.2h0M770.6,275.6h0M772.2,273.1h0M773.5,275.3h0M776.0,294.0h0M777.0,278.0h0M780.0,281.0h0M782.0,273.0h0M777.7,274.7h0M778.0,280.5h0M779.7,284.5h0M779.7,278.7h0M781.3,275.7h0M784.0,289.0h0M786.0,280.0h0M789.0,277.0h0M791.0,286.0h0M786.6,277.5h0M788.1,279.5h0M789.0,274.4h0M789.9,280.4h0M790.5,282.4h0M794.0,274.0h0M796.0,280.0h0M799.0,273.0h0M800.0,263.0h0M802.0,255.0h0M803.0,249.0h0M808.0,248.0h0M807.0,254.0h0M809.0,264.0h0M812.0,266.0h0M814.0,272.0h0M817.0,273.0h0M817.0,280.0h0M817.0,287.0h0M796.2,277.7h0M797.6,276.0h0M799.4,270.7h0M801.2,260.8h0M801.4,257.1h0M803.0,252.6h0M803.9,250.9h0M803.9,245.3h0M805.1,246.9h0M806.3,249.3h0M806.4,244.6h0M808.1,256.1h0M807.6,257.9h0M807.6,260.9h0M810.6,268.0h0M811.3,261.4h0M812.1,269.2h0M814.7,275.1h0M820.0,281.0h0M822.0,289.0h0M820.9,284.6h0M821.6,286.8h0M825.0,283.0h0M826.0,304.0h0M827.0,309.0h0M829.0,314.0h0M827.4,307.1h0M827.2,311.6h0M831.0,306.0h0M834.0,301.0h0M833.0,311.0h0M832.1,304.4h0M833.9,305.3h0M833.3,307.4h0M836.0,289.0h0M839.0,288.0h0M840.0,295.0h0M838.0,298.0h0M836.6,285.5h0M838.7,284.7h0M839.0,293.3h0M841.4,321.4h0M843.0,307.0h0M844.0,312.0h0M847.0,309.0h0M849.0,316.0h0M849.0,322.4h0M847.0,306.8h0M847.4,311.9h0M847.4,313.9h0M851.0,316.0h0M852.0,299.0h0M854.0,303.0h0M856.0,309.0h0M859.0,300.0h0M860.0,307.0h0M864.0,309.0h0M867.0,304.0h0M869.0,297.0h0M872.0,301.0h0M875.0,295.0h0M878.0,301.0h0M882.0,295.0h0M885.0,301.0h0M887.0,309.0h0M886.0,314.0h0M888.0,318.0h0M888.0,324.0h0M887.6,329.0h0M853.3,300.6h0M854.7,306.2h0M857.1,306.7h0M857.8,305.0h0M858.8,303.2h0M860.5,304.8h0M861.0,310.0h0M861.0,312.2h0M863.0,304.4h0M866.4,306.1h0M868.0,302.5h0M868.5,299.8h0M870.2,298.4h0M869.9,303.0h0M872.2,295.6h0M874.0,298.3h0M876.0,297.6h0M879.3,296.4h0M879.6,293.3h0M882.5,298.9h0M883.5,296.9h0M884.5,298.8h0M885.9,303.7h0M886.2,311.2h0M887.3,315.3h0M887.6,338.0h0M893.0,305.0h0M892.0,309.0h0M895.0,318.0h0M898.0,320.0h0M902.0,317.0h0M906.0,313.0h0M908.0,307.0h0M912.0,301.0h0M915.0,308.0h0M918.0,303.0h0M919.0,291.0h0M921.0,296.0h0M923.0,299.0h0M924.0,287.0h0M927.0,281.0h0M928.0,278.0h0M929.0,273.0h0M929.0,267.0h0M930.0,262.0h0M893.6,313.6h0M895.3,314.7h0M895.1,321.4h0M899.7,321.1h0M899.0,316.6h0M899.5,314.0h0M901.8,320.6h0M902.8,312.2h0M902.5,315.0h0M904.4,316.3h0M905.1,309.1h0M905.8,310.8h0M907.0,309.3h0M909.2,310.7h0M909.2,305.3h0M911.4,307.3h0M910.2,301.6h0M911.2,304.6h0M912.7,303.2h0M916.1,305.9h0M918.1,297.4h0M919.0,295.3h0M921.4,298.1h0M921.7,293.5h0M923.7,295.7h0M924.0,292.0h0M926.2,284.6h0M928.3,276.2h0M929.7,269.2h0M929.1,279.9h0M927.7,283.4h0M927.5,286.4h0M922.3,288.4h0M920.9,286.0h0M920.5,289.5h0M919.5,287.6h0M917.2,295.6h0M915.6,294.3h0M915.1,299.2h0M913.3,299.8h0M365.0,299.9h0M363.6,302.2h0M366.0,306.3h0M368.6,307.3h0M362.9,317.4h0M364.7,317.5h0M356.3,303.9h0M356.4,301.3h0M357.5,318.0h0M366.2,308.5h0M362.8,299.9h0M356.8,306.5h0M353.0,298.3h0M367.6,311.2h0M358.3,311.1h0M356.2,309.0h0M352.2,307.9h0M355.5,298.7h0M361.3,312.6h0M360.6,319.9h0M362.2,303.4h0M368.9,319.5h0M342.7,342.8h0M348.4,332.2h0M339.6,344.2h0M344.7,329.6h0M340.2,337.9h0M349.5,345.8h0M425.4,266.4h0M450.9,317.9h0M420.5,279.5h0M428.5,287.0h0M444.4,307.5h0M427.0,268.1h0M434.9,311.3h0M434.1,313.4h0M443.8,313.5h0M426.6,288.4h0M449.5,292.5h0M419.1,274.7h0M444.4,320.6h0M451.1,315.9h0M424.8,259.2h0M443.3,282.7h0M421.0,277.2h0M443.1,308.9h0M424.4,255.6h0M443.1,299.8h0M447.5,313.0h0M440.8,313.7h0M467.5,311.9h0M467.4,315.6h0M464.8,318.6h0M495.4,317.7h0M491.8,318.8h0M499.0,318.1h0M494.5,328.9h0M497.5,328.4h0M492.2,326.3h0M491.8,321.8h0M493.5,316.9h0M446.7,305.6h0M437.1,317.2h0M445.3,325.9h0M453.3,296.6h0M434.4,297.0h0M431.3,303.8h0M450.9,303.6h0M425.5,251.0h0M430.5,290.3h0M431.7,294.8h0M430.8,264.6h0M432.6,300.1h0M450.4,297.9h0M443.3,322.5h0M429.5,305.5h0M428.3,264.9h0M432.2,292.7h0M427.3,280.5h0M425.5,272.5h0M438.8,299.9h0M426.8,278.4h0M507.7,323.8h0M494.5,331.7h0M506.6,332.4h0M501.5,314.0h0M506.8,335.5h0M505.1,330.7h0M507.0,337.9h0M486.5,325.2h0M494.9,334.1h0M508.4,325.7h0M506.9,328.1h0M493.4,312.4h0M501.1,326.3h0M497.8,316.0h0M489.1,333.4h0M512.8,306.1h0M523.6,287.6h0M516.6,288.9h0M522.9,285.7h0M519.6,289.4h0M515.5,307.0h0M576.7,326.4h0M580.9,336.6h0M575.3,338.2h0M577.9,349.0h0M576.3,322.0h0M576.0,331.6h0M577.8,339.9h0M580.5,338.9h0M551.1,389.9h0M550.6,395.9h0M552.7,398.4h0M548.3,388.6h0M544.3,412.0h0M549.8,412.7h0M566.5,383.3h0M558.2,365.8h0M559.7,384.8h0M560.9,360.3h0M568.7,382.8h0M568.1,402.1h0M560.1,353.0h0M561.1,382.3h0M563.2,371.7h0M557.1,373.9h0M571.2,405.9h0M575.8,360.2h0M577.3,351.6h0M579.5,341.7h0M575.2,343.2h0M571.6,358.8h0M618.0,278.1h0M619.9,285.8h0M601.1,298.1h0M607.2,298.7h0M613.4,316.0h0M617.0,296.4h0M624.0,290.5h0M615.1,300.8h0M605.6,291.2h0M599.1,286.7h0M611.7,287.6h0M603.1,290.4h0M620.0,297.5h0M604.1,303.3h0M635.4,303.2h0M610.1,290.4h0M637.6,304.0h0M605.9,296.2h0M614.0,312.7h0M597.3,298.9h0M640.9,309.8h0M615.7,305.5h0M608.2,300.6h0M634.6,307.6h0M599.9,290.8h0M632.5,309.0h0M602.4,305.3h0M619.1,293.1h0M612.2,306.9h0M632.2,302.4h0M631.3,299.5h0M620.8,306.7h0M623.7,297.0h0M602.7,301.4h0M616.3,283.2h0M636.2,298.6h0M614.0,276.5h0M630.9,297.0h0M610.1,284.9h0M658.7,227.6h0M651.8,231.9h0M643.2,242.1h0M652.5,233.8h0M654.9,217.8h0M652.1,226.7h0M643.0,238.2h0M648.3,224.2h0M661.5,223.3h0M659.2,231.3h0M658.3,219.8h0M666.3,225.8h0M646.7,234.6h0M654.5,229.6h0M655.9,225.3h0M659.6,236.8h0M650.3,237.5h0M700.3,268.5h0M692.4,267.6h0M686.3,284.1h0M674.4,246.7h0M699.0,274.7h0M698.9,283.4h0M698.9,280.8h0M690.8,255.7h0M681.4,272.3h0M698.3,272.7h0M672.6,260.3h0M701.3,263.1h0M675.2,253.0h0M694.7,289.9h0M690.3,280.0h0M682.2,266.1h0M683.4,270.6h0M688.3,277.5h0M689.0,288.8h0M675.9,254.9h0M692.9,269.3h0M691.8,282.5h0M679.9,243.1h0M673.0,255.8h0M679.6,232.4h0M686.4,261.7h0M702.6,252.9h0M709.6,220.5h0M702.7,259.9h0M718.4,220.7h0M705.7,245.1h0M729.7,251.3h0M723.1,220.5h0M736.4,265.0h0M737.0,267.5h0M726.8,226.7h0M739.8,267.6h0M729.2,223.3h0M733.8,264.3h0M742.4,262.4h0M732.6,241.9h0M734.1,245.9h0M724.9,224.9h0M730.9,260.0h0M739.0,257.7h0M749.9,263.9h0M753.4,274.0h0M744.9,264.7h0M761.8,284.1h0M753.7,269.9h0M759.3,275.5h0M748.9,293.6h0M751.5,277.5h0M740.5,261.9h0M653.3,240.2h0M660.8,226.0h0M645.3,251.4h0M651.4,240.0h0M658.4,225.5h0M646.2,246.6h0M655.4,235.6h0M639.9,245.5h0M644.2,224.5h0M648.9,247.8h0M662.4,208.9h0M661.2,210.4h0M661.1,204.0h0M715.6,194.9h0M717.6,216.1h0M711.2,196.5h0M707.5,196.3h0M706.5,203.2h0M712.0,199.1h0M718.4,206.5h0M710.2,205.6h0M722.7,200.1h0M713.6,197.3h0M724.0,193.7h0M671.5,231.5h0M669.0,243.9h0M666.3,231.0h0M673.7,233.4h0M674.3,236.9h0M676.6,249.8h0M676.3,246.4h0M666.4,234.7h0M734.8,238.8h0M729.0,218.7h0M731.8,251.8h0M731.6,231.8h0M331.5,366.9h0M329.3,365.3h0M333.0,359.8h0M327.2,364.9h0M327.9,357.7h0M285.2,422.4h0M290.0,418.0h0M285.3,418.4h0M291.4,406.5h0M290.4,412.9h0M282.4,411.1h0M283.1,408.4h0M310.4,415.6h0M309.2,429.9h0M299.1,433.2h0M315.0,422.7h0M302.5,419.2h0M762.9,273.2h0M775.9,280.1h0M760.8,281.1h0M783.7,271.4h0M781.8,288.5h0M777.1,283.3h0M773.7,279.8h0M783.3,275.8h0M772.7,282.1h0M784.3,287.2h0M766.2,281.9h0M785.4,275.1h0M791.4,270.0h0M780.2,273.7h0M768.6,270.1h0M773.1,269.5h0M758.4,280.3h0M772.0,285.6h0M788.0,288.5h0M769.0,272.4h0M779.3,270.6h0M787.1,271.8h0M789.2,270.9h0M762.0,270.5h0M766.6,270.0h0M765.7,284.1h0M774.2,283.9h0M783.8,282.0h0M783.1,269.2h0M759.6,283.2h0M764.9,268.9h0M788.9,286.7h0M770.8,268.7h0M811.7,275.0h0M823.1,282.0h0M817.1,269.9h0M825.3,287.2h0M818.3,283.2h0M822.3,275.6h0M823.7,277.1h0M813.8,263.8h0M819.2,286.1h0M818.6,274.6h0M810.8,271.9h0M817.0,267.5h0M858.5,309.6h0M884.5,307.1h0M882.4,306.4h0M881.5,304.5h0M861.8,299.9h0M880.5,298.7h0M877.8,304.0h0M850.8,302.4h0M883.8,305.1h0M866.6,296.3h0M875.9,305.2h0M862.8,297.4h0M876.3,301.6h0M852.0,305.7h0M865.6,300.2h0M864.8,297.8h0M856.3,297.7h0M871.8,305.5h0M860.7,301.9h0M871.7,303.6h0M870.4,294.3h0M911.7,311.4h0M913.2,307.7h0M909.7,308.1h0M907.2,304.9h0M536.8,257.5h0M535.5,253.1h0M531.4,251.0h0M533.2,252.7h0M526.0,244.0h0M529.0,251.3h0M529.8,235.7h0" stroke="#000" stroke-width="5.7" stroke-linecap="round" fill="none"/>
<path d="M121.0,465.6 L121.5,465.2 L122.0,464.5 L122.5,463.8 L123.0,463.1 L123.5,462.4 L124.0,461.9 L124.5,461.3 L125.0,460.7 L125.5,460.2 L126.0,459.8 L126.5,459.8 L127.0,460.0 L127.5,460.1 L128.0,460.3 L128.5,460.5 L129.0,460.7 L129.5,460.8 L130.0,461.2 L130.5,461.9 L131.0,462.8 L131.5,463.7 L132.0,464.6 L132.5,465.5 L133.0,466.4 L133.5,467.3 L134.0,468.2 L134.5,469.1 L135.0,469.8 L135.5,470.3 L136.0,470.6 L136.5,470.9 L137.0,471.2 L137.5,471.5 L138.0,471.8 L138.5,472.1 L139.0,472.4 L139.5,472.7 L140.0,473.1 L140.5,473.7 L141.0,474.4 L141.5,475.1 L142.0,475.8 L142.5,476.5 L143.0,477.2 L143.5,477.9 L144.0,478.6 L144.5,479.3 L145.0,480.0 L145.5,480.6 L146.0,481.3 L146.5,481.9 L147.0,482.6 L147.5,483.2 L148.0,483.8 L148.5,484.5 L149.0,485.1 L149.5,485.8 L150.0,486.0 L150.5,486.0 L151.0,485.5 L151.5,485.1 L152.0,484.7 L152.5,484.3 L153.0,483.8 L153.5,483.4 L154.0,483.0 L154.5,482.7 L155.0,482.3 L155.5,482.0 L156.0,481.7 L156.5,481.3 L157.0,481.0 L157.5,480.7 L158.0,480.3 L158.5,480.0 L159.0,479.7 L159.5,479.3 L160.0,479.0 L160.5,478.6 L161.0,478.2 L161.5,477.9 L162.0,477.5 L162.5,477.1 L163.0,476.8 L163.5,476.4 L164.0,475.9 L164.5,475.3 L165.0,474.6 L165.5,473.9 L166.0,473.2 L166.5,472.5 L167.0,471.8 L167.5,471.1 L168.0,470.4 L168.5,469.7 L169.0,468.9 L169.5,468.1 L170.0,467.2 L170.5,466.2 L171.0,465.3 L171.5,464.4 L172.0,463.5 L172.5,462.6 L173.0,461.7 L173.5,460.8 L174.0,459.8 L174.5,458.9 L175.0,458.5 L175.5,458.5 L176.0,459.0 L176.5,459.5 L177.0,459.3 L177.5,458.3 L178.0,456.7 L178.5,455.0 L179.0,453.3 L179.5,451.7 L180.0,449.8 L180.5,447.9 L181.0,445.8 L181.5,443.6 L182.0,441.5 L182.5,439.4 L183.0,437.2 L183.5,435.1 L184.0,434.0 L184.5,434.0 L185.0,435.0 L185.5,436.0 L186.0,437.0 L186.5,438.0 L187.0,439.0 L187.5,440.0 L188.0,440.5 L188.5,440.5 L189.0,439.9 L189.5,439.4 L190.0,438.8 L190.5,438.3 L191.0,437.8 L191.5,437.2 L192.0,436.7 L192.5,436.1 L193.0,435.9 L193.5,435.8 L194.0,436.1 L194.5,436.3 L195.0,436.6 L195.5,436.8 L196.0,437.0 L196.5,437.3 L197.0,437.5 L197.5,437.8 L198.0,438.1 L198.5,438.7 L199.0,439.3 L199.5,440.0 L200.0,440.7 L200.5,441.3 L201.0,442.0 L201.5,442.7 L202.0,443.3 L202.5,444.0 L203.0,444.7 L203.5,445.3 L204.0,446.0 L204.5,446.5 L205.0,447.1 L205.5,447.6 L206.0,448.1 L206.5,448.7 L207.0,449.2 L207.5,449.7 L208.0,450.3 L208.5,450.8 L209.0,451.3 L209.5,451.9 L210.0,452.4 L210.5,452.9 L211.0,453.4 L211.5,453.9 L212.0,454.4 L212.5,454.9 L213.0,455.4 L213.5,455.9 L214.0,456.4 L214.5,456.9 L215.0,457.4 L215.5,457.9 L216.0,458.4 L216.5,458.9 L217.0,459.4 L217.5,459.9 L218.0,460.1 L218.5,460.0 L219.0,459.7 L219.5,459.3 L220.0,458.9 L220.5,458.6 L221.0,458.2 L221.5,457.8 L222.0,457.5 L222.5,457.1 L223.0,456.7 L223.5,456.4 L224.0,456.0 L224.5,455.7 L225.0,455.3 L225.5,455.0 L226.0,454.7 L226.5,454.3 L227.0,454.0 L227.5,453.7 L228.0,453.3 L228.5,453.0 L229.0,452.7 L229.5,452.3 L230.0,451.9 L230.5,451.3 L231.0,450.6 L231.5,449.9 L232.0,449.2 L232.5,448.6 L233.0,447.9 L233.5,447.2 L234.0,446.5 L234.5,445.8 L235.0,445.1 L235.5,444.4 L236.0,443.8 L236.5,443.1 L237.0,442.4 L237.5,441.7 L238.0,440.9 L238.5,440.1 L239.0,439.2 L239.5,438.3 L240.0,437.4 L240.5,436.5 L241.0,435.6 L241.5,434.7 L242.0,433.8 L242.5,432.9 L243.0,432.6 L243.5,432.9 L244.0,433.9 L244.5,434.1 L245.0,433.5 L245.5,432.1 L246.0,430.5 L246.5,428.9 L247.0,427.2 L247.5,425.6 L248.0,423.8 L248.5,421.6 L249.0,419.3 L249.5,416.9 L250.0,414.6 L250.5,412.2 L251.0,409.8 L251.5,408.3 L252.0,407.9 L252.5,408.6 L253.0,409.5 L253.5,410.5 L254.0,411.4 L254.5,412.3 L255.0,413.2 L255.5,414.1 L256.0,414.5 L256.5,414.4 L257.0,413.8 L257.5,413.2 L258.0,412.6 L258.5,412.0 L259.0,411.4 L259.5,410.8 L260.0,410.2 L260.5,409.6 L261.0,409.2 L261.5,409.1 L262.0,409.2 L262.5,409.4 L263.0,409.5 L263.5,409.6 L264.0,409.8 L264.5,409.9 L265.0,410.3 L265.5,410.9 L266.0,411.8 L266.5,412.7 L267.0,413.6 L267.5,414.5 L268.0,415.4 L268.5,416.3 L269.0,417.2 L269.5,418.1 L270.0,418.8 L270.5,419.4 L271.0,419.8 L271.5,420.2 L272.0,420.7 L272.5,421.1 L273.0,421.5 L273.5,421.9 L274.0,422.3 L274.5,422.8 L275.0,423.2 L275.5,423.6 L276.0,424.0 L276.5,424.5 L277.0,425.0 L277.5,425.5 L278.0,426.0 L278.5,426.5 L279.0,427.0 L279.5,427.5 L280.0,428.0 L280.5,428.5 L281.0,429.1 L281.5,429.6 L282.0,430.1 L282.5,430.7 L283.0,431.2 L283.5,431.7 L284.0,432.3 L284.5,432.8 L285.0,433.3 L285.5,433.9 L286.0,434.1 L286.5,434.1 L287.0,433.8 L287.5,433.5 L288.0,433.3 L288.5,433.0 L289.0,432.7 L289.5,432.4 L290.0,432.1 L290.5,431.8 L291.0,431.6 L291.5,431.3 L292.0,431.0 L292.5,430.6 L293.0,430.2 L293.5,429.8 L294.0,429.5 L294.5,429.1 L295.0,428.7 L295.5,428.3 L296.0,427.9 L296.5,427.5 L297.0,427.2 L297.5,426.8 L298.0,426.3 L298.5,425.6 L299.0,424.8 L299.5,424.0 L300.0,423.2 L300.5,422.4 L301.0,421.6 L301.5,420.8 L302.0,419.9 L302.5,419.0 L303.0,418.0 L303.5,417.0 L304.0,416.0 L304.5,415.0 L305.0,414.0 L305.5,413.0 L306.0,412.0 L306.5,411.0 L307.0,410.0 L307.5,409.0 L308.0,408.1 L308.5,407.2 L309.0,406.5 L309.5,405.8 L310.0,405.0 L310.5,404.2 L311.0,403.5 L311.5,402.8 L312.0,402.3 L312.5,402.2 L313.0,402.4 L313.5,402.6 L314.0,402.7 L314.5,401.8 L315.0,400.0 L315.5,397.5 L316.0,395.0 L316.5,392.5 L317.0,389.7 L317.5,386.7 L318.0,383.3 L318.5,380.0 L319.0,376.7 L319.5,373.3 L320.0,371.4 L320.5,371.0 L321.0,372.0 L321.5,373.0 L322.0,374.0 L322.5,375.0 L323.0,375.2 L323.5,374.8 L324.0,373.5 L324.5,372.2 L325.0,371.0 L325.5,369.8 L326.0,368.5 L326.5,367.2 L327.0,366.3 L327.5,365.6 L328.0,365.2 L328.5,364.9 L329.0,364.5 L329.5,364.1 L330.0,363.8 L330.5,363.4 L331.0,363.2 L331.5,363.1 L332.0,363.2 L332.5,363.3 L333.0,363.4 L333.5,363.5 L334.0,363.6 L334.5,363.7 L335.0,363.8 L335.5,363.9 L336.0,363.6 L336.5,362.8 L337.0,361.5 L337.5,360.2 L338.0,359.0 L338.5,357.8 L339.0,356.5 L339.5,355.2 L340.0,354.0 L340.5,352.9 L341.0,351.8 L341.5,350.6 L342.0,349.5 L342.5,348.4 L343.0,347.2 L343.5,346.1 L344.0,345.0 L344.5,343.8 L345.0,342.7 L345.5,341.5 L346.0,340.3 L346.5,339.2 L347.0,337.8 L347.5,336.3 L348.0,334.7 L348.5,333.0 L349.0,331.3 L349.5,329.7 L350.0,328.3 L350.5,327.3 L351.0,326.7 L351.5,326.0 L352.0,325.3 L352.5,324.7 L353.0,323.6 L353.5,322.0 L354.0,320.0 L354.5,318.0 L355.0,316.0 L355.5,314.0 L356.0,312.0 L356.5,310.0 L357.0,308.0 L357.5,306.0 L358.0,304.0 L358.5,302.0 L359.0,300.0 L359.5,298.0 L360.0,296.0 L360.5,294.0 L361.0,292.0 L361.5,290.0 L362.0,288.0 L362.5,286.0 L363.0,284.0 L363.5,282.0 L364.0,280.0 L364.5,278.0 L365.0,275.9 L365.5,273.8 L366.0,271.5 L366.5,269.2 L367.0,267.0 L367.5,264.8 L368.0,262.5 L368.5,260.2 L369.0,258.1 L369.5,256.0 L370.0,254.0 L370.5,252.0 L371.0,249.8 L371.5,247.5 L372.0,245.0 L372.5,242.5 L373.0,240.0 L373.5,237.5 L374.0,235.0 L374.5,232.5 L375.0,230.1 L375.5,227.8 L376.0,225.5 L376.5,223.2 L377.0,221.0 L377.5,218.8 L378.0,216.5 L378.5,214.2 L379.0,212.1 L379.5,210.0 L380.0,208.0 L380.5,206.0 L381.0,204.0 L381.5,202.0 L382.0,199.8 L382.5,197.5 L383.0,195.0 L383.5,192.5 L384.0,189.5 L384.5,186.0 L385.0,182.0 L385.5,178.2 L386.0,174.7 L386.5,171.3 L387.0,169.7 L387.5,169.7 L388.0,171.3 L388.5,173.0 L389.0,174.7 L389.5,176.3 L390.0,177.6 L390.5,178.5 L391.0,179.0 L391.5,179.5 L392.0,180.0 L392.5,180.5 L393.0,180.7 L393.5,180.7 L394.0,180.3 L394.5,180.0 L395.0,179.7 L395.5,179.4 L396.0,179.0 L396.5,178.7 L397.0,178.7 L397.5,179.0 L398.0,179.6 L398.5,180.2 L399.0,180.8 L399.5,181.4 L400.0,182.5 L400.5,184.0 L401.0,186.0 L401.5,188.0 L402.0,189.6 L402.5,190.9 L403.0,191.8 L403.5,192.6 L404.0,193.5 L404.5,194.4 L405.0,195.2 L405.5,196.1 L406.0,196.9 L406.5,197.5 L407.0,198.0 L407.5,198.5 L408.0,199.0 L408.5,199.5 L409.0,200.0 L409.5,200.5 L410.0,201.3 L410.5,202.5 L411.0,204.0 L411.5,205.5 L412.0,207.0 L412.5,208.5 L413.0,210.3 L413.5,212.5 L414.0,215.0 L414.5,217.5 L415.0,219.7 L415.5,221.7 L416.0,223.3 L416.5,225.0 L417.0,226.7 L417.5,228.3 L418.0,230.3 L418.5,232.5 L419.0,235.0 L419.5,237.5 L420.0,239.8 L420.5,242.0 L421.0,244.0 L421.5,246.0 L422.0,248.0 L422.5,249.7 L423.0,251.1 L423.5,252.3 L424.0,253.4 L424.5,254.6 L425.0,255.7 L425.5,256.9 L426.0,258.0 L426.5,259.0 L427.0,260.0 L427.5,261.0 L428.0,262.0 L428.5,263.0 L429.0,264.0 L429.5,265.0 L430.0,266.0 L430.5,267.0 L431.0,268.0 L431.5,269.0 L432.0,269.9 L432.5,270.9 L433.0,271.8 L433.5,272.8 L434.0,273.8 L434.5,274.7 L435.0,275.7 L435.5,276.6 L436.0,277.2 L436.5,277.2 L437.0,276.9 L437.5,276.5 L438.0,276.2 L438.5,275.8 L439.0,275.4 L439.5,275.1 L440.0,274.7 L440.5,274.4 L441.0,274.0 L441.5,273.8 L442.0,273.5 L442.5,273.2 L443.0,273.0 L443.5,272.8 L444.0,272.5 L444.5,272.2 L445.0,272.4 L445.5,273.0 L446.0,274.0 L446.5,275.0 L447.0,276.0 L447.5,277.0 L448.0,278.0 L448.5,279.0 L449.0,278.9 L449.5,277.6 L450.0,275.3 L450.5,272.9 L451.0,270.6 L451.5,268.2 L452.0,266.0 L452.5,264.2 L453.0,262.8 L453.5,261.9 L454.0,260.9 L454.5,260.0 L455.0,259.8 L455.5,260.5 L456.0,262.0 L456.5,263.5 L457.0,265.0 L457.5,266.5 L458.0,267.8 L458.5,268.8 L459.0,269.7 L459.5,270.5 L460.0,271.3 L460.5,272.2 L461.0,272.7 L461.5,272.8 L462.0,272.7 L462.5,272.5 L463.0,272.3 L463.5,272.1 L464.0,272.0 L464.5,271.8 L465.0,272.0 L465.5,272.6 L466.0,273.6 L466.5,274.6 L467.0,275.6 L467.5,276.5 L468.0,277.5 L468.5,278.5 L469.0,279.5 L469.5,280.5 L470.0,281.5 L470.5,282.5 L471.0,283.5 L471.5,284.5 L472.0,285.5 L472.5,286.5 L473.0,287.5 L473.5,288.5 L474.0,289.4 L474.5,290.2 L475.0,290.9 L475.5,291.6 L476.0,292.3 L476.5,293.0 L477.0,293.7 L477.5,294.4 L478.0,295.1 L478.5,295.8 L479.0,296.6 L479.5,297.5 L480.0,298.5 L480.5,299.5 L481.0,300.5 L481.5,301.5 L482.0,302.5 L482.5,303.5 L483.0,304.5 L483.5,305.5 L484.0,306.5 L484.5,307.4 L485.0,308.3 L485.5,309.2 L486.0,310.1 L486.5,311.1 L487.0,312.0 L487.5,312.9 L488.0,313.8 L488.5,314.7 L489.0,315.3 L489.5,315.7 L490.0,315.9 L490.5,316.0 L491.0,316.2 L491.5,316.3 L492.0,316.4 L492.5,316.6 L493.0,316.7 L493.5,316.9 L494.0,316.9 L494.5,316.9 L495.0,316.8 L495.5,316.6 L496.0,316.5 L496.5,316.4 L497.0,316.2 L497.5,316.1 L498.0,316.1 L498.5,316.2 L499.0,316.4 L499.5,316.6 L500.0,316.8 L500.5,317.0 L501.0,317.2 L501.5,317.4 L502.0,317.4 L502.5,317.2 L503.0,316.7 L503.5,316.2 L504.0,315.8 L504.5,315.3 L505.0,314.9 L505.5,314.4 L506.0,314.0 L506.5,313.6 L507.0,313.2 L507.5,312.9 L508.0,312.5 L508.5,312.1 L509.0,311.8 L509.5,311.4 L510.0,310.9 L510.5,310.3 L511.0,309.6 L511.5,308.9 L512.0,308.2 L512.5,307.5 L513.0,306.8 L513.5,306.6 L514.0,307.0 L514.5,308.0 L515.0,309.1 L515.5,310.2 L516.0,311.4 L516.5,312.5 L517.0,312.6 L517.5,311.7 L518.0,309.7 L518.5,307.8 L519.0,305.9 L519.5,303.9 L520.0,302.1 L520.5,300.3 L521.0,298.5 L521.5,296.8 L522.0,295.1 L522.5,294.3 L523.0,294.6 L523.5,296.0 L524.0,297.7 L524.5,299.3 L525.0,300.9 L525.5,302.2 L526.0,303.5 L526.5,304.7 L527.0,305.9 L527.5,307.2 L528.0,308.0 L528.5,308.4 L529.0,308.4 L529.5,308.4 L530.0,308.4 L530.5,308.4 L531.0,308.4 L531.5,308.4 L532.0,308.7 L532.5,309.3 L533.0,310.3 L533.5,311.2 L534.0,312.2 L534.5,313.2 L535.0,314.1 L535.5,315.1 L536.0,316.1 L536.5,317.4 L537.0,318.8 L537.5,320.1 L538.0,321.5 L538.5,322.9 L539.0,324.2 L539.5,325.6 L540.0,326.9 L540.5,328.1 L541.0,329.2 L541.5,330.4 L542.0,331.5 L542.5,332.6 L543.0,333.8 L543.5,334.9 L544.0,336.0 L544.5,337.2 L545.0,338.5 L545.5,339.8 L546.0,341.0 L546.5,342.2 L547.0,343.5 L547.5,344.8 L548.0,345.9 L548.5,347.0 L549.0,348.0 L549.5,349.0 L550.0,350.0 L550.5,351.0 L551.0,352.0 L551.5,353.0 L552.0,354.0 L552.5,355.1 L553.0,356.2 L553.5,357.3 L554.0,358.4 L554.5,359.5 L555.0,360.6 L555.5,361.7 L556.0,362.8 L556.5,363.9 L557.0,364.8 L557.5,365.5 L558.0,366.0 L558.5,366.5 L559.0,367.0 L559.5,367.5 L560.0,368.0 L560.5,368.5 L561.0,369.0 L561.5,369.5 L562.0,370.0 L562.5,370.5 L563.0,371.0 L563.5,371.5 L564.0,371.9 L564.5,371.9 L565.0,371.6 L565.5,370.9 L566.0,370.2 L566.5,369.5 L567.0,368.8 L567.5,368.1 L568.0,367.4 L568.5,366.7 L569.0,365.9 L569.5,365.0 L570.0,364.0 L570.5,363.0 L571.0,362.0 L571.5,361.0 L572.0,360.0 L572.5,359.0 L573.0,357.9 L573.5,356.6 L574.0,355.2 L574.5,353.9 L575.0,352.5 L575.5,351.1 L576.0,349.8 L576.5,348.4 L577.0,347.0 L577.5,345.5 L578.0,344.0 L578.5,342.5 L579.0,341.0 L579.5,339.5 L580.0,338.2 L580.5,337.2 L581.0,336.3 L581.5,335.5 L582.0,334.7 L582.5,334.2 L583.0,333.9 L583.5,333.9 L584.0,333.8 L584.5,333.8 L585.0,333.7 L585.5,333.7 L586.0,332.7 L586.5,330.7 L587.0,327.8 L587.5,324.9 L588.0,321.7 L588.5,318.3 L589.0,314.5 L589.5,310.4 L590.0,305.7 L590.5,302.2 L591.0,300.5 L591.5,300.8 L592.0,301.4 L592.5,302.1 L593.0,302.7 L593.5,303.4 L594.0,303.5 L594.5,303.0 L595.0,302.0 L595.5,301.0 L596.0,300.0 L596.5,299.0 L597.0,298.0 L597.5,297.0 L598.0,296.1 L598.5,295.4 L599.0,294.8 L599.5,294.1 L600.0,293.5 L600.5,292.9 L601.0,292.2 L601.5,291.6 L602.0,291.3 L602.5,291.4 L603.0,291.8 L603.5,292.2 L604.0,292.6 L604.5,293.0 L605.0,293.4 L605.5,293.8 L606.0,294.2 L606.5,294.6 L607.0,294.7 L607.5,294.5 L608.0,294.0 L608.5,293.5 L609.0,293.0 L609.5,292.5 L610.0,292.0 L610.5,291.5 L611.0,291.3 L611.5,291.4 L612.0,291.8 L612.5,292.1 L613.0,292.5 L613.5,292.9 L614.0,293.2 L614.5,293.6 L615.0,293.8 L615.5,293.8 L616.0,293.5 L616.5,293.2 L617.0,293.0 L617.5,292.8 L618.0,292.5 L618.5,292.2 L619.0,292.2 L619.5,292.3 L620.0,292.6 L620.5,292.9 L621.0,293.2 L621.5,293.5 L622.0,293.8 L622.5,294.1 L623.0,294.4 L623.5,294.7 L624.0,294.7 L624.5,294.4 L625.0,293.8 L625.5,293.1 L626.0,292.5 L626.5,291.9 L627.0,291.2 L627.5,290.6 L628.0,289.9 L628.5,289.0 L629.0,288.0 L629.5,287.0 L630.0,286.0 L630.5,285.0 L631.0,284.0 L631.5,283.0 L632.0,282.0 L632.5,281.0 L633.0,280.1 L633.5,279.2 L634.0,278.4 L634.5,277.6 L635.0,276.8 L635.5,276.0 L636.0,275.2 L636.5,274.4 L637.0,273.6 L637.5,272.8 L638.0,271.9 L638.5,270.9 L639.0,269.8 L639.5,268.6 L640.0,267.5 L640.5,266.4 L641.0,265.2 L641.5,264.1 L642.0,263.0 L642.5,261.9 L643.0,260.8 L643.5,259.6 L644.0,258.5 L644.5,257.4 L645.0,256.2 L645.5,255.1 L646.0,254.0 L646.5,253.0 L647.0,252.0 L647.5,251.0 L648.0,250.0 L648.5,249.0 L649.0,248.5 L649.5,248.5 L650.0,249.0 L650.5,249.5 L651.0,250.0 L651.5,250.5 L652.0,250.2 L652.5,249.2 L653.0,247.3 L653.5,245.5 L654.0,243.7 L654.5,241.8 L655.0,239.8 L655.5,237.5 L656.0,235.0 L656.5,232.5 L657.0,230.0 L657.5,227.5 L658.0,225.7 L658.5,224.6 L659.0,224.1 L659.5,224.1 L660.0,224.7 L660.5,225.8 L661.0,227.1 L661.5,228.3 L662.0,229.5 L662.5,230.8 L663.0,231.4 L663.5,231.4 L664.0,230.8 L664.5,230.2 L665.0,229.6 L665.5,229.0 L666.0,228.4 L666.5,227.8 L667.0,227.2 L667.5,226.6 L668.0,226.4 L668.5,226.5 L669.0,227.0 L669.5,227.5 L670.0,228.0 L670.5,228.5 L671.0,229.0 L671.5,229.5 L672.0,230.2 L672.5,231.0 L673.0,232.0 L673.5,233.0 L674.0,234.0 L674.5,235.0 L675.0,236.0 L675.5,237.0 L676.0,237.8 L676.5,238.5 L677.0,239.0 L677.5,239.5 L678.0,240.0 L678.5,240.5 L679.0,241.0 L679.5,241.5 L680.0,242.1 L680.5,242.8 L681.0,243.6 L681.5,244.4 L682.0,245.2 L682.5,246.0 L683.0,246.8 L683.5,247.6 L684.0,248.4 L684.5,249.2 L685.0,249.9 L685.5,250.5 L686.0,251.0 L686.5,251.5 L687.0,252.0 L687.5,252.5 L688.0,253.0 L688.5,253.5 L689.0,254.0 L689.5,254.6 L690.0,255.2 L690.5,255.7 L691.0,256.3 L691.5,256.9 L692.0,257.5 L692.5,258.0 L693.0,258.3 L693.5,258.3 L694.0,258.1 L694.5,257.8 L695.0,257.6 L695.5,257.3 L696.0,257.0 L696.5,256.8 L697.0,256.5 L697.5,256.3 L698.0,256.0 L698.5,255.8 L699.0,255.6 L699.5,255.4 L700.0,255.2 L700.5,255.0 L701.0,254.8 L701.5,254.6 L702.0,254.4 L702.5,254.2 L703.0,253.9 L703.5,253.4 L704.0,252.8 L704.5,252.2 L705.0,251.6 L705.5,251.0 L706.0,250.4 L706.5,249.8 L707.0,249.2 L707.5,248.6 L708.0,248.0 L708.5,247.4 L709.0,246.8 L709.5,246.2 L710.0,245.6 L710.5,245.0 L711.0,244.4 L711.5,243.8 L712.0,243.2 L712.5,242.6 L713.0,242.0 L713.5,241.4 L714.0,240.8 L714.5,240.1 L715.0,239.5 L715.5,238.9 L716.0,238.2 L716.5,237.6 L717.0,237.5 L717.5,237.8 L718.0,238.7 L718.5,239.5 L719.0,240.3 L719.5,241.2 L720.0,241.2 L720.5,240.3 L721.0,238.7 L721.5,237.0 L722.0,235.3 L722.5,233.7 L723.0,231.9 L723.5,230.1 L724.0,228.2 L724.5,226.3 L725.0,224.4 L725.5,222.5 L726.0,221.8 L726.5,222.2 L727.0,223.7 L727.5,225.3 L728.0,226.9 L728.5,228.4 L729.0,229.8 L729.5,230.8 L730.0,231.7 L730.5,232.5 L731.0,233.3 L731.5,234.2 L732.0,234.7 L732.5,234.8 L733.0,234.7 L733.5,234.5 L734.0,234.3 L734.5,234.1 L735.0,234.0 L735.5,233.8 L736.0,234.0 L736.5,234.5 L737.0,235.5 L737.5,236.4 L738.0,237.3 L738.5,238.2 L739.0,239.2 L739.5,240.1 L740.0,241.1 L740.5,242.1 L741.0,243.2 L741.5,244.3 L742.0,245.4 L742.5,246.5 L743.0,247.6 L743.5,248.7 L744.0,249.8 L744.5,250.9 L745.0,252.0 L745.5,253.1 L746.0,254.2 L746.5,255.3 L747.0,256.4 L747.5,257.5 L748.0,258.6 L748.5,259.7 L749.0,260.8 L749.5,261.9 L750.0,263.0 L750.5,264.2 L751.0,265.4 L751.5,266.6 L752.0,267.8 L752.5,269.0 L753.0,270.2 L753.5,271.4 L754.0,272.6 L754.5,273.8 L755.0,274.9 L755.5,275.9 L756.0,276.9 L756.5,277.8 L757.0,278.8 L757.5,279.8 L758.0,280.7 L758.5,281.7 L759.0,282.6 L759.5,283.6 L760.0,284.3 L760.5,284.8 L761.0,285.2 L761.5,285.6 L762.0,285.9 L762.5,286.2 L763.0,286.6 L763.5,286.9 L764.0,287.3 L764.5,287.7 L765.0,287.9 L765.5,288.1 L766.0,288.2 L766.5,288.3 L767.0,288.4 L767.5,288.5 L768.0,288.6 L768.5,288.7 L769.0,288.8 L769.5,288.9 L770.0,289.0 L770.5,289.1 L771.0,289.2 L771.5,289.4 L772.0,289.5 L772.5,289.6 L773.0,289.8 L773.5,289.9 L774.0,289.7 L774.5,289.3 L775.0,288.6 L775.5,287.9 L776.0,287.2 L776.5,286.5 L777.0,285.8 L777.5,285.1 L778.0,284.4 L778.5,283.7 L779.0,283.0 L779.5,282.2 L780.0,281.5 L780.5,280.8 L781.0,280.0 L781.5,279.2 L782.0,278.5 L782.5,277.8 L783.0,277.1 L783.5,276.6 L784.0,276.2 L784.5,275.8 L785.0,275.5 L785.5,275.4 L786.0,275.7 L786.5,276.5 L787.0,277.3 L787.5,278.2 L788.0,279.0 L788.5,279.0 L789.0,277.9 L789.5,275.8 L790.0,273.5 L790.5,271.1 L791.0,268.8 L791.5,266.7 L792.0,264.9 L792.5,263.3 L793.0,261.8 L793.5,260.3 L794.0,259.0 L794.5,258.5 L795.0,259.0 L795.5,260.2 L796.0,261.3 L796.5,262.5 L797.0,263.7 L797.5,264.8 L798.0,265.8 L798.5,266.5 L799.0,267.0 L799.5,267.5 L800.0,267.7 L800.5,267.7 L801.0,267.4 L801.5,267.1 L802.0,266.8 L802.5,266.5 L803.0,266.2 L803.5,265.9 L804.0,265.9 L804.5,266.2 L805.0,266.7 L805.5,267.2 L806.0,267.8 L806.5,268.3 L807.0,268.9 L807.5,269.4 L808.0,270.1 L808.5,270.9 L809.0,271.8 L809.5,272.7 L810.0,273.6 L810.5,274.5 L811.0,275.4 L811.5,276.3 L812.0,277.2 L812.5,278.1 L813.0,279.0 L813.5,279.8 L814.0,280.6 L814.5,281.4 L815.0,282.2 L815.5,283.0 L816.0,283.8 L816.5,284.6 L817.0,285.4 L817.5,286.2 L818.0,287.0 L818.5,287.9 L819.0,288.8 L819.5,289.7 L820.0,290.6 L820.5,291.5 L821.0,292.4 L821.5,293.3 L822.0,294.2 L822.5,295.1 L823.0,296.0 L823.5,296.8 L824.0,297.7 L824.5,298.5 L825.0,299.4 L825.5,300.2 L826.0,301.0 L826.5,301.9 L827.0,302.7 L827.5,303.6 L828.0,304.2 L828.5,304.6 L829.0,304.8 L829.5,305.0 L830.0,305.2 L830.5,305.4 L831.0,305.5 L831.5,305.4 L832.0,305.3 L832.5,305.1 L833.0,305.0 L833.5,304.8 L834.0,304.6 L834.5,304.5 L835.0,304.3 L835.5,304.2 L836.0,304.1 L836.5,304.0 L837.0,304.1 L837.5,304.1 L838.0,304.1 L838.5,304.2 L839.0,304.2 L839.5,304.2 L840.0,304.3 L840.5,304.3 L841.0,304.3 L841.5,304.4 L842.0,304.2 L842.5,303.8 L843.0,303.3 L843.5,302.8 L844.0,302.2 L844.5,301.7 L845.0,301.1 L845.5,300.6 L846.0,300.0 L846.5,299.4 L847.0,298.8 L847.5,298.1 L848.0,297.5 L848.5,296.9 L849.0,296.2 L849.5,295.6 L850.0,295.0 L850.5,294.3 L851.0,293.7 L851.5,293.0 L852.0,292.3 L852.5,291.7 L853.0,291.6 L853.5,292.0 L854.0,293.0 L854.5,294.0 L855.0,295.0 L855.5,296.0 L856.0,295.9 L856.5,294.7 L857.0,292.3 L857.5,290.0 L858.0,287.7 L858.5,285.3 L859.0,283.2 L859.5,281.2 L860.0,279.3 L860.5,277.5 L861.0,275.7 L861.5,273.8 L862.0,273.0 L862.5,273.2 L863.0,274.3 L863.5,275.5 L864.0,276.7 L864.5,277.8 L865.0,278.8 L865.5,279.7 L866.0,280.3 L866.5,281.0 L867.0,281.7 L867.5,282.3 L868.0,282.6 L868.5,282.6 L869.0,282.2 L869.5,281.7 L870.0,281.3 L870.5,280.9 L871.0,280.5 L871.5,280.0 L872.0,279.9 L872.5,280.0 L873.0,280.5 L873.5,280.9 L874.0,281.3 L874.5,281.7 L875.0,282.2 L875.5,282.6 L876.0,283.2 L876.5,284.1 L877.0,285.2 L877.5,286.4 L878.0,287.5 L878.5,288.6 L879.0,289.8 L879.5,290.9 L880.0,291.9 L880.5,292.9 L881.0,293.8 L881.5,294.7 L882.0,295.6 L882.5,296.5 L883.0,297.4 L883.5,298.3 L884.0,299.2 L884.5,300.1 L885.0,301.0 L885.5,301.9 L886.0,302.8 L886.5,303.6 L887.0,304.5 L887.5,305.4 L888.0,306.2 L888.5,307.1 L889.0,308.0 L889.5,308.9 L890.0,309.8 L890.5,310.6 L891.0,311.5 L891.5,312.4 L892.0,313.2 L892.5,314.1 L893.0,314.9 L893.5,315.7 L894.0,316.3 L894.5,317.0 L895.0,317.7 L895.5,318.4 L896.0,319.0 L896.5,319.7 L897.0,320.1 L897.5,320.3 L898.0,320.2 L898.5,320.2 L899.0,320.1 L899.5,320.0 L900.0,319.9 L900.5,319.8 L901.0,319.8 L901.5,319.7 L902.0,319.6 L902.5,319.4 L903.0,319.2 L903.5,319.0 L904.0,318.7 L904.5,318.5 L905.0,318.3 L905.5,318.1 L906.0,317.9 L906.5,317.7 L907.0,317.4 L907.5,317.2 L908.0,316.9 L908.5,316.5 L909.0,316.0 L909.5,315.5 L910.0,315.0 L910.5,314.5 L911.0,314.0 L911.5,313.5 L912.0,313.0 L912.5,312.5 L913.0,312.1 L913.5,311.7 L914.0,311.4 L914.5,311.1 L915.0,310.8 L915.5,310.5 L916.0,310.2 L916.5,309.9 L917.0,309.6 L917.5,309.3 L918.0,308.9 L918.5,308.3 L919.0,307.7 L919.5,307.0 L920.0,306.3 L920.5,305.7 L921.0,305.5 L921.5,306.0 L922.0,306.9 L922.5,307.9 L923.0,308.8 L923.5,309.0 L924.0,308.1 L924.5,306.3 L925.0,304.2 L925.5,302.1 L926.0,299.9 L926.5,297.7 L927.0,295.3 L927.5,293.0 L928.0,290.7 L928.5,288.3 L929.0,286.5 L929.5,285.2 L930.0,284.3 L930.5,283.6 L931.0,282.9 L931.5,282.3 L932.0,281.7 L932.5,281.1 L933.0,280.8" fill="none" stroke="#0072B2" stroke-width="2.1" stroke-linejoin="round" stroke-linecap="square"/>
<path d="M929.8,286.0 L931.5,282.5 L933.0,280.0 L934.8,282.1 L936.5,280.2 L939.0,279.1 L941.0,280.0 L943.0,282.0 L944.7,284.5 L944.7,300.0 L943.8,300.1 L942.0,298.0 L939.0,295.3 L937.0,297.0 L934.8,298.9 L933.0,296.0 L931.5,291.0 L930.3,287.0Z" fill="#0072B2" stroke="#0072B2" stroke-width="1.0" stroke-linejoin="round"/>
<path d="M937.7,253.6h0M937.5,256.6h0M934.8,263.6h0M934.6,266.8h0M934.3,270.8h0" stroke="#ff0000" stroke-width="7" stroke-linecap="round" fill="none"/>
</g>
<rect x="79.5" y="15.4" width="906.0" height="527.1" fill="none" stroke="#000" stroke-width="1.1"/>
<line x1="123.50" x2="123.50" y1="542.5" y2="547.5" stroke="#000" stroke-width="1.1"/>
<line x1="258.50" x2="258.50" y1="542.5" y2="547.5" stroke="#000" stroke-width="1.1"/>
<line x1="394.50" x2="394.50" y1="542.5" y2="547.5" stroke="#000" stroke-width="1.1"/>
<line x1="530.50" x2="530.50" y1="542.5" y2="547.5" stroke="#000" stroke-width="1.1"/>
<line x1="665.50" x2="665.50" y1="542.5" y2="547.5" stroke="#000" stroke-width="1.1"/>
<line x1="801.50" x2="801.50" y1="542.5" y2="547.5" stroke="#000" stroke-width="1.1"/>
<line x1="937.50" x2="937.50" y1="542.5" y2="547.5" stroke="#000" stroke-width="1.1"/>
<line x1="74.5" x2="79.5" y1="532.50" y2="532.50" stroke="#000" stroke-width="1.1"/>
<line x1="74.5" x2="79.5" y1="416.50" y2="416.50" stroke="#000" stroke-width="1.1"/>
<line x1="74.5" x2="79.5" y1="300.50" y2="300.50" stroke="#000" stroke-width="1.1"/>
<line x1="74.5" x2="79.5" y1="183.50" y2="183.50" stroke="#000" stroke-width="1.1"/>
<line x1="74.5" x2="79.5" y1="67.50" y2="67.50" stroke="#000" stroke-width="1.1"/>
<g opacity="0.999">
<text x="122.50" y="562.3" font-size="14.2" font-family="Liberation Sans, sans-serif" text-anchor="middle" textLength="34" lengthAdjust="spacingAndGlyphs" fill="#000">2014</text>
<text x="257.50" y="562.3" font-size="14.2" font-family="Liberation Sans, sans-serif" text-anchor="middle" textLength="34" lengthAdjust="spacingAndGlyphs" fill="#000">2016</text>
<text x="393.50" y="562.3" font-size="14.2" font-family="Liberation Sans, sans-serif" text-anchor="middle" textLength="34" lengthAdjust="spacingAndGlyphs" fill="#000">2018</text>
<text x="529.50" y="562.3" font-size="14.2" font-family="Liberation Sans, sans-serif" text-anchor="middle" textLength="34" lengthAdjust="spacingAndGlyphs" fill="#000">2020</text>
<text x="664.50" y="562.3" font-size="14.2" font-family="Liberation Sans, sans-serif" text-anchor="middle" textLength="34" lengthAdjust="spacingAndGlyphs" fill="#000">2022</text>
<text x="800.50" y="562.3" font-size="14.2" font-family="Liberation Sans, sans-serif" text-anchor="middle" textLength="34" lengthAdjust="spacingAndGlyphs" fill="#000">2024</text>
<text x="936.50" y="562.3" font-size="14.2" font-family="Liberation Sans, sans-serif" text-anchor="middle" textLength="34" lengthAdjust="spacingAndGlyphs" fill="#000">2026</text>
<text x="69.2" y="537.50" font-size="14.2" font-family="Liberation Sans, sans-serif" text-anchor="end" textLength="7.8" lengthAdjust="spacingAndGlyphs" fill="#000">0</text>
<text x="69.2" y="420.90" font-size="14.2" font-family="Liberation Sans, sans-serif" text-anchor="end" textLength="25.0" lengthAdjust="spacingAndGlyphs" fill="#000">500</text>
<text x="69.2" y="304.90" font-size="14.2" font-family="Liberation Sans, sans-serif" text-anchor="end" textLength="33.6" lengthAdjust="spacingAndGlyphs" fill="#000">1000</text>
<text x="69.2" y="188.50" font-size="14.2" font-family="Liberation Sans, sans-serif" text-anchor="end" textLength="33.6" lengthAdjust="spacingAndGlyphs" fill="#000">1500</text>
<text x="69.2" y="72.50" font-size="14.2" font-family="Liberation Sans, sans-serif" text-anchor="end" textLength="33.6" lengthAdjust="spacingAndGlyphs" fill="#000">2000</text>
<text x="532.4" y="582" font-size="14.2" font-family="Liberation Sans, sans-serif" text-anchor="middle" textLength="14.5" lengthAdjust="spacingAndGlyphs" fill="#000">ds</text>
<text transform="translate(25.2,278.6) rotate(-90)" font-size="14.2" font-family="Liberation Sans, sans-serif" text-anchor="middle" textLength="8" lengthAdjust="spacingAndGlyphs" fill="#000">y</text>
</g>
</svg>
</body></html>
